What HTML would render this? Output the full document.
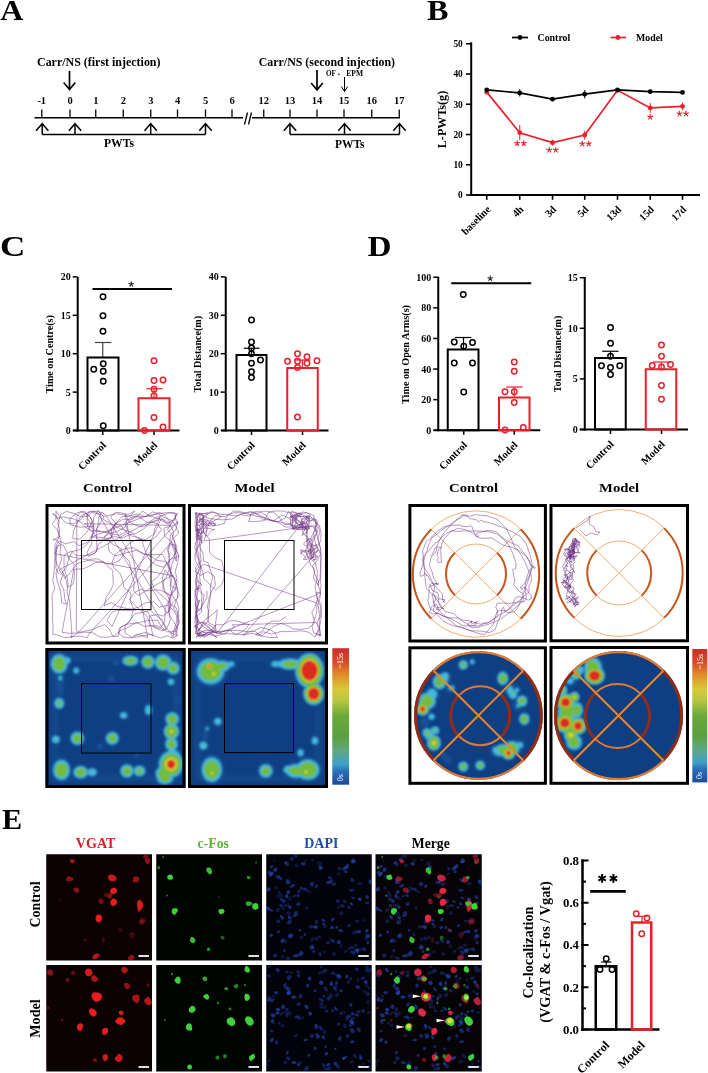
<!DOCTYPE html>
<html><head><meta charset="utf-8"><style>
html,body{margin:0;padding:0;background:#fff;width:708px;height:1073px;overflow:hidden}
svg{display:block;will-change:transform}
text{font-family:"Liberation Serif",serif}
</style></head><body>
<svg width="708" height="1073" viewBox="0 0 708 1073">
<defs>
<filter id="hb" x="-10%" y="-10%" width="120%" height="120%"><feGaussianBlur stdDeviation="1.0"/></filter>
<filter id="hb2" x="-10%" y="-10%" width="120%" height="120%"><feGaussianBlur stdDeviation="2.5"/></filter>
<filter id="cb" x="-10%" y="-10%" width="120%" height="120%"><feGaussianBlur stdDeviation="0.45"/></filter>
<linearGradient id="cbg" x1="0" y1="0" x2="0" y2="1">
<stop offset="0" stop-color="#c8302a"/><stop offset="0.1" stop-color="#d84a28"/><stop offset="0.2" stop-color="#e0902a"/>
<stop offset="0.3" stop-color="#d8c838"/><stop offset="0.38" stop-color="#b8c840"/><stop offset="0.5" stop-color="#6aa83a"/>
<stop offset="0.65" stop-color="#5aa040"/><stop offset="0.75" stop-color="#60a880"/><stop offset="0.85" stop-color="#40a0c8"/>
<stop offset="0.9" stop-color="#2a70b8"/><stop offset="1" stop-color="#1e4a98"/>
</linearGradient>
</defs>
<rect width="708" height="1073" fill="#fff"/>
<g transform="translate(0.2 20) scale(1.1 1) translate(-0.2 -20)">
<text x="0.2" y="20" font-size="29" font-weight="bold" text-anchor="start" fill="#000" font-family="'Liberation Serif', serif">A</text>
</g>
<g transform="translate(427 20) scale(1.11 1) translate(-427 -20)">
<text x="427" y="20" font-size="29" font-weight="bold" text-anchor="start" fill="#000" font-family="'Liberation Serif', serif">B</text>
</g>
<g transform="translate(0 256) scale(1.21 1) translate(0 -256)">
<text x="0" y="256" font-size="29" font-weight="bold" text-anchor="start" fill="#000" font-family="'Liberation Serif', serif">C</text>
</g>
<g transform="translate(367.5 256) scale(1.145 1) translate(-367.5 -256)">
<text x="367.5" y="256" font-size="29" font-weight="bold" text-anchor="start" fill="#000" font-family="'Liberation Serif', serif">D</text>
</g>
<g transform="translate(2 829) scale(1.04 1) translate(-2 -829)">
<text x="2" y="829" font-size="29" font-weight="bold" text-anchor="start" fill="#000" font-family="'Liberation Serif', serif">E</text>
</g>
<text x="37" y="66" font-size="12" font-weight="bold" text-anchor="start" fill="#000" font-family="'Liberation Serif', serif" textLength="123.5" lengthAdjust="spacingAndGlyphs">Carr/NS (first injection)</text>
<text x="258.75" y="66" font-size="12" font-weight="bold" text-anchor="start" fill="#000" font-family="'Liberation Serif', serif" textLength="136.25" lengthAdjust="spacingAndGlyphs">Carr/NS (second injection)</text>
<text x="326" y="76.3" font-size="7.5" font-weight="bold" text-anchor="start" fill="#000" font-family="'Liberation Serif', serif" textLength="10" lengthAdjust="spacingAndGlyphs">OF</text>
<line x1="338.3" y1="73.6" x2="339.4" y2="74.8" stroke="#000" stroke-width="1.1"/>
<text x="346.3" y="76.3" font-size="7.5" font-weight="bold" text-anchor="start" fill="#000" font-family="'Liberation Serif', serif" textLength="16.8" lengthAdjust="spacingAndGlyphs">EPM</text>
<line x1="34.5" y1="117.75" x2="400" y2="117.75" stroke="#000" stroke-width="1.4"/>
<line x1="41.75" y1="109.5" x2="41.75" y2="117.75" stroke="#000" stroke-width="1.3"/>
<text x="41.75" y="104.3" font-size="10.5" font-weight="bold" text-anchor="middle" fill="#000" font-family="'Liberation Serif', serif">-1</text>
<line x1="70" y1="109.5" x2="70" y2="117.75" stroke="#000" stroke-width="1.3"/>
<text x="70" y="104.3" font-size="10.5" font-weight="bold" text-anchor="middle" fill="#000" font-family="'Liberation Serif', serif">0</text>
<line x1="95.75" y1="109.5" x2="95.75" y2="117.75" stroke="#000" stroke-width="1.3"/>
<text x="95.75" y="104.3" font-size="10.5" font-weight="bold" text-anchor="middle" fill="#000" font-family="'Liberation Serif', serif">1</text>
<line x1="123.25" y1="109.5" x2="123.25" y2="117.75" stroke="#000" stroke-width="1.3"/>
<text x="123.25" y="104.3" font-size="10.5" font-weight="bold" text-anchor="middle" fill="#000" font-family="'Liberation Serif', serif">2</text>
<line x1="150.75" y1="109.5" x2="150.75" y2="117.75" stroke="#000" stroke-width="1.3"/>
<text x="150.75" y="104.3" font-size="10.5" font-weight="bold" text-anchor="middle" fill="#000" font-family="'Liberation Serif', serif">3</text>
<line x1="177.5" y1="109.5" x2="177.5" y2="117.75" stroke="#000" stroke-width="1.3"/>
<text x="177.5" y="104.3" font-size="10.5" font-weight="bold" text-anchor="middle" fill="#000" font-family="'Liberation Serif', serif">4</text>
<line x1="205.5" y1="109.5" x2="205.5" y2="117.75" stroke="#000" stroke-width="1.3"/>
<text x="205.5" y="104.3" font-size="10.5" font-weight="bold" text-anchor="middle" fill="#000" font-family="'Liberation Serif', serif">5</text>
<line x1="232" y1="109.5" x2="232" y2="117.75" stroke="#000" stroke-width="1.3"/>
<text x="232" y="104.3" font-size="10.5" font-weight="bold" text-anchor="middle" fill="#000" font-family="'Liberation Serif', serif">6</text>
<line x1="263.75" y1="109.5" x2="263.75" y2="117.75" stroke="#000" stroke-width="1.3"/>
<text x="263.75" y="104.3" font-size="10.5" font-weight="bold" text-anchor="middle" fill="#000" font-family="'Liberation Serif', serif">12</text>
<line x1="290" y1="109.5" x2="290" y2="117.75" stroke="#000" stroke-width="1.3"/>
<text x="290" y="104.3" font-size="10.5" font-weight="bold" text-anchor="middle" fill="#000" font-family="'Liberation Serif', serif">13</text>
<line x1="317" y1="109.5" x2="317" y2="117.75" stroke="#000" stroke-width="1.3"/>
<text x="317" y="104.3" font-size="10.5" font-weight="bold" text-anchor="middle" fill="#000" font-family="'Liberation Serif', serif">14</text>
<line x1="344" y1="109.5" x2="344" y2="117.75" stroke="#000" stroke-width="1.3"/>
<text x="344" y="104.3" font-size="10.5" font-weight="bold" text-anchor="middle" fill="#000" font-family="'Liberation Serif', serif">15</text>
<line x1="371.75" y1="109.5" x2="371.75" y2="117.75" stroke="#000" stroke-width="1.3"/>
<text x="371.75" y="104.3" font-size="10.5" font-weight="bold" text-anchor="middle" fill="#000" font-family="'Liberation Serif', serif">16</text>
<line x1="399.25" y1="109.5" x2="399.25" y2="117.75" stroke="#000" stroke-width="1.3"/>
<text x="399.25" y="104.3" font-size="10.5" font-weight="bold" text-anchor="middle" fill="#000" font-family="'Liberation Serif', serif">17</text>
<rect x="243" y="112" width="9" height="12" fill="#fff"/>
<line x1="244.5" y1="124.5" x2="247.5" y2="112.5" stroke="#000" stroke-width="1.3"/>
<line x1="248.5" y1="124.5" x2="251.5" y2="112.5" stroke="#000" stroke-width="1.3"/>
<line x1="69.5" y1="71" x2="69.5" y2="89.5" stroke="#000" stroke-width="1.7"/>
<polyline points="63.70,82.50 69.50,89.50 75.30,82.50" fill="none" stroke="#000" stroke-width="1.7"/>
<line x1="317" y1="70" x2="317" y2="90" stroke="#000" stroke-width="1.7"/>
<polyline points="311.20,83.00 317.00,90.00 322.80,83.00" fill="none" stroke="#000" stroke-width="1.7"/>
<line x1="344.5" y1="77" x2="344.5" y2="91.5" stroke="#000" stroke-width="1.0"/>
<polyline points="341.40,86.50 344.50,91.50 347.60,86.50" fill="none" stroke="#000" stroke-width="1.0"/>
<line x1="42.2" y1="123.7" x2="42.2" y2="134.5" stroke="#000" stroke-width="1.5"/>
<polyline points="36.00,130.70 42.20,123.70 48.40,130.70" fill="none" stroke="#000" stroke-width="1.5"/>
<line x1="75" y1="123.7" x2="75" y2="134.5" stroke="#000" stroke-width="1.5"/>
<polyline points="68.80,130.70 75.00,123.70 81.20,130.70" fill="none" stroke="#000" stroke-width="1.5"/>
<line x1="150.7" y1="123.7" x2="150.7" y2="134.5" stroke="#000" stroke-width="1.5"/>
<polyline points="144.50,130.70 150.70,123.70 156.90,130.70" fill="none" stroke="#000" stroke-width="1.5"/>
<line x1="205.5" y1="123.7" x2="205.5" y2="134.5" stroke="#000" stroke-width="1.5"/>
<polyline points="199.30,130.70 205.50,123.70 211.70,130.70" fill="none" stroke="#000" stroke-width="1.5"/>
<line x1="42.2" y1="134.5" x2="205.5" y2="134.5" stroke="#000" stroke-width="1.4"/>
<line x1="290" y1="123.7" x2="290" y2="134.5" stroke="#000" stroke-width="1.5"/>
<polyline points="283.80,130.70 290.00,123.70 296.20,130.70" fill="none" stroke="#000" stroke-width="1.5"/>
<line x1="344.5" y1="123.7" x2="344.5" y2="134.5" stroke="#000" stroke-width="1.5"/>
<polyline points="338.30,130.70 344.50,123.70 350.70,130.70" fill="none" stroke="#000" stroke-width="1.5"/>
<line x1="399.5" y1="123.7" x2="399.5" y2="134.5" stroke="#000" stroke-width="1.5"/>
<polyline points="393.30,130.70 399.50,123.70 405.70,130.70" fill="none" stroke="#000" stroke-width="1.5"/>
<line x1="290" y1="134.5" x2="399.5" y2="134.5" stroke="#000" stroke-width="1.4"/>
<text x="104" y="147" font-size="12" font-weight="bold" text-anchor="start" fill="#000" font-family="'Liberation Serif', serif" textLength="30" lengthAdjust="spacingAndGlyphs">PWTs</text>
<text x="335" y="147.5" font-size="12" font-weight="bold" text-anchor="start" fill="#000" font-family="'Liberation Serif', serif" textLength="29.5" lengthAdjust="spacingAndGlyphs">PWTs</text>
<line x1="471.2" y1="42.3" x2="471.2" y2="196" stroke="#000" stroke-width="2.0"/>
<line x1="470.2" y1="195" x2="700" y2="195" stroke="#000" stroke-width="2.0"/>
<line x1="466" y1="195.0" x2="471" y2="195.0" stroke="#000" stroke-width="1.6"/>
<text x="462.8" y="198.3" font-size="9.4" font-weight="bold" text-anchor="end" fill="#000" font-family="'Liberation Serif', serif">0</text>
<line x1="466" y1="164.75" x2="471" y2="164.75" stroke="#000" stroke-width="1.6"/>
<text x="462.8" y="168.05" font-size="9.4" font-weight="bold" text-anchor="end" fill="#000" font-family="'Liberation Serif', serif">10</text>
<line x1="466" y1="134.5" x2="471" y2="134.5" stroke="#000" stroke-width="1.6"/>
<text x="462.8" y="137.8" font-size="9.4" font-weight="bold" text-anchor="end" fill="#000" font-family="'Liberation Serif', serif">20</text>
<line x1="466" y1="104.25" x2="471" y2="104.25" stroke="#000" stroke-width="1.6"/>
<text x="462.8" y="107.55" font-size="9.4" font-weight="bold" text-anchor="end" fill="#000" font-family="'Liberation Serif', serif">30</text>
<line x1="466" y1="74.0" x2="471" y2="74.0" stroke="#000" stroke-width="1.6"/>
<text x="462.8" y="77.3" font-size="9.4" font-weight="bold" text-anchor="end" fill="#000" font-family="'Liberation Serif', serif">40</text>
<line x1="466" y1="43.75" x2="471" y2="43.75" stroke="#000" stroke-width="1.6"/>
<text x="462.8" y="47.05" font-size="9.4" font-weight="bold" text-anchor="end" fill="#000" font-family="'Liberation Serif', serif">50</text>
<line x1="486.75" y1="195" x2="486.75" y2="199.8" stroke="#000" stroke-width="1.6"/>
<text x="491.25" y="210" font-size="10.5" font-weight="bold" text-anchor="end" fill="#000" font-family="'Liberation Serif', serif" transform="rotate(-45 491.25 210)">baseline</text>
<line x1="519.75" y1="195" x2="519.75" y2="199.8" stroke="#000" stroke-width="1.6"/>
<text x="524.25" y="210" font-size="10.5" font-weight="bold" text-anchor="end" fill="#000" font-family="'Liberation Serif', serif" transform="rotate(-45 524.25 210)">4h</text>
<line x1="552.5" y1="195" x2="552.5" y2="199.8" stroke="#000" stroke-width="1.6"/>
<text x="557.0" y="210" font-size="10.5" font-weight="bold" text-anchor="end" fill="#000" font-family="'Liberation Serif', serif" transform="rotate(-45 557.0 210)">3d</text>
<line x1="584.75" y1="195" x2="584.75" y2="199.8" stroke="#000" stroke-width="1.6"/>
<text x="589.25" y="210" font-size="10.5" font-weight="bold" text-anchor="end" fill="#000" font-family="'Liberation Serif', serif" transform="rotate(-45 589.25 210)">5d</text>
<line x1="617.5" y1="195" x2="617.5" y2="199.8" stroke="#000" stroke-width="1.6"/>
<text x="622.0" y="210" font-size="10.5" font-weight="bold" text-anchor="end" fill="#000" font-family="'Liberation Serif', serif" transform="rotate(-45 622.0 210)">13d</text>
<line x1="650.25" y1="195" x2="650.25" y2="199.8" stroke="#000" stroke-width="1.6"/>
<text x="654.75" y="210" font-size="10.5" font-weight="bold" text-anchor="end" fill="#000" font-family="'Liberation Serif', serif" transform="rotate(-45 654.75 210)">15d</text>
<line x1="682.5" y1="195" x2="682.5" y2="199.8" stroke="#000" stroke-width="1.6"/>
<text x="687.0" y="210" font-size="10.5" font-weight="bold" text-anchor="end" fill="#000" font-family="'Liberation Serif', serif" transform="rotate(-45 687.0 210)">17d</text>
<text x="446" y="119.5" font-size="12.8" font-weight="bold" text-anchor="middle" fill="#000" font-family="'Liberation Serif', serif" transform="rotate(-90 446 119.5)" textLength="57.4" lengthAdjust="spacingAndGlyphs">L-PWTs(g)</text>
<polyline points="486.75,92.15 519.75,132.69 552.50,142.67 584.75,135.10 617.50,90.33 650.25,107.88 682.50,106.37" fill="none" stroke="#e8202a" stroke-width="1.7"/>
<line x1="486.75" y1="90.335" x2="486.75" y2="93.965" stroke="#e8202a" stroke-width="1.0"/>
<circle cx="486.75" cy="92.15" r="2.4" fill="#e8202a" stroke="none" stroke-width="0"/>
<line x1="519.75" y1="125.1225" x2="519.75" y2="140.2475" stroke="#e8202a" stroke-width="1.0"/>
<circle cx="519.75" cy="132.69" r="2.4" fill="#e8202a" stroke="none" stroke-width="0"/>
<line x1="552.5" y1="139.64249999999998" x2="552.5" y2="145.6925" stroke="#e8202a" stroke-width="1.0"/>
<circle cx="552.50" cy="142.67" r="2.4" fill="#e8202a" stroke="none" stroke-width="0"/>
<line x1="584.75" y1="130.5675" x2="584.75" y2="139.64249999999998" stroke="#e8202a" stroke-width="1.0"/>
<circle cx="584.75" cy="135.10" r="2.4" fill="#e8202a" stroke="none" stroke-width="0"/>
<line x1="617.5" y1="88.52" x2="617.5" y2="92.15" stroke="#e8202a" stroke-width="1.0"/>
<circle cx="617.50" cy="90.33" r="2.4" fill="#e8202a" stroke="none" stroke-width="0"/>
<line x1="650.25" y1="103.03999999999999" x2="650.25" y2="112.72" stroke="#e8202a" stroke-width="1.0"/>
<circle cx="650.25" cy="107.88" r="2.4" fill="#e8202a" stroke="none" stroke-width="0"/>
<line x1="682.5" y1="102.7375" x2="682.5" y2="109.9975" stroke="#e8202a" stroke-width="1.0"/>
<circle cx="682.50" cy="106.37" r="2.4" fill="#e8202a" stroke="none" stroke-width="0"/>
<polyline points="486.75,89.88 519.75,92.91 552.50,99.20 584.75,94.18 617.50,89.88 650.25,91.64 682.50,92.45" fill="none" stroke="#000" stroke-width="1.7"/>
<line x1="486.75" y1="88.06625" x2="486.75" y2="91.69625" stroke="#000" stroke-width="1.0"/>
<circle cx="486.75" cy="89.88" r="2.4" fill="#000" stroke="none" stroke-width="0"/>
<line x1="519.75" y1="89.27624999999999" x2="519.75" y2="96.53625000000001" stroke="#000" stroke-width="1.0"/>
<circle cx="519.75" cy="92.91" r="2.4" fill="#000" stroke="none" stroke-width="0"/>
<line x1="552.5" y1="97.68575" x2="552.5" y2="100.71075" stroke="#000" stroke-width="1.0"/>
<circle cx="552.50" cy="99.20" r="2.4" fill="#000" stroke="none" stroke-width="0"/>
<line x1="584.75" y1="89.94175000000001" x2="584.75" y2="98.41175" stroke="#000" stroke-width="1.0"/>
<circle cx="584.75" cy="94.18" r="2.4" fill="#000" stroke="none" stroke-width="0"/>
<line x1="617.5" y1="88.06625" x2="617.5" y2="91.69625" stroke="#000" stroke-width="1.0"/>
<circle cx="617.50" cy="89.88" r="2.4" fill="#000" stroke="none" stroke-width="0"/>
<line x1="650.25" y1="89.82074999999999" x2="650.25" y2="93.45075" stroke="#000" stroke-width="1.0"/>
<circle cx="650.25" cy="91.64" r="2.4" fill="#000" stroke="none" stroke-width="0"/>
<line x1="682.5" y1="91.2425" x2="682.5" y2="93.66250000000001" stroke="#000" stroke-width="1.0"/>
<circle cx="682.50" cy="92.45" r="2.4" fill="#000" stroke="none" stroke-width="0"/>
<path d="M517.25,143.30 L517.25,140.80 M517.25,143.30 L519.63,142.53 M517.25,143.30 L518.72,145.32 M517.25,143.30 L515.78,145.32 M517.25,143.30 L514.87,142.53 " stroke="#e8202a" stroke-width="1.2" stroke-linecap="round" fill="none"/>
<path d="M523.75,143.30 L523.75,140.80 M523.75,143.30 L526.13,142.53 M523.75,143.30 L525.22,145.32 M523.75,143.30 L522.28,145.32 M523.75,143.30 L521.37,142.53 " stroke="#e8202a" stroke-width="1.2" stroke-linecap="round" fill="none"/>
<path d="M549.25,150.00 L549.25,147.50 M549.25,150.00 L551.63,149.23 M549.25,150.00 L550.72,152.02 M549.25,150.00 L547.78,152.02 M549.25,150.00 L546.87,149.23 " stroke="#e8202a" stroke-width="1.2" stroke-linecap="round" fill="none"/>
<path d="M555.75,150.00 L555.75,147.50 M555.75,150.00 L558.13,149.23 M555.75,150.00 L557.22,152.02 M555.75,150.00 L554.28,152.02 M555.75,150.00 L553.37,149.23 " stroke="#e8202a" stroke-width="1.2" stroke-linecap="round" fill="none"/>
<path d="M582.25,143.75 L582.25,141.25 M582.25,143.75 L584.63,142.98 M582.25,143.75 L583.72,145.77 M582.25,143.75 L580.78,145.77 M582.25,143.75 L579.87,142.98 " stroke="#e8202a" stroke-width="1.2" stroke-linecap="round" fill="none"/>
<path d="M588.75,143.75 L588.75,141.25 M588.75,143.75 L591.13,142.98 M588.75,143.75 L590.22,145.77 M588.75,143.75 L587.28,145.77 M588.75,143.75 L586.37,142.98 " stroke="#e8202a" stroke-width="1.2" stroke-linecap="round" fill="none"/>
<path d="M650.25,117.00 L650.25,114.50 M650.25,117.00 L652.63,116.23 M650.25,117.00 L651.72,119.02 M650.25,117.00 L648.78,119.02 M650.25,117.00 L647.87,116.23 " stroke="#e8202a" stroke-width="1.2" stroke-linecap="round" fill="none"/>
<path d="M679.50,113.75 L679.50,111.25 M679.50,113.75 L681.88,112.98 M679.50,113.75 L680.97,115.77 M679.50,113.75 L678.03,115.77 M679.50,113.75 L677.12,112.98 " stroke="#e8202a" stroke-width="1.2" stroke-linecap="round" fill="none"/>
<path d="M686.00,113.75 L686.00,111.25 M686.00,113.75 L688.38,112.98 M686.00,113.75 L687.47,115.77 M686.00,113.75 L684.53,115.77 M686.00,113.75 L683.62,112.98 " stroke="#e8202a" stroke-width="1.2" stroke-linecap="round" fill="none"/>
<line x1="512" y1="37.5" x2="528" y2="37.5" stroke="#000" stroke-width="1.7"/>
<circle cx="520.00" cy="37.50" r="2.4" fill="#000" stroke="none" stroke-width="0"/>
<text x="537.5" y="41" font-size="10" font-weight="bold" text-anchor="start" fill="#000" font-family="'Liberation Serif', serif" textLength="32.8" lengthAdjust="spacingAndGlyphs">Control</text>
<line x1="610.5" y1="37.5" x2="626" y2="37.5" stroke="#e8202a" stroke-width="1.7"/>
<circle cx="618.00" cy="37.50" r="2.4" fill="#e8202a" stroke="none" stroke-width="0"/>
<text x="636" y="41" font-size="10" font-weight="bold" text-anchor="start" fill="#000" font-family="'Liberation Serif', serif" textLength="26.8" lengthAdjust="spacingAndGlyphs">Model</text>
<line x1="77.7" y1="277" x2="77.7" y2="431.5" stroke="#000" stroke-width="2.0"/>
<line x1="73" y1="430.5" x2="179.5" y2="430.5" stroke="#000" stroke-width="2.0"/>
<line x1="72.7" y1="430.5" x2="77.7" y2="430.5" stroke="#000" stroke-width="1.5"/>
<text x="70.7" y="434.0" font-size="10" font-weight="bold" text-anchor="end" fill="#000" font-family="'Liberation Serif', serif">0</text>
<line x1="72.7" y1="392.1" x2="77.7" y2="392.1" stroke="#000" stroke-width="1.5"/>
<text x="70.7" y="395.6" font-size="10" font-weight="bold" text-anchor="end" fill="#000" font-family="'Liberation Serif', serif">5</text>
<line x1="72.7" y1="353.7" x2="77.7" y2="353.7" stroke="#000" stroke-width="1.5"/>
<text x="70.7" y="357.2" font-size="10" font-weight="bold" text-anchor="end" fill="#000" font-family="'Liberation Serif', serif">10</text>
<line x1="72.7" y1="315.3" x2="77.7" y2="315.3" stroke="#000" stroke-width="1.5"/>
<text x="70.7" y="318.8" font-size="10" font-weight="bold" text-anchor="end" fill="#000" font-family="'Liberation Serif', serif">15</text>
<line x1="72.7" y1="276.9" x2="77.7" y2="276.9" stroke="#000" stroke-width="1.5"/>
<text x="70.7" y="280.4" font-size="10" font-weight="bold" text-anchor="end" fill="#000" font-family="'Liberation Serif', serif">20</text>
<line x1="102.75" y1="430.5" x2="102.75" y2="435.0" stroke="#000" stroke-width="1.5"/>
<line x1="154" y1="430.5" x2="154" y2="435.0" stroke="#000" stroke-width="1.5"/>
<text x="106.75" y="446.0" font-size="10.5" font-weight="bold" text-anchor="end" fill="#000" font-family="'Liberation Serif', serif" transform="rotate(-45 106.75 446.0)">Control</text>
<text x="158" y="446.0" font-size="10.5" font-weight="bold" text-anchor="end" fill="#000" font-family="'Liberation Serif', serif" transform="rotate(-45 158 446.0)">Model</text>
<line x1="102.75" y1="342.5" x2="102.75" y2="357.5" stroke="#444" stroke-width="1.2"/>
<line x1="95" y1="342.5" x2="111.25" y2="342.5" stroke="#444" stroke-width="1.2"/>
<rect x="87.5" y="357.5" width="31.0" height="73.0" fill="none" stroke="#000" stroke-width="2.0"/>
<circle cx="93.75" cy="369.25" r="2.7" fill="none" stroke="#000" stroke-width="1.5"/>
<circle cx="103.25" cy="363.75" r="2.7" fill="none" stroke="#000" stroke-width="1.5"/>
<circle cx="103.25" cy="371.25" r="2.7" fill="none" stroke="#000" stroke-width="1.5"/>
<circle cx="103.25" cy="381.25" r="2.7" fill="none" stroke="#000" stroke-width="1.5"/>
<circle cx="103.25" cy="425.75" r="2.7" fill="none" stroke="#000" stroke-width="1.5"/>
<circle cx="103.00" cy="296.75" r="2.7" fill="none" stroke="#000" stroke-width="1.5"/>
<circle cx="103.00" cy="315.75" r="2.7" fill="none" stroke="#000" stroke-width="1.5"/>
<circle cx="103.00" cy="331.25" r="2.7" fill="none" stroke="#000" stroke-width="1.5"/>
<line x1="154" y1="388.75" x2="154" y2="398.25" stroke="#e8202a" stroke-width="1.2"/>
<line x1="146.25" y1="388.75" x2="162.5" y2="388.75" stroke="#e8202a" stroke-width="1.2"/>
<rect x="138.5" y="398.25" width="31.0" height="32.25" fill="none" stroke="#e8202a" stroke-width="2.0"/>
<circle cx="154.00" cy="360.75" r="2.7" fill="none" stroke="#e8202a" stroke-width="1.5"/>
<circle cx="154.00" cy="380.50" r="2.7" fill="none" stroke="#e8202a" stroke-width="1.5"/>
<circle cx="163.00" cy="380.00" r="2.7" fill="none" stroke="#e8202a" stroke-width="1.5"/>
<circle cx="154.00" cy="389.25" r="2.7" fill="none" stroke="#e8202a" stroke-width="1.5"/>
<circle cx="154.00" cy="395.75" r="2.7" fill="none" stroke="#e8202a" stroke-width="1.5"/>
<circle cx="154.00" cy="417.50" r="2.7" fill="none" stroke="#e8202a" stroke-width="1.5"/>
<circle cx="144.50" cy="430.50" r="2.7" fill="none" stroke="#e8202a" stroke-width="1.5"/>
<circle cx="163.00" cy="427.00" r="2.7" fill="none" stroke="#e8202a" stroke-width="1.5"/>
<text x="53" y="354.3" font-size="10.5" font-weight="bold" text-anchor="middle" fill="#000" font-family="'Liberation Serif', serif" transform="rotate(-90 53 354.3)" textLength="78.4" lengthAdjust="spacingAndGlyphs">Time on Centre(s)</text>
<line x1="92.5" y1="289" x2="172" y2="289" stroke="#000" stroke-width="1.8"/>
<path d="M131.25,284.20 L131.25,281.80 M131.25,284.20 L133.53,283.46 M131.25,284.20 L132.66,286.14 M131.25,284.20 L129.84,286.14 M131.25,284.20 L128.97,283.46 " stroke="#222" stroke-width="1.1" stroke-linecap="round" fill="none"/>
<line x1="225.75" y1="277" x2="225.75" y2="431.5" stroke="#000" stroke-width="2.0"/>
<line x1="221.25" y1="430.5" x2="328.5" y2="430.5" stroke="#000" stroke-width="2.0"/>
<line x1="220.75" y1="430.5" x2="225.75" y2="430.5" stroke="#000" stroke-width="1.5"/>
<text x="218.75" y="434.0" font-size="10" font-weight="bold" text-anchor="end" fill="#000" font-family="'Liberation Serif', serif">0</text>
<line x1="220.75" y1="392.1" x2="225.75" y2="392.1" stroke="#000" stroke-width="1.5"/>
<text x="218.75" y="395.6" font-size="10" font-weight="bold" text-anchor="end" fill="#000" font-family="'Liberation Serif', serif">10</text>
<line x1="220.75" y1="353.7" x2="225.75" y2="353.7" stroke="#000" stroke-width="1.5"/>
<text x="218.75" y="357.2" font-size="10" font-weight="bold" text-anchor="end" fill="#000" font-family="'Liberation Serif', serif">20</text>
<line x1="220.75" y1="315.3" x2="225.75" y2="315.3" stroke="#000" stroke-width="1.5"/>
<text x="218.75" y="318.8" font-size="10" font-weight="bold" text-anchor="end" fill="#000" font-family="'Liberation Serif', serif">30</text>
<line x1="220.75" y1="276.9" x2="225.75" y2="276.9" stroke="#000" stroke-width="1.5"/>
<text x="218.75" y="280.4" font-size="10" font-weight="bold" text-anchor="end" fill="#000" font-family="'Liberation Serif', serif">40</text>
<line x1="251.5" y1="430.5" x2="251.5" y2="435.0" stroke="#000" stroke-width="1.5"/>
<line x1="302.5" y1="430.5" x2="302.5" y2="435.0" stroke="#000" stroke-width="1.5"/>
<text x="255.5" y="446.0" font-size="10.5" font-weight="bold" text-anchor="end" fill="#000" font-family="'Liberation Serif', serif" transform="rotate(-45 255.5 446.0)">Control</text>
<text x="306.5" y="446.0" font-size="10.5" font-weight="bold" text-anchor="end" fill="#000" font-family="'Liberation Serif', serif" transform="rotate(-45 306.5 446.0)">Model</text>
<line x1="251.5" y1="348.25" x2="251.5" y2="355" stroke="#000" stroke-width="1.2"/>
<line x1="243.75" y1="348.25" x2="259.5" y2="348.25" stroke="#000" stroke-width="1.2"/>
<rect x="236.5" y="355" width="30.0" height="75.5" fill="none" stroke="#000" stroke-width="2.0"/>
<circle cx="251.50" cy="320.00" r="2.7" fill="none" stroke="#000" stroke-width="1.5"/>
<circle cx="251.50" cy="342.00" r="2.7" fill="none" stroke="#000" stroke-width="1.5"/>
<circle cx="251.50" cy="348.00" r="2.7" fill="none" stroke="#000" stroke-width="1.5"/>
<circle cx="251.50" cy="353.75" r="2.7" fill="none" stroke="#000" stroke-width="1.5"/>
<circle cx="251.50" cy="363.25" r="2.7" fill="none" stroke="#000" stroke-width="1.5"/>
<circle cx="260.50" cy="360.00" r="2.7" fill="none" stroke="#000" stroke-width="1.5"/>
<circle cx="251.50" cy="371.75" r="2.7" fill="none" stroke="#000" stroke-width="1.5"/>
<circle cx="251.50" cy="377.50" r="2.7" fill="none" stroke="#000" stroke-width="1.5"/>
<line x1="302.5" y1="360" x2="302.5" y2="368" stroke="#e8202a" stroke-width="1.2"/>
<line x1="294" y1="360" x2="310.5" y2="360" stroke="#e8202a" stroke-width="1.2"/>
<rect x="287.25" y="368" width="30.5" height="62.5" fill="none" stroke="#e8202a" stroke-width="2.0"/>
<circle cx="297.50" cy="353.75" r="2.7" fill="none" stroke="#e8202a" stroke-width="1.5"/>
<circle cx="307.00" cy="356.75" r="2.7" fill="none" stroke="#e8202a" stroke-width="1.5"/>
<circle cx="287.50" cy="361.25" r="2.7" fill="none" stroke="#e8202a" stroke-width="1.5"/>
<circle cx="297.50" cy="361.25" r="2.7" fill="none" stroke="#e8202a" stroke-width="1.5"/>
<circle cx="307.00" cy="363.25" r="2.7" fill="none" stroke="#e8202a" stroke-width="1.5"/>
<circle cx="317.00" cy="360.75" r="2.7" fill="none" stroke="#e8202a" stroke-width="1.5"/>
<circle cx="297.50" cy="367.50" r="2.7" fill="none" stroke="#e8202a" stroke-width="1.5"/>
<circle cx="297.50" cy="417.00" r="2.7" fill="none" stroke="#e8202a" stroke-width="1.5"/>
<text x="200.6" y="354.25" font-size="10.5" font-weight="bold" text-anchor="middle" fill="#000" font-family="'Liberation Serif', serif" transform="rotate(-90 200.6 354.25)" textLength="76.5" lengthAdjust="spacingAndGlyphs">Total Distance(m)</text>
<line x1="438.25" y1="276.75" x2="438.25" y2="431.25" stroke="#000" stroke-width="2.0"/>
<line x1="433.75" y1="430.25" x2="540.25" y2="430.25" stroke="#000" stroke-width="2.0"/>
<line x1="433.25" y1="430.25" x2="438.25" y2="430.25" stroke="#000" stroke-width="1.5"/>
<text x="431.25" y="433.75" font-size="10" font-weight="bold" text-anchor="end" fill="#000" font-family="'Liberation Serif', serif">0</text>
<line x1="433.25" y1="399.65" x2="438.25" y2="399.65" stroke="#000" stroke-width="1.5"/>
<text x="431.25" y="403.15" font-size="10" font-weight="bold" text-anchor="end" fill="#000" font-family="'Liberation Serif', serif">20</text>
<line x1="433.25" y1="369.05" x2="438.25" y2="369.05" stroke="#000" stroke-width="1.5"/>
<text x="431.25" y="372.55" font-size="10" font-weight="bold" text-anchor="end" fill="#000" font-family="'Liberation Serif', serif">40</text>
<line x1="433.25" y1="338.45" x2="438.25" y2="338.45" stroke="#000" stroke-width="1.5"/>
<text x="431.25" y="341.95" font-size="10" font-weight="bold" text-anchor="end" fill="#000" font-family="'Liberation Serif', serif">60</text>
<line x1="433.25" y1="307.85" x2="438.25" y2="307.85" stroke="#000" stroke-width="1.5"/>
<text x="431.25" y="311.35" font-size="10" font-weight="bold" text-anchor="end" fill="#000" font-family="'Liberation Serif', serif">80</text>
<line x1="433.25" y1="277.25" x2="438.25" y2="277.25" stroke="#000" stroke-width="1.5"/>
<text x="431.25" y="280.75" font-size="10" font-weight="bold" text-anchor="end" fill="#000" font-family="'Liberation Serif', serif">100</text>
<line x1="463.75" y1="430.25" x2="463.75" y2="434.75" stroke="#000" stroke-width="1.5"/>
<line x1="514.25" y1="430.25" x2="514.25" y2="434.75" stroke="#000" stroke-width="1.5"/>
<text x="467.75" y="445.75" font-size="10.5" font-weight="bold" text-anchor="end" fill="#000" font-family="'Liberation Serif', serif" transform="rotate(-45 467.75 445.75)">Control</text>
<text x="518.25" y="445.75" font-size="10.5" font-weight="bold" text-anchor="end" fill="#000" font-family="'Liberation Serif', serif" transform="rotate(-45 518.25 445.75)">Model</text>
<line x1="463.5" y1="337.5" x2="463.5" y2="349.5" stroke="#000" stroke-width="1.2"/>
<line x1="455" y1="337.5" x2="471.25" y2="337.5" stroke="#000" stroke-width="1.2"/>
<rect x="447.75" y="349.5" width="30.75" height="80.75" fill="none" stroke="#000" stroke-width="2.0"/>
<circle cx="463.25" cy="294.50" r="2.7" fill="none" stroke="#000" stroke-width="1.5"/>
<circle cx="454.25" cy="342.00" r="2.7" fill="none" stroke="#000" stroke-width="1.5"/>
<circle cx="463.75" cy="346.25" r="2.7" fill="none" stroke="#000" stroke-width="1.5"/>
<circle cx="472.50" cy="342.50" r="2.7" fill="none" stroke="#000" stroke-width="1.5"/>
<circle cx="454.25" cy="363.00" r="2.7" fill="none" stroke="#000" stroke-width="1.5"/>
<circle cx="472.50" cy="363.00" r="2.7" fill="none" stroke="#000" stroke-width="1.5"/>
<circle cx="463.75" cy="392.00" r="2.7" fill="none" stroke="#000" stroke-width="1.5"/>
<line x1="514.25" y1="387" x2="514.25" y2="397.5" stroke="#e8202a" stroke-width="1.2"/>
<line x1="506.25" y1="387" x2="522.5" y2="387" stroke="#e8202a" stroke-width="1.2"/>
<rect x="499.0" y="397.5" width="30.5" height="32.75" fill="none" stroke="#e8202a" stroke-width="2.0"/>
<circle cx="514.25" cy="362.00" r="2.7" fill="none" stroke="#e8202a" stroke-width="1.5"/>
<circle cx="514.25" cy="371.25" r="2.7" fill="none" stroke="#e8202a" stroke-width="1.5"/>
<circle cx="505.00" cy="391.75" r="2.7" fill="none" stroke="#e8202a" stroke-width="1.5"/>
<circle cx="514.25" cy="391.75" r="2.7" fill="none" stroke="#e8202a" stroke-width="1.5"/>
<circle cx="514.25" cy="402.50" r="2.7" fill="none" stroke="#e8202a" stroke-width="1.5"/>
<circle cx="505.00" cy="430.00" r="2.7" fill="none" stroke="#e8202a" stroke-width="1.5"/>
<circle cx="523.25" cy="427.50" r="2.7" fill="none" stroke="#e8202a" stroke-width="1.5"/>
<text x="409" y="354.5" font-size="10.5" font-weight="bold" text-anchor="middle" fill="#000" font-family="'Liberation Serif', serif" transform="rotate(-90 409 354.5)" textLength="99" lengthAdjust="spacingAndGlyphs">Time on Open Arms(s)</text>
<line x1="451.25" y1="283.25" x2="531.25" y2="283.25" stroke="#000" stroke-width="1.8"/>
<path d="M490.25,278.45 L490.25,276.05 M490.25,278.45 L492.53,277.71 M490.25,278.45 L491.66,280.39 M490.25,278.45 L488.84,280.39 M490.25,278.45 L487.97,277.71 " stroke="#222" stroke-width="1.1" stroke-linecap="round" fill="none"/>
<line x1="584.75" y1="277" x2="584.75" y2="430.5" stroke="#000" stroke-width="2.0"/>
<line x1="579.75" y1="429.5" x2="688" y2="429.5" stroke="#000" stroke-width="2.0"/>
<line x1="579.75" y1="429.5" x2="584.75" y2="429.5" stroke="#000" stroke-width="1.5"/>
<text x="577.75" y="433.0" font-size="10" font-weight="bold" text-anchor="end" fill="#000" font-family="'Liberation Serif', serif">0</text>
<line x1="579.75" y1="378.9" x2="584.75" y2="378.9" stroke="#000" stroke-width="1.5"/>
<text x="577.75" y="382.4" font-size="10" font-weight="bold" text-anchor="end" fill="#000" font-family="'Liberation Serif', serif">5</text>
<line x1="579.75" y1="328.3" x2="584.75" y2="328.3" stroke="#000" stroke-width="1.5"/>
<text x="577.75" y="331.8" font-size="10" font-weight="bold" text-anchor="end" fill="#000" font-family="'Liberation Serif', serif">10</text>
<line x1="579.75" y1="277.70000000000005" x2="584.75" y2="277.70000000000005" stroke="#000" stroke-width="1.5"/>
<text x="577.75" y="281.20000000000005" font-size="10" font-weight="bold" text-anchor="end" fill="#000" font-family="'Liberation Serif', serif">15</text>
<line x1="610.5" y1="429.5" x2="610.5" y2="434.0" stroke="#000" stroke-width="1.5"/>
<line x1="661.5" y1="429.5" x2="661.5" y2="434.0" stroke="#000" stroke-width="1.5"/>
<text x="614.5" y="445.0" font-size="10.5" font-weight="bold" text-anchor="end" fill="#000" font-family="'Liberation Serif', serif" transform="rotate(-45 614.5 445.0)">Control</text>
<text x="665.5" y="445.0" font-size="10.5" font-weight="bold" text-anchor="end" fill="#000" font-family="'Liberation Serif', serif" transform="rotate(-45 665.5 445.0)">Model</text>
<line x1="610.5" y1="351.25" x2="610.5" y2="358" stroke="#000" stroke-width="1.2"/>
<line x1="602.25" y1="351.25" x2="618.5" y2="351.25" stroke="#000" stroke-width="1.2"/>
<rect x="595.0" y="358" width="30.75" height="71.5" fill="none" stroke="#000" stroke-width="2.0"/>
<circle cx="610.50" cy="327.50" r="2.7" fill="none" stroke="#000" stroke-width="1.5"/>
<circle cx="610.50" cy="343.25" r="2.7" fill="none" stroke="#000" stroke-width="1.5"/>
<circle cx="610.50" cy="356.25" r="2.7" fill="none" stroke="#000" stroke-width="1.5"/>
<circle cx="601.50" cy="365.75" r="2.7" fill="none" stroke="#000" stroke-width="1.5"/>
<circle cx="610.50" cy="367.50" r="2.7" fill="none" stroke="#000" stroke-width="1.5"/>
<circle cx="619.75" cy="365.75" r="2.7" fill="none" stroke="#000" stroke-width="1.5"/>
<circle cx="610.50" cy="374.50" r="2.7" fill="none" stroke="#000" stroke-width="1.5"/>
<line x1="661.25" y1="362" x2="661.25" y2="369.25" stroke="#e8202a" stroke-width="1.2"/>
<line x1="653" y1="362" x2="669.5" y2="362" stroke="#e8202a" stroke-width="1.2"/>
<rect x="645.75" y="369.25" width="30.5" height="60.25" fill="none" stroke="#e8202a" stroke-width="2.0"/>
<circle cx="661.50" cy="345.00" r="2.7" fill="none" stroke="#e8202a" stroke-width="1.5"/>
<circle cx="661.50" cy="356.25" r="2.7" fill="none" stroke="#e8202a" stroke-width="1.5"/>
<circle cx="652.25" cy="365.50" r="2.7" fill="none" stroke="#e8202a" stroke-width="1.5"/>
<circle cx="661.50" cy="367.00" r="2.7" fill="none" stroke="#e8202a" stroke-width="1.5"/>
<circle cx="670.50" cy="364.50" r="2.7" fill="none" stroke="#e8202a" stroke-width="1.5"/>
<circle cx="661.50" cy="385.50" r="2.7" fill="none" stroke="#e8202a" stroke-width="1.5"/>
<circle cx="661.50" cy="399.25" r="2.7" fill="none" stroke="#e8202a" stroke-width="1.5"/>
<text x="561.2" y="354" font-size="10.5" font-weight="bold" text-anchor="middle" fill="#000" font-family="'Liberation Serif', serif" transform="rotate(-90 561.2 354)" textLength="76.5" lengthAdjust="spacingAndGlyphs">Total Distance(m)</text>
<line x1="582.5" y1="859.5" x2="582.5" y2="1030.75" stroke="#000" stroke-width="2.5"/>
<line x1="581.3" y1="1029.5" x2="659.5" y2="1029.5" stroke="#000" stroke-width="2.5"/>
<line x1="581.25" y1="1029.5" x2="588.5" y2="1029.5" stroke="#000" stroke-width="2.0"/>
<text x="579.0" y="1033.98" font-size="12.8" font-weight="bold" text-anchor="end" fill="#000" font-family="'Liberation Serif', serif">0.0</text>
<line x1="581.25" y1="987.25" x2="588.5" y2="987.25" stroke="#000" stroke-width="2.0"/>
<text x="579.0" y="991.73" font-size="12.8" font-weight="bold" text-anchor="end" fill="#000" font-family="'Liberation Serif', serif">0.2</text>
<line x1="581.25" y1="945.0" x2="588.5" y2="945.0" stroke="#000" stroke-width="2.0"/>
<text x="579.0" y="949.48" font-size="12.8" font-weight="bold" text-anchor="end" fill="#000" font-family="'Liberation Serif', serif">0.4</text>
<line x1="581.25" y1="902.75" x2="588.5" y2="902.75" stroke="#000" stroke-width="2.0"/>
<text x="579.0" y="907.23" font-size="12.8" font-weight="bold" text-anchor="end" fill="#000" font-family="'Liberation Serif', serif">0.6</text>
<line x1="581.25" y1="860.5" x2="588.5" y2="860.5" stroke="#000" stroke-width="2.0"/>
<text x="579.0" y="864.98" font-size="12.8" font-weight="bold" text-anchor="end" fill="#000" font-family="'Liberation Serif', serif">0.8</text>
<line x1="582.5" y1="1008.375" x2="586.0" y2="1008.375" stroke="#000" stroke-width="2.0"/>
<line x1="582.5" y1="966.125" x2="586.0" y2="966.125" stroke="#000" stroke-width="2.0"/>
<line x1="582.5" y1="923.875" x2="586.0" y2="923.875" stroke="#000" stroke-width="2.0"/>
<line x1="582.5" y1="881.625" x2="586.0" y2="881.625" stroke="#000" stroke-width="2.0"/>
<text x="610" y="1046.0" font-size="12" font-weight="bold" text-anchor="end" fill="#000" font-family="'Liberation Serif', serif" transform="rotate(-45 610 1046.0)">Control</text>
<text x="645.5" y="1046.0" font-size="12" font-weight="bold" text-anchor="end" fill="#000" font-family="'Liberation Serif', serif" transform="rotate(-45 645.5 1046.0)">Model</text>
<line x1="606.25" y1="962" x2="606.25" y2="966.25" stroke="#000" stroke-width="1.2"/>
<line x1="601.25" y1="962" x2="611.25" y2="962" stroke="#000" stroke-width="1.2"/>
<rect x="595.75" y="966.25" width="20.5" height="63.25" fill="none" stroke="#000" stroke-width="2.5"/>
<circle cx="606.25" cy="958.75" r="2.7" fill="none" stroke="#000" stroke-width="1.5"/>
<circle cx="600.00" cy="969.50" r="2.7" fill="none" stroke="#000" stroke-width="1.5"/>
<circle cx="612.00" cy="969.50" r="2.7" fill="none" stroke="#000" stroke-width="1.5"/>
<line x1="642" y1="916.25" x2="642" y2="922.5" stroke="#e8202a" stroke-width="1.2"/>
<line x1="637" y1="916.25" x2="647.5" y2="916.25" stroke="#e8202a" stroke-width="1.2"/>
<rect x="632.0" y="922.5" width="19.25" height="107.0" fill="none" stroke="#e8202a" stroke-width="2.5"/>
<circle cx="636.25" cy="913.75" r="2.7" fill="none" stroke="#e8202a" stroke-width="1.5"/>
<circle cx="647.00" cy="918.00" r="2.7" fill="none" stroke="#e8202a" stroke-width="1.5"/>
<circle cx="641.75" cy="933.75" r="2.7" fill="none" stroke="#e8202a" stroke-width="1.5"/>
<text x="0" y="0" font-size="10.5" font-weight="bold" text-anchor="middle" fill="#000" font-family="'Liberation Serif', serif" transform="rotate(-90 0 0)"></text>
<line x1="590.2" y1="891.4" x2="625.75" y2="891.4" stroke="#000" stroke-width="2.6"/>
<path d="M602.10,874.10 L602.10,882.70 M598.38,876.25 L605.82,880.55 M605.82,876.25 L598.38,880.55 " stroke="#000" stroke-width="2.0" stroke-linecap="butt" fill="none"/>
<path d="M613.40,874.10 L613.40,882.70 M609.68,876.25 L617.12,880.55 M617.12,876.25 L609.68,880.55 " stroke="#000" stroke-width="2.0" stroke-linecap="butt" fill="none"/>
<text x="533.3" y="952.5" font-size="14.2" font-weight="bold" text-anchor="middle" fill="#000" font-family="'Liberation Serif', serif" transform="rotate(-90 533.3 952.5)" textLength="92" lengthAdjust="spacingAndGlyphs">Co-localization</text>
<text x="550.3" y="952" font-size="14.2" font-weight="bold" text-anchor="middle" fill="#000" font-family="'Liberation Serif', serif" transform="rotate(-90 550.3 952)" textLength="141.7" lengthAdjust="spacingAndGlyphs">(VGAT &amp; c-Fos / Vgat)</text>
<text x="107.5" y="492.3" font-size="12.5" font-weight="bold" text-anchor="middle" fill="#000" font-family="'Liberation Serif', serif" textLength="49" lengthAdjust="spacingAndGlyphs">Control</text>
<text x="254.6" y="492.3" font-size="12.5" font-weight="bold" text-anchor="middle" fill="#000" font-family="'Liberation Serif', serif" textLength="40" lengthAdjust="spacingAndGlyphs">Model</text>
<text x="473.5" y="492.3" font-size="12.5" font-weight="bold" text-anchor="middle" fill="#000" font-family="'Liberation Serif', serif" textLength="49" lengthAdjust="spacingAndGlyphs">Control</text>
<text x="619.1" y="492.3" font-size="12.5" font-weight="bold" text-anchor="middle" fill="#000" font-family="'Liberation Serif', serif" textLength="40" lengthAdjust="spacingAndGlyphs">Model</text>
<rect x="45.5" y="504" width="140" height="140" fill="#fff" stroke="none" stroke-width="0"/>
<path d="M58.6,573.9 L55.8,568.0 L56.2,560.0 L56.6,553.5 L56.4,544.9 L59.1,541.2 L65.5,543.7 L74.5,541.7 L78.9,545.7 L87.4,542.5 L92.1,534.7 L95.9,531.3 L98.6,522.8 L99.0,517.2 L101.2,511.9 L107.1,516.0 L115.0,513.8 L121.5,514.3 L128.3,516.5 L137.3,513.8 L145.4,516.6 L152.5,511.9 L157.8,513.6 L163.5,517.1 L172.5,520.8 L176.3,527.3 L178.9,532.9 L173.5,538.1 L175.3,545.6 L174.5,555.8 L176.3,561.2 L176.5,555.6 L173.6,549.4 L171.7,544.1 L176.7,545.4 L176.8,549.7 L173.6,556.2 L168.7,562.0 L163.4,567.3 L155.1,564.8 L148.7,558.9 L145.9,552.8 L143.2,544.7 L141.8,538.7 L131.5,535.9 L126.8,532.8 L122.0,526.9 L115.6,523.0 L112.3,530.2 L105.8,532.1 L96.2,531.3 L90.6,526.9 L84.0,523.6 L170.5,525.4 L168.8,520.1 L163.7,514.0 L158.5,512.4 L150.8,516.0 L143.0,516.7 L135.8,516.9 L128.9,521.3 L124.6,527.4 L117.2,531.5 L108.9,533.4 L103.5,537.8 L121.7,516.7 L130.9,515.7 L134.6,511.1 L128.2,514.4 L120.7,512.9 L115.9,512.2 L110.5,516.9 L115.6,523.4 L113.6,531.5 L111.5,537.7 L103.9,540.0 L98.2,544.5 L96.1,552.1 L88.4,556.4 L87.0,552.2 L91.7,544.0 L91.7,538.6 L93.8,528.2 L92.0,520.3 L87.7,514.1 L80.6,511.5 L75.7,513.8 L69.8,518.5 L70.3,524.6 L79.7,527.2 L88.9,526.6 L93.4,526.8 L92.7,526.9 L87.8,518.9 L86.3,513.3 L91.3,511.9 L98.6,514.3 L166.3,629.1 L163.9,630.8 L158.3,625.9 L148.9,625.7 L149.7,616.0 L158.3,614.6 L163.1,616.1 L169.2,611.0 L170.1,603.4 L171.1,596.5 L173.9,590.9 L176.4,588.8 L171.4,586.4 L169.4,575.5 L165.2,570.0 L162.5,577.6 L163.3,584.2 L164.7,591.5 L168.3,596.9 L170.5,605.0 L168.7,610.9 L170.3,620.0 L166.9,628.6 L161.1,630.4 L154.6,627.7 L152.4,620.1 L147.7,612.0 L139.8,609.3 L130.2,610.6 L125.0,610.4 L116.4,610.2 L111.2,612.9 L107.1,620.1 L112.0,626.5 L161.4,518.2 L165.8,523.0 L171.3,526.3 L173.6,532.0 L171.2,543.6 L175.3,549.6 L178.6,556.1 L177.7,563.1 L175.2,571.6 L177.0,578.2 L174.1,585.1 L171.0,594.4 L169.5,599.7 L165.3,607.5 L165.1,614.7 L164.7,621.7 L160.1,628.4 L152.1,625.8 L144.4,626.3 L136.8,622.6 L126.6,624.4 L120.6,627.4 L119.0,633.6 L123.0,637.1 L131.3,637.8 L136.8,634.1 L147.7,637.7 L125.1,513.8 L128.9,521.8 L137.2,525.8 L143.6,526.7 L151.8,521.9 L157.4,524.2 L161.6,529.6 L157.0,535.8 L151.4,540.1 L143.0,541.0 L135.7,536.5 L131.5,532.0 L120.9,529.1 L102.8,519.1 L103.7,517.0 L98.9,511.0 L88.7,511.6 L87.1,516.7 L87.9,527.4 L93.0,532.1 L98.2,539.4 L108.3,539.1 L112.4,544.2 L120.4,548.0 L123.5,555.5 L129.6,561.6 L130.4,566.7 L132.1,576.2 L134.3,582.4 L133.6,590.6 L138.0,595.6 L170.8,576.1 L173.5,576.6 L175.7,582.8 L177.3,589.3 L177.6,597.6 L172.3,603.1 L169.2,611.1 L167.1,612.9 L106.8,516.9 L102.7,515.4 L97.9,511.0 L93.5,518.0 L93.2,526.4 L93.2,532.4 L91.4,538.9 L86.5,544.9 L80.0,549.5 L71.8,551.7 L68.4,560.0 L66.0,568.7 L62.1,571.6 L64.7,578.4 L70.4,572.6 L73.6,568.2 L76.9,563.7 L83.2,561.9 L92.1,559.0 L98.1,558.9 L106.1,563.9 L113.5,563.2 L119.2,560.6 L125.0,553.1 L129.7,552.1 L136.6,550.1 L144.9,554.1 L150.9,556.2 L157.1,560.4 L165.7,561.5 L169.7,566.7 L171.8,574.6 L177.3,580.6 L174.9,589.7 L170.1,594.9 L169.1,601.9 L168.1,606.6 L169.7,615.9 L174.3,622.3 L177.7,629.2 L175.7,633.6 L177.7,635.6 L175.4,630.0 L179.0,622.4 L178.7,614.8 L176.0,607.4 L170.2,604.6 L165.6,598.6 L159.4,593.8 L154.2,588.6 L151.5,581.8 L157.0,577.6 L161.8,571.5 L166.3,563.7 L170.9,559.2 L179.0,556.3 L176.8,550.9 L172.0,542.8 L169.2,539.6 L164.5,535.9 L164.1,528.0 L171.5,526.2 L178.2,523.2 L176.2,521.0 L174.7,512.8 L168.8,513.1 L161.5,515.9 L155.5,520.6 L150.1,522.3 L144.1,528.7 L136.2,533.3 L129.5,534.9 L122.2,537.9 L114.6,536.6 L107.5,538.3 L99.7,537.3 L91.5,537.0 L141.2,517.8 L148.1,515.4 L155.6,514.4 L163.3,513.0 L169.7,512.5 L176.2,513.5 L175.0,519.5 L169.8,523.3 L163.7,519.7 L157.2,518.3 L149.9,515.8 L142.4,511.0 L138.0,515.7 L130.8,517.5 L124.8,522.7 L127.5,530.5 L120.0,535.3 L113.4,534.2 L107.0,532.8 L97.3,530.3 L91.2,531.0 L85.0,526.8 L79.9,521.6 L73.1,518.8 L63.1,516.9 L56.6,518.3 L52.8,513.4 L56.4,516.1 L59.3,522.2 L57.8,528.7 L59.4,536.8 L52.8,539.9 L56.8,539.8 L59.5,543.5 L55.7,548.2 L54.3,553.6 L173.2,575.8 L171.1,573.5 L168.5,565.3 L169.3,558.9 L167.6,549.5 L169.9,542.3 L170.4,535.0 L175.7,530.3 L178.0,521.0 L79.1,631.8 L76.3,630.6 L76.9,516.5 L79.8,512.5 L84.4,511.0 L90.5,517.9 L92.1,520.7 L89.5,527.9 L85.7,533.4 L79.6,539.2 L72.8,538.6 L73.4,530.7 L76.5,524.7 L80.2,516.9 L88.3,515.7 L93.3,511.0 L100.1,514.3 L101.9,520.7 L96.9,528.4 L96.5,536.2 L96.7,541.0 L97.0,551.0 L92.1,554.8 L84.7,555.5 L76.2,555.4 L71.4,551.1 L64.1,555.1 L64.0,561.7 L64.2,569.2 L67.2,577.2 L68.0,584.0 L66.9,591.9 L69.6,600.9 L70.1,607.7 L71.9,634.8 L70.9,638.0 L76.8,633.3 L84.9,632.1 L92.4,632.8 L100.5,637.2 L109.0,637.1 L114.5,635.9 L120.5,630.6 L126.6,628.1 L133.7,623.9 L141.6,622.0 L149.8,620.2 L157.5,620.3 L161.6,627.0 L167.1,631.8 L175.9,631.7 L179.0,622.8 L177.7,614.8 L179.0,608.7 L176.9,601.9 L171.7,594.7 L170.2,586.6 L171.6,579.6 L170.1,571.6 L169.0,566.3 L169.4,555.4 L168.1,550.0 L171.0,542.7 L88.9,634.3 L87.2,637.7 L80.1,636.0 L72.8,636.6 L64.9,637.7 L56.8,634.7 L52.7,634.1 L53.2,625.5 L52.3,619.3 L52.8,611.3 L52.4,604.5 L52.0,594.8 L54.9,588.1 L52.7,580.9 L53.4,577.3 L54.5,566.9 L54.9,560.3 L55.3,552.8 L55.0,544.7 L58.5,538.2 L59.9,529.3 L57.7,523.6 L60.7,514.7 L66.2,511.4 L73.3,513.1 L80.2,516.5 L85.8,513.2 L81.4,519.1 L73.7,523.9 L65.7,523.0 L60.6,517.5 L55.9,511.0 L56.2,517.8 L52.2,524.3 L57.3,529.9 L59.5,536.3 L61.1,541.4 L60.0,553.1 L61.6,558.9 L59.8,564.6 L55.9,572.8 L57.3,581.7 L59.6,587.8 L61.1,595.5 L61.7,602.7 L66.5,604.3 L64.8,598.9 L63.7,589.0 L60.0,582.9 L62.7,575.1 L59.1,569.9 L160.4,515.7 L158.1,521.6 L154.7,528.6 L153.8,534.1 L146.3,539.3 L137.3,539.5 L130.8,542.3 L126.7,545.9 L123.7,553.9 L115.0,555.8 L108.9,551.1 L108.2,544.7 L111.4,536.6 L111.4,528.6 L115.9,523.5 L122.6,519.3 L129.8,519.5 L138.0,515.8 L145.9,521.9 L152.2,522.8 L159.3,519.6 L167.7,523.2 L174.6,519.0 L177.6,513.1 L176.3,514.9 L172.2,522.3 L167.3,529.7 L172.3,535.0 L175.1,543.2 L176.1,551.4 L173.9,559.3 L171.4,565.2 L170.5,573.4 L174.4,579.3 L176.8,586.6 L179.0,594.4 L176.2,600.4 L173.7,608.2 L177.5,614.5 L176.7,621.9 L174.3,629.0 L172.9,637.4 L170.7,633.4 L175.1,629.6 L177.9,623.8 L176.6,615.9 L173.8,610.5 L167.6,605.4 L159.3,607.3 L154.0,601.8 L144.8,603.0 L138.9,607.0 L131.8,609.2 L124.3,608.0 L117.0,606.2 L111.3,602.5 L104.3,605.8 L106.1,597.5 L109.2,592.8 L113.4,584.5 L113.0,577.1 L112.6,570.4 L106.9,565.5 L103.3,561.4 L94.2,563.2 L90.4,565.5 L83.3,568.8 L74.4,569.2 L74.2,579.3 L72.7,584.3 L67.5,587.5 L65.5,577.2 L62.3,570.9 L57.3,566.0 L55.1,558.0 L55.6,552.7 L58.3,545.7 L62.8,544.7 L66.5,551.3 L69.1,559.1 L74.2,564.0 L73.2,572.6 L62.0,632.3 L69.8,633.4 L77.0,632.9 L85.1,631.0 L91.1,630.1 L98.0,627.1 L104.6,624.6 L108.9,628.8 L112.9,636.4 L118.2,636.4 L119.3,628.1 L128.5,622.9 L131.5,617.8 L133.5,608.3 L130.3,601.4 L131.0,593.4 L123.8,587.1 L123.2,581.5 L119.8,573.0 L114.1,568.2 L112.0,562.5 L115.1,554.8 L120.7,550.1 L127.7,548.2 L133.6,547.8 L141.8,553.5 L147.6,554.6 L155.1,554.7 L162.7,554.5 L166.0,561.7 L169.0,569.2 L167.4,574.8 L162.7,582.6 L163.2,589.8 L170.1,595.5 L161.5,590.6 L156.2,589.8 L147.0,591.0 L140.6,589.3 L134.9,592.4 L129.6,599.4 L135.4,605.6 L141.2,611.4 L146.2,615.4 L150.0,622.7 L151.4,628.1 L152.9,636.2 L150.9,634.9 L146.5,632.4 L139.4,633.8 L131.9,637.9 L125.1,632.7 L125.2,625.6 L130.4,619.9 L135.0,613.6 L142.4,612.5 L150.4,610.2 L156.8,616.1 L162.3,620.1 L166.0,627.6 L170.1,632.4 L177.0,635.9 L172.7,638.0 L167.3,635.8 L160.5,638.0 L150.9,634.4 L144.2,635.5 L134.3,637.5" fill="none" stroke="#6f3383" stroke-width="0.5" stroke-linejoin="round"/>
<rect x="81.5" y="540.5" width="69.5" height="69" fill="none" stroke="#000" stroke-width="1.0"/>
<rect x="47.0" y="505.5" width="137" height="137.5" fill="none" stroke="#000" stroke-width="3"/>
<rect x="188" y="504" width="140" height="140" fill="#fff" stroke="none" stroke-width="0"/>
<path d="M207.0,590.8 L206.8,598.0 L203.2,603.9 L199.4,611.2 L195.1,605.0 L197.1,596.6 L196.9,589.1 L195.2,582.1 L196.8,574.4 L199.4,568.0 L195.0,560.0 L195.0,554.2 L198.1,547.4 L197.2,539.9 L197.8,534.0 L201.3,525.9 L207.2,520.8 L210.5,521.0 L217.1,525.4 L224.3,523.6 L226.4,517.0 L233.3,511.0 L239.7,511.4 L247.2,513.9 L254.8,515.8 L261.7,517.1 L268.2,519.4 L273.5,520.8 L282.1,515.0 L289.2,518.1 L296.0,515.5 L302.8,516.5 L310.6,516.8 L315.7,520.6 L315.3,529.5 L312.5,534.3 L309.9,540.8 L312.8,550.5 L309.2,553.8 L307.3,546.6 L306.3,537.8 L306.6,530.0 L302.5,523.7 L294.5,518.5 L301.8,514.0 L299.1,512.8 L290.1,516.7 L297.7,518.2 L291.0,523.7 L284.2,524.5 L279.0,517.2 L273.2,512.2 L263.7,511.0 L257.5,513.2 L251.0,514.4 L248.6,521.4 L254.9,521.6 L264.4,520.7 L268.2,512.7 L274.8,511.0 L282.4,511.0 L290.3,512.9 L296.1,512.9 L304.6,515.6 L312.6,519.5 L317.3,523.9 L319.7,531.4 L318.1,539.2 L320.3,546.9 L320.3,554.1 L317.5,560.0 L312.6,565.9 L314.9,574.2 L318.8,582.0 L318.5,585.6 L313.6,578.1 L314.7,569.4 L310.5,564.9 L308.7,558.1 L305.6,550.9 L307.7,545.0 L307.4,537.5 L307.2,529.5 L303.1,520.9 L217.1,633.2 L213.5,631.9 L208.5,630.1 L202.1,625.9 L197.6,618.6 L195.9,611.9 L201.1,608.0 L203.0,601.7 L204.2,595.1 L198.0,589.9 L196.3,582.4 L196.6,576.0 L200.7,567.4 L200.8,561.2 L195.9,556.3 L196.4,548.7 L201.7,543.1 L202.2,535.7 L195.5,542.3 L195.0,548.3 L197.7,555.3 L199.8,564.2 L202.9,571.5 L203.7,578.2 L209.7,584.3 L215.7,590.0 L221.8,584.4 L224.2,577.0 L223.5,568.9 L221.7,560.4 L215.6,558.1 L209.5,552.5 L209.5,544.6 L209.3,538.9 L203.7,532.7 L203.6,524.8 L202.9,516.6 L211.4,511.5 L215.1,512.5 L221.1,516.9 L213.2,521.4 L207.5,524.1 L201.7,519.8 L197.7,515.8 L195.8,513.0 L196.6,518.7 L197.3,527.7 L199.9,533.6 L201.5,539.3 L201.9,543.0 L198.0,534.4 L196.7,526.0 L196.8,520.7 L198.8,513.9 L205.7,513.4 L213.3,512.3 L221.0,514.4 L229.2,514.3 L235.2,512.5 L244.1,513.2 L251.3,511.4 L257.5,514.7 L262.5,519.2 L269.2,520.1 L277.5,522.0 L285.2,518.0 L288.5,511.3 L294.8,516.3 L303.6,516.7 L308.3,521.2 L315.9,519.5 L317.0,528.7 L315.5,536.4 L312.0,543.2 L310.0,551.3 L310.0,558.8 L315.0,562.5 L317.5,571.1 L316.7,581.0 L315.2,585.4 L315.9,591.6 L317.7,601.2 L321.0,606.7 L321.0,616.2 L317.0,621.7 L318.6,629.2 L314.8,637.0 L309.0,632.4 L301.7,630.7 L297.1,631.1 L287.5,631.6 L280.5,631.6 L271.4,634.0 L263.4,631.7 L260.1,634.6 L252.0,633.4 L244.5,634.6 L234.1,633.9 L229.5,629.8 L220.1,632.3 L211.5,629.6 L216.2,624.7 L223.0,624.8 L229.9,620.8 L235.8,620.7 L243.3,623.1 L249.0,624.6 L244.7,630.1 L236.7,634.4 L231.7,633.7 L223.4,633.9 L215.1,636.4 L208.3,633.9 L200.2,635.2 L195.7,637.5 L200.6,633.5 L196.8,634.3 L204.5,630.4 L210.2,630.3 L218.3,633.5 L316.8,594.8 L319.8,592.9 L321.0,586.2 L320.4,579.1 L321.0,571.2 L320.6,562.9 L321.0,556.4 L320.8,549.5 L318.9,543.5 L317.3,536.5 L314.5,525.6 L203.9,541.0 L205.8,535.5 L207.4,528.1 L209.8,521.3 L215.1,515.4 L223.0,516.7 L229.2,515.0 L236.6,515.9 L243.9,513.3 L251.6,512.5 L258.8,511.0 L266.0,515.2 L270.0,520.3 L278.0,522.2 L285.0,527.0 L290.6,527.0 L299.4,527.6 L307.0,526.8 L306.9,532.4 L301.8,535.5 L305.5,528.2 L309.2,522.4 L314.2,517.9 L317.7,521.5 L314.9,529.3 L313.6,533.2 L315.6,544.3 L318.2,550.6 L243.1,635.6 L249.0,631.8 L255.4,631.5 L260.2,635.6 L269.4,637.5 L277.5,637.5 L274.8,632.7 L270.7,630.0 L261.3,627.4 L253.6,630.6 L248.7,631.9 L238.9,630.4 L229.8,630.5 L221.9,631.1 L216.1,631.9 L209.8,629.1 L203.6,623.3 L198.6,630.3 L200.1,637.2 L207.1,633.2 L213.5,631.6 L209.2,627.7 L202.6,622.2 L195.8,625.4 L196.2,633.3 L199.2,636.3 L196.9,631.6 L204.0,625.5 L207.8,621.0 L208.5,612.0 L207.4,606.7 L209.2,597.4 L211.6,591.1 L215.3,585.5 L214.3,575.9 L207.8,571.6 L200.7,575.4 L195.0,571.4 L198.0,567.6 L204.7,564.3 L210.3,566.7 L313.0,601.7 L317.0,603.5 L316.7,612.4 L314.4,619.4 L312.0,626.3 L313.7,633.1 L321.0,634.9 L316.4,635.2 L319.8,627.9 L314.5,620.6 L311.8,612.4 L314.7,607.3 L317.1,600.7 L321.0,593.1 L316.2,592.4 L317.5,599.2 L321.0,603.9 L321.0,612.8 L321.0,619.6 L319.5,627.5 L319.3,636.1 L321.0,635.5 L319.5,627.3 L319.2,620.6 L319.5,613.8 L317.9,603.9 L319.9,599.0 L320.6,591.6 L317.5,584.0 L320.0,578.7 L320.4,568.9 L321.0,561.0 L321.0,554.8 L317.2,546.9 L320.7,541.0 L321.0,532.7 L319.4,525.4 L314.3,520.8 L313.6,515.2 L303.4,511.9 L296.4,514.6 L293.2,518.6 L292.1,525.4 L301.0,527.7 L301.9,522.5 L294.1,517.9 L290.0,514.1 L292.0,511.1 L298.9,514.3 L306.5,512.5 L309.9,514.2 L309.0,521.3 L301.4,523.6 L293.9,526.4 L290.4,525.0 L282.5,522.7 L272.9,520.3 L269.0,519.6 L260.7,515.9 L254.7,512.2 L248.4,516.1 L240.6,514.4 L232.1,519.1 L222.5,519.8 L216.3,519.4 L209.0,518.6 L202.7,515.2 L196.3,512.4 L195.6,516.3 L195.0,524.9 L196.9,533.5 L199.0,539.3 L200.5,546.2 L200.2,553.3 L201.2,560.7 L195.7,567.3 L196.2,574.2 L199.2,583.9 L198.0,590.0 L196.6,597.1 L198.1,603.7 L197.6,611.4 L195.0,618.0 L195.0,627.2 L198.1,631.2 L200.9,626.2 L205.2,619.6 L211.3,615.4 L217.4,609.9 L214.7,629.8 L212.9,627.0 L204.3,622.3 L196.2,622.3 L195.6,616.6 L196.6,609.7 L198.6,601.6 L195.3,595.0 L196.0,586.5 L197.3,580.4 L202.1,585.2 L196.2,589.8 L200.7,588.1 L201.9,595.8 L201.7,603.1 L201.6,611.8 L195.8,617.1 L198.3,624.1 L195.1,627.1 L197.9,620.6 L195.8,615.5 L196.6,608.5 L200.2,599.9 L196.4,602.7 L196.4,611.1 L197.7,618.6 L198.0,624.2 L195.3,633.6 L197.7,635.8 L206.4,635.7 L211.8,633.6 L217.1,637.5 L210.9,632.8 L203.1,631.8 L197.4,633.7 L196.8,633.0 L203.0,636.1 L206.6,633.5 L200.7,630.7 L195.5,625.4 L200.4,631.9 L204.2,637.5 L211.0,633.0 L216.2,631.8 L215.2,626.0 L208.4,622.7 L208.1,614.0 L209.1,607.0 L209.9,599.3 L210.8,593.2 L210.5,585.4 L212.8,577.1 L210.1,569.0 L207.8,562.7 L203.5,560.9 L203.0,553.1 L198.9,546.1 L201.0,538.0 L201.4,532.4 L202.5,522.2 L203.3,516.6 L202.3,515.4 L195.0,512.8 L197.3,518.4 L196.1,525.6 L196.1,531.5 L196.7,540.0 L196.8,548.6 L198.9,554.3 L198.8,561.2 L200.7,568.2 L199.7,576.4 L200.5,584.5 L195.0,590.3 L195.1,596.7 L195.6,604.2 L195.8,613.6 L197.5,619.1 L196.1,625.9 L196.9,632.5 L202.0,635.8 L209.2,631.6 L213.9,632.0 L223.5,634.1 L227.5,631.8 L234.8,627.0 L232.1,624.9 L315.2,622.5 L308.7,628.1 L301.0,629.4 L292.4,628.8 L288.1,625.9 L281.1,623.5 L274.7,625.9 L268.2,630.7 L261.4,636.1 L255.6,634.7 L261.8,631.4 L266.6,624.3 L272.2,621.0 L279.4,621.2 L285.8,616.6" fill="none" stroke="#6f3383" stroke-width="0.5" stroke-linejoin="round"/>
<path d="M206.0,526.0 L207.8,525.2 L209.8,525.2 L211.4,523.9 L213.4,523.6 L215.4,523.7 L214.7,525.6 L212.7,525.6 L211.4,524.1 L209.6,523.3 L208.3,521.8 L207.6,519.9 L205.6,519.9 L203.7,519.2 L201.7,519.2 L199.7,519.6 L198.1,520.8 L196.9,522.4 L198.9,522.3 L200.1,520.7 L200.9,518.8 L202.6,517.8 L204.6,517.5 L206.3,516.5 L207.3,514.7 L207.1,512.7 L205.2,513.4 L203.3,514.0 L201.4,513.7 L199.5,512.9 L199.7,514.9 L200.2,516.8 L199.8,518.8 L200.0,520.8 L199.6,522.7 L200.7,524.4 L202.7,524.5 L204.5,523.7 L206.5,524.0 L208.1,525.3 L210.1,525.6 L212.0,526.1 L214.0,525.8 L215.9,525.5 L214.5,524.0 L212.6,523.5 L210.7,523.0 L208.7,523.4 L207.3,524.8 L205.8,526.1 L204.6,527.7 L203.4,529.2 L202.7,531.1 L201.2,532.5 L200.8,534.5 L199.4,535.9 L197.4,535.7 L199.4,535.4 L200.0,537.4 L199.9,539.4 L197.9,539.7 L197.6,537.7 L198.4,535.9 L198.8,533.9 L198.1,532.0 L198.0,530.0 L196.5,528.7 L198.4,529.4 L200.3,530.1 L201.7,531.5 L203.5,532.3 L204.8,533.9 L205.7,535.7 L207.7,535.7 L209.1,534.3 L209.8,532.4 L211.2,531.0 L212.9,529.9 L214.7,529.2 L212.7,529.5 L210.8,528.8 L208.9,528.5 L206.9,528.1 L204.9,527.9 L203.4,529.2 L203.8,531.2 L202.8,533.0 L200.9,533.6 L199.0,532.9 L197.2,532.0 L196.8,533.9 L196.2,535.8 L196.1,537.8 L196.8,539.7 L198.2,538.3 L197.2,536.6 L197.0,534.6 L197.7,532.7 L196.7,530.9 L196.2,529.0 L196.3,531.0 L197.9,529.8 L199.7,528.9 L201.6,528.5 L203.1,527.1 L204.3,525.5 L205.9,524.4 L207.2,522.9 L206.2,521.2 L204.3,520.9 L202.4,520.2 L200.4,520.0 L198.4,520.2 L197.1,518.7 L197.5,516.8 L198.0,514.9 L199.9,515.1 L201.5,513.9 L203.2,515.1 L203.1,517.1 L203.2,519.1 L203.8,521.0 L202.5,522.5 L201.0,523.8 L200.1,525.6 L198.1,525.2 L196.2,524.6 L198.2,524.4 L199.7,525.8 L199.2,527.8 L197.8,529.2 L197.1,531.1 L199.1,530.7 L200.6,529.4 L202.3,528.4 L202.1,526.4 L203.7,525.2 L204.1,523.2 L202.6,521.9 L200.6,521.5 L198.7,522.2 L196.9,522.9 L196.9,524.9 L197.2,526.9 L197.3,528.9 L198.6,530.4 L199.3,532.2 L200.9,533.5 L202.4,532.2 L204.4,532.6 L206.1,531.6 L206.6,529.6 L206.0,527.7 L206.2,525.8 L204.6,524.6 L202.7,523.9 L201.2,522.6 L202.2,520.8 L202.8,518.9 L203.5,517.0 L202.9,515.1" fill="none" stroke="#6f3383" stroke-width="0.5" stroke-linejoin="round"/>
<path d="M309.0,538.0 L309.1,540.0 L309.2,542.0 L308.4,543.8 L308.5,545.8 L310.5,546.3 L310.8,548.3 L310.4,550.2 L312.3,550.8 L314.2,550.0 L315.4,548.4 L317.0,547.2 L315.4,548.3 L313.4,548.8 L311.6,549.6 L309.7,550.2 L308.2,551.5 L308.2,553.5 L306.7,554.8 L305.4,556.4 L304.1,557.8 L303.5,559.7 L305.4,559.3 L307.4,559.7 L305.7,558.6 L305.0,556.7 L303.7,555.2 L302.2,554.0 L301.3,552.2 L300.7,554.1 L301.4,552.2 L300.7,550.3 L302.1,551.7 L304.1,552.0 L306.1,551.9 L306.6,553.9 L307.0,555.8 L307.9,557.6 L309.6,558.7 L311.6,558.6 L313.4,557.5 L313.5,555.5 L313.4,553.5 L315.0,552.3 L316.9,551.7 L317.7,549.9 L316.3,551.3 L314.9,552.8 L313.4,554.1 L311.9,555.4 L310.9,557.1 L310.8,559.1 L312.0,557.5 L310.9,555.8 L310.4,553.9 L310.5,551.9 L310.8,549.9 L311.5,548.1 L312.4,546.3 L312.2,544.3 L312.2,542.3 L311.7,540.3 L310.9,538.5 L309.0,539.1 L307.5,540.4 L305.7,541.2 L304.2,542.6 L303.7,544.5 L305.3,545.7 L307.3,546.0 L308.2,547.7 L309.9,548.9 L310.3,550.8 L311.5,552.5 L311.2,554.5 L311.8,556.4 L311.9,558.4 L313.0,556.7 L312.7,554.7 L311.9,552.9 L310.2,551.8 L308.4,551.0 L306.4,550.6 L304.4,550.6 L302.6,549.7 L300.7,550.4 L302.5,551.2 L304.4,551.7 L306.3,551.1 L308.3,551.1 L309.8,549.8 L311.6,550.8 L313.3,551.8 L313.7,553.7 L315.3,554.9 L317.2,555.6 L317.5,557.6 L315.7,556.8 L313.7,556.8 L313.1,558.7 L314.8,559.7 L312.8,560.0 L314.8,559.7 L316.7,559.1 L315.0,557.9 L316.3,556.4 L315.0,554.9 L313.8,553.3 L314.4,551.4 L314.1,549.4 L313.7,547.5 L312.1,546.3 L310.6,545.0 L312.5,544.6 L314.1,545.8 L316.1,545.9 L317.0,544.1 L315.9,545.8 L313.9,545.8 L312.0,545.1 L310.8,543.5 L310.6,541.6 L312.0,540.1 L313.0,538.4 L313.2,536.4 L314.9,535.5 L316.7,534.5 L317.3,532.6 L317.6,530.6 L315.6,530.8 L315.0,528.9 L313.9,527.2 L311.9,526.8 L310.0,526.2 L308.1,526.8 L306.1,526.9 L304.2,526.5 L302.7,525.1 L301.4,523.6 L302.6,525.2 L303.4,527.0 L302.4,528.8 L302.7,530.8 L303.0,532.7 L304.0,534.5 L305.7,535.5 L306.7,537.2 L308.3,538.5 L307.3,540.2 L309.1,541.0 L309.2,543.0 L309.6,545.0 L311.2,546.1 L312.7,547.5 L313.9,549.1 L313.8,551.1 L312.1,552.2 L311.1,553.9 L310.1,555.6 L308.6,557.0 L306.9,558.0" fill="none" stroke="#6f3383" stroke-width="0.5" stroke-linejoin="round"/>
<path d="M300.0,522.0 L298.2,522.9 L296.3,522.3 L295.0,520.8 L295.6,518.9 L296.1,516.9 L294.8,515.4 L296.5,514.3 L297.5,516.0 L299.3,515.2 L300.3,516.9 L301.3,518.7 L301.7,520.6 L302.9,522.2 L304.8,522.9 L306.2,524.3 L306.4,526.3 L307.8,527.8 L309.7,528.6 L309.0,526.7 L307.9,525.0 L306.8,523.3 L306.5,521.4 L308.2,520.4 L309.0,518.5 L307.1,518.9 L306.3,517.1 L307.0,515.2 L307.6,517.1 L306.9,519.0 L305.0,519.6 L304.3,521.5 L303.6,523.4 L302.5,525.0 L300.8,526.1 L301.0,528.1 L302.9,528.7 L304.4,530.0 L305.2,528.1 L306.1,526.3 L305.7,524.4 L304.1,523.3 L302.1,523.7 L300.1,523.7 L299.3,525.5 L300.8,526.9 L302.8,527.0 L304.7,527.6 L306.2,529.0 L304.2,529.1 L302.3,529.5 L300.3,529.5 L300.1,527.5 L299.2,525.7 L298.0,524.1 L296.5,522.8 L295.7,521.0 L295.9,519.0 L297.1,517.4 L298.4,515.9 L297.2,514.3 L295.3,515.1 L293.4,515.7 L291.5,515.5 L290.2,517.1 L292.2,517.0 L292.3,519.0 L292.9,520.9 L293.4,522.8 L292.1,524.3 L292.1,526.3 L293.5,527.7 L294.1,529.6 L295.4,528.0 L294.5,526.2 L292.5,526.1 L290.6,525.3 L290.0,523.4 L291.0,521.7 L292.5,520.3 L294.2,519.4 L293.2,517.6 L292.2,515.9 L290.6,514.8 L291.9,516.3 L292.7,518.1 L292.7,520.1 L290.7,520.2 L290.1,518.3 L290.4,520.3 L290.3,522.3 L290.9,524.2 L292.6,525.3 L293.0,527.2 L292.0,528.9 L293.4,527.5 L295.2,528.6 L296.7,527.3 L297.5,525.4 L299.3,524.6 L301.3,524.9 L302.9,523.8 L301.9,522.1 L301.7,520.1 L302.6,518.3 L304.4,517.6 L306.4,517.9 L307.4,516.2 L309.3,515.7 L308.4,517.5 L307.0,518.9 L306.0,520.6 L306.5,522.6 L307.6,524.2 L308.2,526.1 L308.9,528.0 L308.0,529.7 L306.2,528.8 L304.2,529.2 L302.5,528.1 L302.7,526.1 L302.1,524.3 L301.0,522.6 L301.6,520.7 L303.1,519.3 L305.0,518.9 L306.2,517.3 L308.0,518.1 L309.4,519.5 L309.2,521.5 L309.0,523.5 L308.8,525.5 L309.0,527.5 L308.6,529.5 L307.1,528.2 L305.1,528.0 L303.5,526.8 L301.7,525.9 L299.9,525.1 L298.1,524.3 L296.2,523.6 L295.0,522.0 L294.3,520.1 L295.0,518.3 L296.3,519.8 L296.1,521.8 L296.0,523.8 L294.3,524.8 L295.9,526.0 L295.7,528.0 L293.7,528.2 L291.7,528.2 L293.1,529.7 L295.0,529.3 L296.8,528.3 L298.6,529.3 L300.5,528.9 L298.6,529.4 L296.6,529.3 L298.6,529.4 L297.5,527.7" fill="none" stroke="#6f3383" stroke-width="0.5" stroke-linejoin="round"/>
<rect x="224.5" y="540.5" width="69.5" height="69" fill="none" stroke="#000" stroke-width="1.0"/>
<rect x="189.5" y="505.5" width="137" height="137.5" fill="none" stroke="#000" stroke-width="3"/>
<clipPath id="ofc"><rect x="48.5" y="651" width="134" height="134"/></clipPath>
<clipPath id="ofm"><rect x="191" y="651" width="134" height="134"/></clipPath>
<rect x="45.5" y="648" width="140" height="140" fill="#0f3f82" stroke="none" stroke-width="0"/>
<rect x="55" y="658" width="121" height="120" fill="none" stroke="#1d5196" stroke-width="6" opacity="0.6" filter="url(#hb2)" clip-path="url(#ofc)"/>
<g clip-path="url(#ofc)" filter="url(#hb)">
<ellipse cx="59.2" cy="663.7" rx="10.64" ry="12.41" fill="#164f96"/>
<ellipse cx="60.3" cy="678.0" rx="4.82" ry="7.03" fill="#164f96"/>
<ellipse cx="67.1" cy="660.3" rx="5.22" ry="5.22" fill="#164f96"/>
<ellipse cx="76.2" cy="670.5" rx="4.87" ry="4.87" fill="#164f96"/>
<ellipse cx="115.7" cy="662.6" rx="3.47" ry="3.47" fill="#164f96"/>
<ellipse cx="130.4" cy="660.8" rx="10.55" ry="6.66" fill="#164f96"/>
<ellipse cx="148.0" cy="662.0" rx="8.61" ry="8.61" fill="#164f96"/>
<ellipse cx="163.2" cy="662.6" rx="10.64" ry="10.04" fill="#164f96"/>
<ellipse cx="173.3" cy="668.2" rx="8.33" ry="8.33" fill="#164f96"/>
<ellipse cx="171.0" cy="681.8" rx="5.05" ry="5.05" fill="#164f96"/>
<ellipse cx="111.2" cy="678.9" rx="3.12" ry="3.12" fill="#164f96"/>
<ellipse cx="59.2" cy="703.3" rx="6.80" ry="7.32" fill="#164f96"/>
<ellipse cx="148.5" cy="710.0" rx="5.22" ry="7.59" fill="#164f96"/>
<ellipse cx="123.6" cy="715.3" rx="5.51" ry="5.05" fill="#164f96"/>
<ellipse cx="172.2" cy="719.1" rx="8.61" ry="8.61" fill="#164f96"/>
<ellipse cx="171.5" cy="731.5" rx="9.33" ry="9.95" fill="#164f96"/>
<ellipse cx="171.5" cy="744.0" rx="7.94" ry="9.07" fill="#164f96"/>
<ellipse cx="171.1" cy="764.3" rx="14.26" ry="15.62" fill="#164f96"/>
<ellipse cx="163.2" cy="773.3" rx="9.76" ry="8.61" fill="#164f96"/>
<ellipse cx="55.8" cy="739.4" rx="5.69" ry="5.69" fill="#164f96"/>
<ellipse cx="77.3" cy="738.3" rx="8.50" ry="8.50" fill="#164f96"/>
<ellipse cx="112.3" cy="738.3" rx="8.33" ry="8.33" fill="#164f96"/>
<ellipse cx="99.9" cy="746.2" rx="3.12" ry="3.12" fill="#164f96"/>
<ellipse cx="61.5" cy="770.0" rx="10.64" ry="13.00" fill="#164f96"/>
<ellipse cx="80.7" cy="772.2" rx="9.19" ry="8.04" fill="#164f96"/>
<ellipse cx="92.0" cy="772.2" rx="7.12" ry="5.69" fill="#164f96"/>
<ellipse cx="127.0" cy="771.0" rx="8.50" ry="8.50" fill="#164f96"/>
<ellipse cx="139.4" cy="771.0" rx="7.99" ry="6.93" fill="#164f96"/>
<ellipse cx="137.2" cy="755.0" rx="2.48" ry="2.48" fill="#164f96"/>
<ellipse cx="175.0" cy="760.0" rx="7.99" ry="13.32" fill="#164f96"/>
<ellipse cx="165.0" cy="778.0" rx="11.10" ry="8.33" fill="#164f96"/>
<ellipse cx="172.0" cy="725.0" rx="5.22" ry="7.12" fill="#164f96"/>
<ellipse cx="172.0" cy="738.0" rx="5.22" ry="7.12" fill="#164f96"/>
<ellipse cx="172.0" cy="752.0" rx="5.69" ry="7.12" fill="#164f96"/>
<ellipse cx="60.0" cy="688.0" rx="3.77" ry="5.65" fill="#164f96"/>
<ellipse cx="61.0" cy="692.0" rx="2.79" ry="3.88" fill="#164f96"/>
<ellipse cx="178.0" cy="700.0" rx="2.31" ry="4.32" fill="#164f96"/>
<ellipse cx="59.2" cy="663.7" rx="8.19" ry="9.56" fill="#45b8dc"/>
<ellipse cx="60.3" cy="678.0" rx="1.68" ry="2.44" fill="#45b8dc"/>
<ellipse cx="67.1" cy="660.3" rx="3.17" ry="3.17" fill="#45b8dc"/>
<ellipse cx="76.2" cy="670.5" rx="2.55" ry="2.55" fill="#45b8dc"/>
<ellipse cx="130.4" cy="660.8" rx="7.74" ry="4.89" fill="#45b8dc"/>
<ellipse cx="148.0" cy="662.0" rx="6.50" ry="6.50" fill="#45b8dc"/>
<ellipse cx="163.2" cy="662.6" rx="8.19" ry="7.74" fill="#45b8dc"/>
<ellipse cx="173.3" cy="668.2" rx="6.11" ry="6.11" fill="#45b8dc"/>
<ellipse cx="171.0" cy="681.8" rx="2.89" ry="2.89" fill="#45b8dc"/>
<ellipse cx="59.2" cy="703.3" rx="4.71" ry="5.08" fill="#45b8dc"/>
<ellipse cx="148.5" cy="710.0" rx="3.17" ry="4.61" fill="#45b8dc"/>
<ellipse cx="123.6" cy="715.3" rx="3.15" ry="2.89" fill="#45b8dc"/>
<ellipse cx="172.2" cy="719.1" rx="6.50" ry="6.50" fill="#45b8dc"/>
<ellipse cx="171.5" cy="731.5" rx="7.42" ry="7.91" fill="#45b8dc"/>
<ellipse cx="171.5" cy="744.0" rx="5.93" ry="6.77" fill="#45b8dc"/>
<ellipse cx="171.1" cy="764.3" rx="11.86" ry="12.99" fill="#45b8dc"/>
<ellipse cx="163.2" cy="773.3" rx="7.36" ry="6.50" fill="#45b8dc"/>
<ellipse cx="55.8" cy="739.4" rx="3.46" ry="3.46" fill="#45b8dc"/>
<ellipse cx="77.3" cy="738.3" rx="6.35" ry="6.35" fill="#45b8dc"/>
<ellipse cx="112.3" cy="738.3" rx="6.11" ry="6.11" fill="#45b8dc"/>
<ellipse cx="61.5" cy="770.0" rx="8.19" ry="10.01" fill="#45b8dc"/>
<ellipse cx="80.7" cy="772.2" rx="6.93" ry="6.06" fill="#45b8dc"/>
<ellipse cx="92.0" cy="772.2" rx="4.32" ry="3.46" fill="#45b8dc"/>
<ellipse cx="127.0" cy="771.0" rx="6.35" ry="6.35" fill="#45b8dc"/>
<ellipse cx="139.4" cy="771.0" rx="5.65" ry="4.90" fill="#45b8dc"/>
<ellipse cx="175.0" cy="760.0" rx="5.65" ry="9.42" fill="#45b8dc"/>
<ellipse cx="165.0" cy="778.0" rx="8.15" ry="6.11" fill="#45b8dc"/>
<ellipse cx="172.0" cy="725.0" rx="3.17" ry="4.32" fill="#45b8dc"/>
<ellipse cx="172.0" cy="738.0" rx="3.17" ry="4.32" fill="#45b8dc"/>
<ellipse cx="172.0" cy="752.0" rx="3.46" ry="4.32" fill="#45b8dc"/>
<ellipse cx="59.2" cy="663.7" rx="5.99" ry="6.99" fill="#72bb3c"/>
<ellipse cx="130.4" cy="660.8" rx="5.02" ry="3.17" fill="#72bb3c"/>
<ellipse cx="148.0" cy="662.0" rx="4.53" ry="4.53" fill="#72bb3c"/>
<ellipse cx="163.2" cy="662.6" rx="5.99" ry="5.66" fill="#72bb3c"/>
<ellipse cx="173.3" cy="668.2" rx="3.96" ry="3.96" fill="#72bb3c"/>
<ellipse cx="59.2" cy="703.3" rx="2.44" ry="2.63" fill="#72bb3c"/>
<ellipse cx="172.2" cy="719.1" rx="4.53" ry="4.53" fill="#72bb3c"/>
<ellipse cx="171.5" cy="731.5" rx="5.78" ry="6.16" fill="#72bb3c"/>
<ellipse cx="171.5" cy="744.0" rx="4.03" ry="4.61" fill="#72bb3c"/>
<ellipse cx="171.1" cy="764.3" rx="9.91" ry="10.86" fill="#72bb3c"/>
<ellipse cx="163.2" cy="773.3" rx="5.14" ry="4.53" fill="#72bb3c"/>
<ellipse cx="77.3" cy="738.3" rx="4.32" ry="4.32" fill="#72bb3c"/>
<ellipse cx="112.3" cy="738.3" rx="3.96" ry="3.96" fill="#72bb3c"/>
<ellipse cx="61.5" cy="770.0" rx="5.99" ry="7.33" fill="#72bb3c"/>
<ellipse cx="80.7" cy="772.2" rx="4.84" ry="4.23" fill="#72bb3c"/>
<ellipse cx="127.0" cy="771.0" rx="4.32" ry="4.32" fill="#72bb3c"/>
<ellipse cx="139.4" cy="771.0" rx="3.21" ry="2.78" fill="#72bb3c"/>
<ellipse cx="175.0" cy="760.0" rx="3.21" ry="5.34" fill="#72bb3c"/>
<ellipse cx="165.0" cy="778.0" rx="5.28" ry="3.96" fill="#72bb3c"/>
<ellipse cx="171.5" cy="731.5" rx="1.70" ry="1.81" fill="#d9d334"/>
<ellipse cx="171.1" cy="764.3" rx="6.21" ry="6.80" fill="#d9d334"/>
<ellipse cx="171.1" cy="764.3" rx="4.22" ry="4.62" fill="#dc2c22"/>
</g>
<rect x="81.5" y="683.6" width="69.5" height="69.4" fill="none" stroke="#000" stroke-width="1.0"/>
<rect x="47.0" y="649.5" width="137" height="137" fill="none" stroke="#000" stroke-width="3"/>
<rect x="188" y="648" width="140" height="140" fill="#0f3f82" stroke="none" stroke-width="0"/>
<rect x="198" y="658" width="120" height="120" fill="none" stroke="#1d5196" stroke-width="6" opacity="0.5" filter="url(#hb2)" clip-path="url(#ofm)"/>
<g clip-path="url(#ofm)" filter="url(#hb)">
<ellipse cx="210.6" cy="671.2" rx="17.19" ry="16.05" fill="#164f96"/>
<ellipse cx="209.4" cy="666.4" rx="6.21" ry="6.21" fill="#164f96"/>
<ellipse cx="214.0" cy="674.0" rx="7.40" ry="6.51" fill="#164f96"/>
<ellipse cx="222.0" cy="666.0" rx="11.24" ry="7.49" fill="#164f96"/>
<ellipse cx="231.0" cy="664.0" rx="6.09" ry="4.87" fill="#164f96"/>
<ellipse cx="309.5" cy="670.6" rx="16.25" ry="19.78" fill="#164f96"/>
<ellipse cx="313.7" cy="693.8" rx="11.87" ry="12.57" fill="#164f96"/>
<ellipse cx="290.0" cy="664.0" rx="15.61" ry="7.28" fill="#164f96"/>
<ellipse cx="276.6" cy="664.0" rx="8.61" ry="4.74" fill="#164f96"/>
<ellipse cx="217.8" cy="721.6" rx="5.34" ry="5.34" fill="#164f96"/>
<ellipse cx="207.0" cy="728.8" rx="3.77" ry="4.52" fill="#164f96"/>
<ellipse cx="205.0" cy="736.0" rx="3.18" ry="4.42" fill="#164f96"/>
<ellipse cx="203.4" cy="745.6" rx="5.56" ry="5.56" fill="#164f96"/>
<ellipse cx="211.8" cy="769.7" rx="12.78" ry="15.62" fill="#164f96"/>
<ellipse cx="211.8" cy="773.3" rx="5.33" ry="5.33" fill="#164f96"/>
<ellipse cx="265.8" cy="770.9" rx="8.85" ry="8.85" fill="#164f96"/>
<ellipse cx="307.8" cy="769.7" rx="14.33" ry="12.89" fill="#164f96"/>
<ellipse cx="306.0" cy="772.0" rx="5.96" ry="5.96" fill="#164f96"/>
<ellipse cx="296.0" cy="771.0" rx="13.01" ry="9.11" fill="#164f96"/>
<ellipse cx="288.6" cy="769.7" rx="7.12" ry="5.94" fill="#164f96"/>
<ellipse cx="300.6" cy="752.8" rx="4.74" ry="5.60" fill="#164f96"/>
<ellipse cx="315.0" cy="740.8" rx="4.89" ry="5.78" fill="#164f96"/>
<ellipse cx="210.6" cy="671.2" rx="13.54" ry="12.64" fill="#45b8dc"/>
<ellipse cx="209.4" cy="666.4" rx="5.10" ry="5.10" fill="#45b8dc"/>
<ellipse cx="214.0" cy="674.0" rx="5.94" ry="5.22" fill="#45b8dc"/>
<ellipse cx="222.0" cy="666.0" rx="7.95" ry="5.30" fill="#45b8dc"/>
<ellipse cx="231.0" cy="664.0" rx="3.01" ry="2.40" fill="#45b8dc"/>
<ellipse cx="309.5" cy="670.6" rx="14.07" ry="17.13" fill="#45b8dc"/>
<ellipse cx="313.7" cy="693.8" rx="10.24" ry="10.84" fill="#45b8dc"/>
<ellipse cx="290.0" cy="664.0" rx="11.46" ry="5.35" fill="#45b8dc"/>
<ellipse cx="276.6" cy="664.0" rx="4.92" ry="2.71" fill="#45b8dc"/>
<ellipse cx="217.8" cy="721.6" rx="3.24" ry="3.24" fill="#45b8dc"/>
<ellipse cx="207.0" cy="728.8" rx="1.31" ry="1.57" fill="#45b8dc"/>
<ellipse cx="203.4" cy="745.6" rx="3.60" ry="3.60" fill="#45b8dc"/>
<ellipse cx="211.8" cy="769.7" rx="10.01" ry="12.23" fill="#45b8dc"/>
<ellipse cx="211.8" cy="773.3" rx="4.27" ry="4.27" fill="#45b8dc"/>
<ellipse cx="265.8" cy="770.9" rx="6.49" ry="6.49" fill="#45b8dc"/>
<ellipse cx="307.8" cy="769.7" rx="11.28" ry="10.15" fill="#45b8dc"/>
<ellipse cx="306.0" cy="772.0" rx="4.80" ry="4.80" fill="#45b8dc"/>
<ellipse cx="296.0" cy="771.0" rx="9.55" ry="6.69" fill="#45b8dc"/>
<ellipse cx="288.6" cy="769.7" rx="4.76" ry="3.97" fill="#45b8dc"/>
<ellipse cx="300.6" cy="752.8" rx="2.71" ry="3.20" fill="#45b8dc"/>
<ellipse cx="315.0" cy="740.8" rx="2.97" ry="3.51" fill="#45b8dc"/>
<ellipse cx="210.6" cy="671.2" rx="10.35" ry="9.66" fill="#72bb3c"/>
<ellipse cx="209.4" cy="666.4" rx="4.19" ry="4.19" fill="#72bb3c"/>
<ellipse cx="214.0" cy="674.0" rx="4.69" ry="4.13" fill="#72bb3c"/>
<ellipse cx="222.0" cy="666.0" rx="4.51" ry="3.01" fill="#72bb3c"/>
<ellipse cx="309.5" cy="670.6" rx="12.38" ry="15.07" fill="#72bb3c"/>
<ellipse cx="313.7" cy="693.8" rx="8.96" ry="9.49" fill="#72bb3c"/>
<ellipse cx="290.0" cy="664.0" rx="7.43" ry="3.47" fill="#72bb3c"/>
<ellipse cx="203.4" cy="745.6" rx="0.89" ry="0.89" fill="#72bb3c"/>
<ellipse cx="211.8" cy="769.7" rx="7.57" ry="9.25" fill="#72bb3c"/>
<ellipse cx="211.8" cy="773.3" rx="3.38" ry="3.38" fill="#72bb3c"/>
<ellipse cx="265.8" cy="770.9" rx="4.21" ry="4.21" fill="#72bb3c"/>
<ellipse cx="307.8" cy="769.7" rx="8.63" ry="7.76" fill="#72bb3c"/>
<ellipse cx="306.0" cy="772.0" rx="3.82" ry="3.82" fill="#72bb3c"/>
<ellipse cx="296.0" cy="771.0" rx="6.19" ry="4.34" fill="#72bb3c"/>
<ellipse cx="288.6" cy="769.7" rx="1.91" ry="1.59" fill="#72bb3c"/>
<ellipse cx="209.4" cy="666.4" rx="2.38" ry="2.38" fill="#d9d334"/>
<ellipse cx="214.0" cy="674.0" rx="1.85" ry="1.63" fill="#d9d334"/>
<ellipse cx="309.5" cy="670.6" rx="9.50" ry="11.57" fill="#d9d334"/>
<ellipse cx="313.7" cy="693.8" rx="6.78" ry="7.18" fill="#d9d334"/>
<ellipse cx="211.8" cy="773.3" rx="1.33" ry="1.33" fill="#d9d334"/>
<ellipse cx="306.0" cy="772.0" rx="1.64" ry="1.64" fill="#d9d334"/>
<ellipse cx="209.4" cy="666.4" rx="1.24" ry="1.24" fill="#dc2c22"/>
<ellipse cx="309.5" cy="670.6" rx="8.27" ry="10.07" fill="#dc2c22"/>
<ellipse cx="313.7" cy="693.8" rx="5.83" ry="6.18" fill="#dc2c22"/>
</g>
<rect x="224.5" y="683.6" width="69" height="69" fill="none" stroke="#000" stroke-width="1.0"/>
<rect x="189.5" y="649.5" width="137" height="137" fill="none" stroke="#000" stroke-width="3"/>
<rect x="332.3" y="648.2" width="16.8" height="136.5" fill="url(#cbg)"/>
<text x="343.5" y="660.7" font-size="8" font-weight="normal" text-anchor="middle" fill="#fff" font-family="'Liberation Sans', sans-serif" transform="rotate(-90 343.5 660.7)">~15s</text>
<text x="343.5" y="777.7" font-size="8" font-weight="normal" text-anchor="middle" fill="#fff" font-family="'Liberation Sans', sans-serif" transform="rotate(-90 343.5 777.7)">0s</text>
<rect x="692.3" y="649" width="15" height="133.4" fill="url(#cbg)"/>
<text x="702.5" y="661.5" font-size="8" font-weight="normal" text-anchor="middle" fill="#fff" font-family="'Liberation Sans', sans-serif" transform="rotate(-90 702.5 661.5)">~15s</text>
<text x="702.5" y="775.4" font-size="8" font-weight="normal" text-anchor="middle" fill="#fff" font-family="'Liberation Sans', sans-serif" transform="rotate(-90 702.5 775.4)">0s</text>
<rect x="408.4" y="504" width="138.5" height="138.5" fill="#fff" stroke="none" stroke-width="0"/>
<circle cx="476.00" cy="574.00" r="63.2" fill="none" stroke="#f2a466" stroke-width="0.9"/>
<circle cx="476.00" cy="574.00" r="30" fill="none" stroke="#f2a466" stroke-width="0.9"/>
<line x1="431.3108514290102" y1="529.3108514290102" x2="520.6891485709898" y2="618.6891485709898" stroke="#f2a466" stroke-width="0.9"/>
<line x1="520.6891485709898" y1="529.3108514290102" x2="431.3108514290102" y2="618.6891485709898" stroke="#f2a466" stroke-width="0.9"/>
<path d="M431.31,618.69 A63.2,63.2 0 0 1 431.31,529.31" fill="none" stroke="#c4581e" stroke-width="2.0"/>
<path d="M454.79,595.21 A30,30 0 0 1 454.79,552.79" fill="none" stroke="#c4581e" stroke-width="2.0"/>
<path d="M520.69,529.31 A63.2,63.2 0 0 1 520.69,618.69" fill="none" stroke="#c4581e" stroke-width="2.0"/>
<path d="M497.21,552.79 A30,30 0 0 1 497.21,595.21" fill="none" stroke="#c4581e" stroke-width="2.0"/>
<path d="M430.4,556.6 L432.2,554.4 L433.8,551.3 L434.9,548.0 L438.2,546.9 L440.2,547.6 L441.3,547.0 L439.9,548.4 L437.8,551.1 L437.0,555.4 L438.6,557.3 L436.9,560.0 L438.3,562.7 L441.9,562.2 L441.0,558.7 L440.8,548.3 L443.5,539.6 L450.0,532.5 L457.4,528.4 L465.6,529.6 L472.1,532.7 L476.0,535.9 L477.0,537.2 L478.5,536.0 L477.5,535.1 L476.6,534.6 L477.4,532.5 L482.1,531.9 L487.0,530.4 L490.6,530.7 L496.1,531.7 L500.8,536.0 L503.9,538.7 L509.2,542.0 L517.4,545.4 L522.8,551.6 L527.6,557.9 L532.3,566.5 L531.1,572.3 L527.4,579.6 L523.9,584.0 L520.7,587.5 L520.8,587.0 L521.3,589.3 L523.3,587.8 L525.9,587.7 L528.5,592.8 L530.9,594.7 L531.6,598.4 L528.2,600.2 L524.2,598.2 L519.1,596.5 L515.4,597.9 L512.9,604.3 L507.3,610.4 L498.9,615.5 L487.8,622.8 L481.1,624.2 L476.7,623.4 L472.3,621.5 L467.9,620.6 L462.7,620.1 L459.2,618.7 L458.8,617.8 L456.9,617.9 L450.2,617.9 L443.6,616.5 L438.0,613.2 L433.7,613.9 L430.2,613.1 L429.0,612.9 L430.0,611.1 L431.7,606.5 L434.0,605.4 L436.5,604.4 L437.9,607.2 L439.4,609.5 L436.8,609.5 L436.5,607.7 L439.5,607.4 L443.8,608.7 L440.3,606.4 L438.2,601.2 L438.8,597.4 L438.1,593.2 L432.5,590.5 L429.7,584.7 L431.3,583.8 L433.9,583.2 L436.3,583.6 L435.9,584.0 L435.6,583.6 L438.6,583.9 L436.7,585.0 L436.8,583.0 L434.8,579.5 L433.5,577.6 L432.1,571.9 L429.5,565.4 L430.8,558.1 L435.9,551.7 L437.0,545.9 L439.8,539.8 L443.7,532.9 L449.8,526.4 L456.9,519.9 L461.7,517.6 L462.6,515.3 L465.2,515.9 L470.3,516.2 L474.8,514.7 L487.1,515.8 L497.6,519.5 L506.3,528.7 L510.8,537.8 L514.6,547.1 L519.4,551.1 L526.1,555.7 L529.0,561.0 L531.6,567.5 L529.7,575.1 L528.3,580.3 L525.8,586.6 L525.3,591.1 L526.4,597.6 L524.4,601.5 L518.1,602.0 L513.3,602.9 L509.2,603.7 L503.6,602.9 L497.2,603.3 L495.8,607.3 L497.2,609.7 L497.1,615.5 L491.7,621.0 L487.7,622.9 L483.6,622.9 L481.9,624.4 L479.1,627.1 L472.1,627.9 L467.5,624.1 L469.8,622.6 L471.6,622.2 L471.6,620.9 L471.0,623.0 L474.2,623.3 L477.8,621.6 L477.1,620.8 L475.9,622.8 L475.2,625.4 L469.1,625.2 L462.5,621.4 L459.4,618.8 L453.9,613.7 L444.8,611.4 L439.5,603.3 L434.0,596.0 L426.4,588.6 L424.9,577.3 L424.3,567.1 L423.5,557.9 L422.7,550.5 L426.0,542.1 L431.9,536.9 L436.9,531.5 L444.6,526.6 L453.8,525.1 L459.1,525.1 L463.2,526.4 L467.4,526.7 L470.4,525.9 L471.9,526.4 L473.4,530.8 L476.1,536.1 L480.0,538.0 L483.6,538.4 L491.2,537.9 L497.2,541.3 L501.8,544.6 L507.4,546.5 L512.4,547.2 L518.2,550.7 L522.6,557.5 L525.9,563.9 L527.4,568.2 L530.9,574.6 L531.7,580.5 L528.9,585.8 L529.0,588.8 L529.0,592.2 L524.0,596.3 L519.1,601.0 L513.3,605.0 L508.6,609.9 L504.2,610.5 L503.7,606.8 L503.4,607.2 L501.6,609.2 L501.5,612.9 L499.4,618.7 L497.6,622.0 L495.2,629.6 L489.6,632.5 L482.3,631.2 L470.3,630.7 L456.0,625.8 L447.9,618.6 L440.2,611.9 L434.9,606.1 L432.9,601.7 L435.1,600.9 L435.5,597.2 L435.1,596.0 L433.2,594.7 L434.3,595.2 L436.4,597.0 L438.6,598.8 L445.1,599.5 L443.8,601.6 L442.9,602.3 L443.3,601.4 L444.7,602.1 L442.6,600.2 L442.4,593.9 L440.4,591.9 L438.8,589.7 L434.0,584.9 L430.2,580.5 L427.6,575.6 L425.9,575.5 L426.8,574.7 L425.0,572.9 L423.5,575.6 L420.5,576.2 L419.9,573.4 L422.2,566.8 L424.7,556.7 L427.3,550.0 L428.5,545.2 L431.6,538.3 L438.0,533.4 L443.5,528.8 L450.6,524.2 L455.6,520.6 L461.8,515.0 L467.3,515.2 L467.8,516.9 L469.8,518.8 L475.3,519.5 L476.5,520.1 L478.7,521.6 L482.3,520.0 L483.9,522.3 L485.1,521.6 L491.6,523.6 L500.9,526.6 L510.8,531.0 L520.5,536.5 L526.1,543.7 L529.9,554.4 L531.9,562.4 L532.1,565.2 L534.4,568.7 L535.3,568.0 L533.4,565.8 L532.1,567.5 L528.8,571.3 L526.0,580.5 L524.5,589.9 L523.2,596.3 L523.1,600.9 L519.9,603.6 L517.0,608.9 L515.9,609.5 L514.3,611.9 L507.7,612.6 L503.0,610.5 L499.6,610.8 L497.7,610.7 L495.5,615.6 L493.5,623.8 L487.5,631.1 L484.6,634.4 L479.2,633.9 L469.9,630.4 L461.9,627.2 L453.7,625.9 L448.3,623.7 L443.3,620.9 L437.2,614.6 L433.0,610.6 L434.8,605.5 L433.5,600.0 L432.0,595.3 L433.8,591.4 L434.8,586.7 L432.2,581.6 L429.0,574.7 L424.3,568.0 L422.2,558.4 L425.4,554.1 L429.4,550.1 L433.3,544.9 L438.5,541.0 L440.8,538.1 L446.8,533.0 L452.1,530.5 L456.2,531.4 L460.4,531.3 L465.0,530.8 L469.2,531.0 L477.1,530.9 L485.0,531.5 L490.8,532.1 L493.7,533.2 L497.1,534.0 L501.2,537.3 L507.1,542.6 L511.1,549.8 L514.2,557.1 L516.1,563.8 L515.8,568.3 L512.6,569.7 L513.1,571.3 L514.0,577.4 L514.9,580.8 L513.8,584.7 L516.0,587.5 L519.6,591.7 L522.4,592.9 L522.1,597.8 L518.9,604.7 L509.6,612.7 L498.6,620.4 L487.5,624.6 L481.5,625.9 L476.0,625.9 L470.8,625.9 L463.2,625.9 L454.2,620.4 L446.9,617.3 L436.4,612.9 L430.3,608.5 L427.8,600.5 L428.8,596.9 L429.0,592.8 L429.0,586.8 L433.0,585.3 L435.5,584.0 L437.0,583.5" fill="none" stroke="#6f3383" stroke-width="0.5" stroke-linejoin="round"/>
<rect x="409.9" y="505.5" width="135.5" height="135.5" fill="none" stroke="#000" stroke-width="3"/>
<rect x="549.5" y="504" width="139.5" height="138" fill="#fff" stroke="none" stroke-width="0"/>
<circle cx="619.20" cy="573.00" r="63.5" fill="none" stroke="#f2a466" stroke-width="0.9"/>
<circle cx="619.20" cy="573.00" r="32" fill="none" stroke="#f2a466" stroke-width="0.9"/>
<line x1="574.2987193946543" y1="528.0987193946543" x2="664.1012806053458" y2="617.9012806053457" stroke="#f2a466" stroke-width="0.9"/>
<line x1="664.1012806053458" y1="528.0987193946543" x2="574.2987193946543" y2="617.9012806053457" stroke="#f2a466" stroke-width="0.9"/>
<path d="M574.30,617.90 A63.5,63.5 0 0 1 574.30,528.10" fill="none" stroke="#c4581e" stroke-width="2.0"/>
<path d="M596.57,595.63 A32,32 0 0 1 596.57,550.37" fill="none" stroke="#c4581e" stroke-width="2.0"/>
<path d="M664.10,528.10 A63.5,63.5 0 0 1 664.10,617.90" fill="none" stroke="#c4581e" stroke-width="2.0"/>
<path d="M641.83,550.37 A32,32 0 0 1 641.83,595.63" fill="none" stroke="#c4581e" stroke-width="2.0"/>
<path d="M570.5,601.1 L572.0,599.3 L571.6,598.8 L569.5,599.6 L567.4,601.7 L567.5,602.8 L570.4,601.0 L572.2,599.5 L573.0,601.7 L574.3,603.0 L573.7,604.8 L574.8,607.3 L576.3,604.9 L577.1,603.2 L577.9,601.2 L575.5,602.3 L575.6,599.2 L574.4,599.2 L575.1,599.1 L577.4,598.5 L578.5,596.9 L574.0,598.2 L573.7,598.8 L571.9,596.5 L567.3,598.7 L567.6,597.5 L565.9,598.4 L566.3,600.2 L569.9,595.9 L571.2,594.4 L572.8,590.6 L569.3,592.9 L569.8,592.0 L568.1,591.9 L567.5,588.9 L564.9,586.5 L564.3,586.2 L561.7,584.0 L563.2,583.4 L563.3,580.4 L564.3,580.2 L564.5,579.8 L564.1,581.5 L567.7,583.3 L567.1,584.6 L574.0,587.9 L572.8,593.8 L572.8,598.4 L575.3,601.4 L574.3,604.4 L575.8,605.8 L574.1,603.7 L572.4,602.7 L569.8,601.8 L570.4,600.9 L570.0,602.2 L571.8,599.2 L572.5,599.8 L574.2,603.2 L577.0,604.4 L578.0,604.8 L576.9,601.2 L573.0,598.6 L576.2,594.1 L574.0,593.3 L570.7,592.6 L568.0,589.8 L564.5,587.7 L566.8,584.1 L566.8,581.9 L564.7,581.1 L562.6,579.9 L565.0,577.1 L567.2,578.4 L567.2,578.0 L568.2,577.8 L570.9,576.5 L572.6,574.4 L571.8,577.3 L571.9,579.3 L567.0,579.2 L567.5,575.9 L566.8,574.4 L565.2,574.6 L563.8,574.9 L564.9,575.4 L565.6,576.6 L566.3,574.7 L565.5,572.1 L565.3,572.0 L567.0,568.8 L565.6,568.1 L567.4,566.0 L566.7,565.4 L567.7,565.9 L566.3,565.7 L565.9,566.3 L567.5,563.5 L565.5,559.6 L566.9,558.5 L568.9,556.7 L573.8,553.9 L573.4,554.2 L574.5,550.1 L574.3,548.0 L574.7,546.9 L572.4,547.6 L571.4,545.0 L570.9,546.6 L569.9,546.7 L568.0,550.5 L569.0,553.1 L569.2,556.8 L574.8,557.1 L571.4,555.6 L569.1,555.4 L571.2,555.9 L570.4,557.3 L568.5,557.7 L568.6,555.5 L567.6,554.4 L570.7,552.9 L573.8,551.0 L574.3,551.4 L574.6,552.2 L571.2,548.2 L572.4,550.2 L569.0,551.8 L572.0,552.0 L572.7,553.1 L573.3,549.8 L571.5,551.8 L570.0,553.1 L567.1,556.6 L564.5,555.4 L566.1,552.8 L568.8,554.4 L571.5,554.7 L570.8,554.0 L568.9,552.9 L569.8,551.5 L569.0,549.0 L569.5,545.9 L570.8,545.0 L573.9,541.7 L572.5,539.1 L574.7,539.2 L574.5,541.3 L575.0,544.2 L575.7,544.4 L577.2,544.4 L577.5,544.9 L577.8,545.8 L578.7,541.2 L579.2,544.6 L579.9,546.4 L577.8,549.0 L578.0,549.8 L577.9,552.9 L574.2,552.4 L572.6,554.0 L571.2,555.0 L570.2,557.8 L571.2,557.5 L572.3,556.5 L570.9,556.2 L572.6,556.7 L571.1,555.4 L569.7,554.9 L570.4,555.3 L571.7,554.6 L573.2,554.6 L574.9,552.5 L573.8,551.7 L573.1,549.6 L574.7,549.8 L572.1,545.8 L573.9,543.7 L574.3,543.6 L574.3,542.6 L572.1,543.5 L573.7,547.7 L573.1,549.9 L571.7,553.6 L571.7,554.8 L570.2,556.5 L570.1,558.2 L571.1,560.6 L571.3,561.9 L572.2,562.7 L570.4,561.6 L573.7,560.8 L573.7,558.0 L574.7,558.6 L575.8,557.2 L575.5,556.8 L576.6,556.6 L577.1,555.4 L574.2,556.5 L573.0,557.3 L575.2,561.5 L572.8,564.3 L574.1,568.4 L572.0,569.1 L573.4,570.2 L574.6,572.8 L573.9,571.7 L570.3,573.0 L569.8,572.4 L570.1,575.6 L569.7,575.7 L568.9,576.2 L567.1,577.1 L565.5,576.3 L565.1,573.4 L563.5,569.5 L566.8,563.6 L569.4,560.0 L571.5,555.7 L572.7,552.1 L573.8,548.3 L575.5,543.9 L576.5,541.4 L575.9,539.7 L574.2,541.1 L574.1,541.7 L572.7,541.1 L572.2,539.9 L573.6,538.8 L574.8,537.9 L576.4,540.7 L577.9,541.4 L580.2,542.6 L578.8,545.1 L576.2,545.7 L577.5,550.1 L577.8,551.1 L580.3,553.2 L574.5,552.4 L573.7,552.2 L572.5,555.1 L575.4,556.6 L573.2,557.1 L572.7,559.3 L569.5,557.9 L570.3,559.4 L571.5,556.2 L568.7,551.8 L573.2,548.6 L575.2,544.1 L578.1,541.8 L573.9,545.6 L568.2,548.2 L566.2,549.1 L563.4,554.3 L567.4,557.9 L565.4,561.3 L563.2,565.3 L562.5,566.6 L565.9,570.4 L566.8,571.0 L567.6,570.2 L569.5,572.5 L566.3,575.5 L567.4,576.9 L568.0,579.3 L568.8,581.6 L569.7,583.6 L569.6,585.3 L566.2,587.4 L568.1,587.3 L570.0,586.0 L571.2,587.5 L568.8,588.4 L569.2,588.1 L570.6,590.9 L575.0,594.0 L573.9,596.0 L572.7,597.5 L575.1,598.8 L576.4,598.8 L575.7,602.6 L579.1,602.5 L578.1,605.0 L573.8,604.1 L574.3,602.6 L571.6,599.4 L567.8,596.0 L566.1,596.6 L566.6,594.4 L567.9,591.2 L568.0,587.3 L568.0,585.7 L568.1,582.6 L569.3,578.5 L571.1,574.6 L570.1,571.5 L571.4,569.0 L570.1,566.6 L571.8,565.0 L570.5,564.2 L569.0,561.2 L566.8,560.0 L568.1,558.6 L565.9,558.5 L566.7,557.5 L569.0,557.0 L569.1,557.5 L573.3,558.1 L573.5,555.5 L574.5,552.6 L574.5,550.6 L573.5,550.2 L572.9,551.9 L574.8,554.1 L573.7,552.0 L573.4,549.0 L575.5,549.0 L572.7,546.0 L573.2,544.1 L572.6,542.1 L572.3,541.1 L572.5,542.7 L575.1,546.3 L577.3,547.1 L575.9,547.1 L575.1,547.2 L573.5,544.1 L575.1,542.6 L575.2,538.6 L576.5,538.8 L575.5,539.6 L575.8,539.3 L576.1,539.5 L575.2,538.0 L576.9,540.8 L575.8,540.2 L576.5,540.3 L577.5,540.5 L572.8,541.7 L570.7,544.2 L571.9,547.4 L572.9,550.9 L569.2,550.9 L571.7,553.7 L570.6,554.7 L571.1,554.5 L571.9,555.2 L571.1,554.8 L570.6,556.0 L567.7,558.1 L569.2,555.6 L568.3,556.5 L567.5,552.4 L569.1,552.4 L570.2,551.8 L571.5,551.4 L573.3,551.0 L571.6,550.3 L566.1,548.8 L564.1,549.6 L568.5,549.8 L567.5,551.1 L569.0,549.7 L570.4,549.2 L573.1,547.3 L574.4,546.1 L573.9,543.5 L574.6,544.1 L573.3,544.8 L575.2,546.4 L574.1,545.3 L577.7,541.2 L575.0,541.7 L572.0,545.9 L570.4,551.4 L569.9,554.4 L569.9,559.0 L569.7,560.5 L570.0,564.3 L570.8,566.5 L573.6,570.4 L573.0,571.3 L571.9,575.3 L572.2,577.3 L573.4,580.3 L571.6,582.5 L568.9,586.3 L570.5,585.6 L570.2,586.1 L570.3,587.6 L570.6,586.0 L570.0,584.9 L569.7,585.6 L568.6,586.7 L570.7,586.0 L570.1,585.2 L569.7,585.1 L568.3,587.7 L565.9,587.2 L565.6,586.7 L564.1,586.8 L567.5,584.0 L567.3,584.5 L564.5,582.6 L561.2,582.5 L565.0,583.0 L566.4,582.1 L563.8,580.6 L566.0,580.3 L566.9,579.9 L567.8,577.5 L567.1,579.2 L566.0,582.2 L568.7,584.3 L570.3,586.5 L569.5,588.5 L570.5,587.7 L569.1,588.2 L568.7,589.7" fill="none" stroke="#6f3383" stroke-width="0.5" stroke-linejoin="round"/>
<path d="M576,528 L582,524 L588,520 L590,516 L589,524 L594,527 L596,532 L600,532 L597,535 L591,533 L586,536 L580,530" fill="none" stroke="#6f3383" stroke-width="0.5"/>
<rect x="551.0" y="505.5" width="136.5" height="135.3" fill="none" stroke="#000" stroke-width="3"/>
<rect x="408.4" y="646.3" width="138.5" height="138.5" fill="#fff" stroke="none" stroke-width="0"/>
<clipPath id="epmc"><circle cx="478.4" cy="715.5" r="64.3"/></clipPath>
<circle cx="478.40" cy="715.50" r="64.3" fill="#0f3f82" stroke="none" stroke-width="0"/>
<g clip-path="url(#epmc)" filter="url(#hb)">
<ellipse cx="463.3" cy="664.9" rx="6.06" ry="6.06" fill="#164f96"/>
<ellipse cx="472.3" cy="661.9" rx="4.17" ry="4.17" fill="#164f96"/>
<ellipse cx="439.5" cy="681.8" rx="8.54" ry="9.54" fill="#164f96"/>
<ellipse cx="445.0" cy="676.0" rx="6.23" ry="5.19" fill="#164f96"/>
<ellipse cx="452.0" cy="688.0" rx="4.74" ry="4.74" fill="#164f96"/>
<ellipse cx="427.1" cy="701.0" rx="10.86" ry="10.34" fill="#164f96"/>
<ellipse cx="422.6" cy="708.9" rx="7.81" ry="7.81" fill="#164f96"/>
<ellipse cx="431.6" cy="716.8" rx="4.57" ry="4.57" fill="#164f96"/>
<ellipse cx="427.1" cy="732.7" rx="6.41" ry="5.95" fill="#164f96"/>
<ellipse cx="435.0" cy="730.4" rx="5.76" ry="5.32" fill="#164f96"/>
<ellipse cx="433.9" cy="742.8" rx="8.29" ry="9.39" fill="#164f96"/>
<ellipse cx="443.0" cy="755.0" rx="3.30" ry="3.30" fill="#164f96"/>
<ellipse cx="463.3" cy="766.6" rx="6.31" ry="6.31" fill="#164f96"/>
<ellipse cx="480.2" cy="765.4" rx="6.17" ry="6.17" fill="#164f96"/>
<ellipse cx="502.8" cy="678.4" rx="6.94" ry="8.43" fill="#164f96"/>
<ellipse cx="513.0" cy="694.2" rx="5.76" ry="6.65" fill="#164f96"/>
<ellipse cx="522.0" cy="701.0" rx="6.80" ry="7.28" fill="#164f96"/>
<ellipse cx="517.0" cy="690.0" rx="4.17" ry="4.17" fill="#164f96"/>
<ellipse cx="524.3" cy="719.1" rx="6.53" ry="7.54" fill="#164f96"/>
<ellipse cx="508.5" cy="753.0" rx="7.81" ry="7.81" fill="#164f96"/>
<ellipse cx="503.0" cy="750.0" rx="10.05" ry="7.54" fill="#164f96"/>
<ellipse cx="512.0" cy="748.0" rx="10.05" ry="8.79" fill="#164f96"/>
<ellipse cx="496.0" cy="750.0" rx="5.19" ry="5.19" fill="#164f96"/>
<ellipse cx="445.0" cy="680.0" rx="6.48" ry="6.48" fill="#164f96"/>
<ellipse cx="450.0" cy="688.0" rx="5.27" ry="5.27" fill="#164f96"/>
<ellipse cx="432.0" cy="694.0" rx="8.30" ry="8.30" fill="#164f96"/>
<ellipse cx="425.0" cy="722.0" rx="4.95" ry="4.95" fill="#164f96"/>
<ellipse cx="510.0" cy="690.0" rx="5.81" ry="7.74" fill="#164f96"/>
<ellipse cx="518.0" cy="706.0" rx="5.27" ry="5.27" fill="#164f96"/>
<ellipse cx="500.0" cy="752.0" rx="10.38" ry="6.23" fill="#164f96"/>
<ellipse cx="448.0" cy="760.0" rx="3.78" ry="3.78" fill="#164f96"/>
<ellipse cx="429.0" cy="735.0" rx="6.65" ry="6.65" fill="#164f96"/>
<ellipse cx="520.0" cy="745.0" rx="5.69" ry="5.69" fill="#164f96"/>
<ellipse cx="463.3" cy="664.9" rx="4.29" ry="4.29" fill="#45b8dc"/>
<ellipse cx="472.3" cy="661.9" rx="2.06" ry="2.06" fill="#45b8dc"/>
<ellipse cx="439.5" cy="681.8" rx="6.44" ry="7.20" fill="#45b8dc"/>
<ellipse cx="445.0" cy="676.0" rx="3.78" ry="3.15" fill="#45b8dc"/>
<ellipse cx="452.0" cy="688.0" rx="2.34" ry="2.34" fill="#45b8dc"/>
<ellipse cx="427.1" cy="701.0" rx="8.36" ry="7.97" fill="#45b8dc"/>
<ellipse cx="422.6" cy="708.9" rx="6.53" ry="6.53" fill="#45b8dc"/>
<ellipse cx="431.6" cy="716.8" rx="2.77" ry="2.77" fill="#45b8dc"/>
<ellipse cx="427.1" cy="732.7" rx="4.44" ry="4.12" fill="#45b8dc"/>
<ellipse cx="435.0" cy="730.4" rx="3.85" ry="3.55" fill="#45b8dc"/>
<ellipse cx="433.9" cy="742.8" rx="6.65" ry="7.53" fill="#45b8dc"/>
<ellipse cx="463.3" cy="766.6" rx="4.64" ry="4.64" fill="#45b8dc"/>
<ellipse cx="480.2" cy="765.4" rx="4.43" ry="4.43" fill="#45b8dc"/>
<ellipse cx="502.8" cy="678.4" rx="5.19" ry="6.30" fill="#45b8dc"/>
<ellipse cx="513.0" cy="694.2" rx="3.85" ry="4.44" fill="#45b8dc"/>
<ellipse cx="522.0" cy="701.0" rx="4.99" ry="5.35" fill="#45b8dc"/>
<ellipse cx="517.0" cy="690.0" rx="2.06" ry="2.06" fill="#45b8dc"/>
<ellipse cx="524.3" cy="719.1" rx="4.93" ry="5.69" fill="#45b8dc"/>
<ellipse cx="508.5" cy="753.0" rx="6.53" ry="6.53" fill="#45b8dc"/>
<ellipse cx="503.0" cy="750.0" rx="7.58" ry="5.69" fill="#45b8dc"/>
<ellipse cx="512.0" cy="748.0" rx="7.58" ry="6.63" fill="#45b8dc"/>
<ellipse cx="496.0" cy="750.0" rx="3.15" ry="3.15" fill="#45b8dc"/>
<ellipse cx="445.0" cy="680.0" rx="2.96" ry="2.96" fill="#45b8dc"/>
<ellipse cx="450.0" cy="688.0" rx="1.83" ry="1.83" fill="#45b8dc"/>
<ellipse cx="432.0" cy="694.0" rx="5.04" ry="5.04" fill="#45b8dc"/>
<ellipse cx="510.0" cy="690.0" rx="3.04" ry="4.06" fill="#45b8dc"/>
<ellipse cx="518.0" cy="706.0" rx="1.83" ry="1.83" fill="#45b8dc"/>
<ellipse cx="500.0" cy="752.0" rx="6.30" ry="3.78" fill="#45b8dc"/>
<ellipse cx="429.0" cy="735.0" rx="4.44" ry="4.44" fill="#45b8dc"/>
<ellipse cx="520.0" cy="745.0" rx="2.81" ry="2.81" fill="#45b8dc"/>
<ellipse cx="463.3" cy="664.9" rx="2.43" ry="2.43" fill="#72bb3c"/>
<ellipse cx="439.5" cy="681.8" rx="4.50" ry="5.03" fill="#72bb3c"/>
<ellipse cx="427.1" cy="701.0" rx="6.12" ry="5.83" fill="#72bb3c"/>
<ellipse cx="422.6" cy="708.9" rx="5.49" ry="5.49" fill="#72bb3c"/>
<ellipse cx="427.1" cy="732.7" rx="2.30" ry="2.13" fill="#72bb3c"/>
<ellipse cx="435.0" cy="730.4" rx="1.54" ry="1.42" fill="#72bb3c"/>
<ellipse cx="433.9" cy="742.8" rx="5.26" ry="5.96" fill="#72bb3c"/>
<ellipse cx="463.3" cy="766.6" rx="3.01" ry="3.01" fill="#72bb3c"/>
<ellipse cx="480.2" cy="765.4" rx="2.68" ry="2.68" fill="#72bb3c"/>
<ellipse cx="502.8" cy="678.4" rx="3.53" ry="4.29" fill="#72bb3c"/>
<ellipse cx="513.0" cy="694.2" rx="1.54" ry="1.78" fill="#72bb3c"/>
<ellipse cx="522.0" cy="701.0" rx="3.24" ry="3.47" fill="#72bb3c"/>
<ellipse cx="524.3" cy="719.1" rx="3.44" ry="3.97" fill="#72bb3c"/>
<ellipse cx="508.5" cy="753.0" rx="5.49" ry="5.49" fill="#72bb3c"/>
<ellipse cx="503.0" cy="750.0" rx="5.29" ry="3.97" fill="#72bb3c"/>
<ellipse cx="512.0" cy="748.0" rx="5.29" ry="4.63" fill="#72bb3c"/>
<ellipse cx="429.0" cy="735.0" rx="1.78" ry="1.78" fill="#72bb3c"/>
<ellipse cx="422.6" cy="708.9" rx="3.56" ry="3.56" fill="#d9d334"/>
<ellipse cx="433.9" cy="742.8" rx="2.07" ry="2.35" fill="#d9d334"/>
<ellipse cx="508.5" cy="753.0" rx="3.56" ry="3.56" fill="#d9d334"/>
<ellipse cx="422.6" cy="708.9" rx="2.57" ry="2.57" fill="#dc2c22"/>
<ellipse cx="508.5" cy="753.0" rx="2.57" ry="2.57" fill="#dc2c22"/>
</g>
<circle cx="478.40" cy="715.50" r="63.3" fill="none" stroke="#e07a30" stroke-width="2.2"/>
<path d="M433.99,759.91 A62.8,62.8 0 0 1 433.99,671.09" fill="none" stroke="#8e2c1c" stroke-width="3"/>
<path d="M522.81,671.09 A62.8,62.8 0 0 1 522.81,759.91" fill="none" stroke="#8e2c1c" stroke-width="3"/>
<circle cx="480.20" cy="715.70" r="29.5" fill="none" stroke="#e07a30" stroke-width="2.0"/>
<path d="M459.34,736.56 A29.5,29.5 0 0 1 459.34,694.84" fill="none" stroke="#8e2c1c" stroke-width="3"/>
<path d="M501.06,694.84 A29.5,29.5 0 0 1 501.06,736.56" fill="none" stroke="#8e2c1c" stroke-width="3"/>
<line x1="433.64014075089153" y1="670.7401407508916" x2="523.1598592491084" y2="760.2598592491084" stroke="#e8862c" stroke-width="2.0"/>
<line x1="523.1598592491084" y1="670.7401407508916" x2="433.64014075089153" y2="760.2598592491084" stroke="#e8862c" stroke-width="2.0"/>
<rect x="409.9" y="647.8" width="135.5" height="135.5" fill="none" stroke="#000" stroke-width="3"/>
<rect x="549.5" y="646" width="139.5" height="138.8" fill="#fff" stroke="none" stroke-width="0"/>
<clipPath id="epmm"><circle cx="618.5" cy="715.6" r="64.5"/></clipPath>
<circle cx="618.50" cy="715.60" r="64.5" fill="#0f3f82" stroke="none" stroke-width="0"/>
<g clip-path="url(#epmm)" filter="url(#hb)">
<ellipse cx="594.6" cy="675.6" rx="11.73" ry="10.43" fill="#164f96"/>
<ellipse cx="589.8" cy="664.5" rx="6.31" ry="8.74" fill="#164f96"/>
<ellipse cx="593.0" cy="668.0" rx="11.30" ry="13.81" fill="#164f96"/>
<ellipse cx="575.6" cy="673.2" rx="7.28" ry="8.74" fill="#164f96"/>
<ellipse cx="570.0" cy="681.0" rx="6.63" ry="5.69" fill="#164f96"/>
<ellipse cx="580.0" cy="670.0" rx="6.23" ry="6.23" fill="#164f96"/>
<ellipse cx="565.6" cy="702.2" rx="10.78" ry="10.15" fill="#164f96"/>
<ellipse cx="574.4" cy="697.0" rx="6.08" ry="6.08" fill="#164f96"/>
<ellipse cx="567.0" cy="712.0" rx="11.63" ry="15.51" fill="#164f96"/>
<ellipse cx="564.9" cy="723.0" rx="11.42" ry="11.42" fill="#164f96"/>
<ellipse cx="578.0" cy="726.0" rx="9.99" ry="9.99" fill="#164f96"/>
<ellipse cx="570.8" cy="735.0" rx="8.43" ry="8.43" fill="#164f96"/>
<ellipse cx="574.0" cy="742.0" rx="10.05" ry="10.05" fill="#164f96"/>
<ellipse cx="577.0" cy="710.0" rx="7.54" ry="10.05" fill="#164f96"/>
<ellipse cx="562.0" cy="690.0" rx="6.99" ry="6.99" fill="#164f96"/>
<ellipse cx="594.6" cy="675.6" rx="10.12" ry="8.99" fill="#45b8dc"/>
<ellipse cx="589.8" cy="664.5" rx="4.64" ry="6.42" fill="#45b8dc"/>
<ellipse cx="593.0" cy="668.0" rx="8.53" ry="10.42" fill="#45b8dc"/>
<ellipse cx="575.6" cy="673.2" rx="5.35" ry="6.42" fill="#45b8dc"/>
<ellipse cx="570.0" cy="681.0" rx="3.27" ry="2.81" fill="#45b8dc"/>
<ellipse cx="580.0" cy="670.0" rx="3.78" ry="3.78" fill="#45b8dc"/>
<ellipse cx="565.6" cy="702.2" rx="9.21" ry="8.67" fill="#45b8dc"/>
<ellipse cx="574.4" cy="697.0" rx="4.88" ry="4.88" fill="#45b8dc"/>
<ellipse cx="567.0" cy="712.0" rx="8.96" ry="11.95" fill="#45b8dc"/>
<ellipse cx="564.9" cy="723.0" rx="9.75" ry="9.75" fill="#45b8dc"/>
<ellipse cx="578.0" cy="726.0" rx="8.48" ry="8.48" fill="#45b8dc"/>
<ellipse cx="570.8" cy="735.0" rx="6.83" ry="6.83" fill="#45b8dc"/>
<ellipse cx="574.0" cy="742.0" rx="7.58" ry="7.58" fill="#45b8dc"/>
<ellipse cx="577.0" cy="710.0" rx="5.69" ry="7.58" fill="#45b8dc"/>
<ellipse cx="562.0" cy="690.0" rx="4.95" ry="4.95" fill="#45b8dc"/>
<ellipse cx="594.6" cy="675.6" rx="8.86" ry="7.87" fill="#72bb3c"/>
<ellipse cx="589.8" cy="664.5" rx="3.01" ry="4.16" fill="#72bb3c"/>
<ellipse cx="593.0" cy="668.0" rx="5.95" ry="7.27" fill="#72bb3c"/>
<ellipse cx="575.6" cy="673.2" rx="3.47" ry="4.16" fill="#72bb3c"/>
<ellipse cx="565.6" cy="702.2" rx="7.97" ry="7.50" fill="#72bb3c"/>
<ellipse cx="574.4" cy="697.0" rx="3.85" ry="3.85" fill="#72bb3c"/>
<ellipse cx="567.0" cy="712.0" rx="6.56" ry="8.74" fill="#72bb3c"/>
<ellipse cx="564.9" cy="723.0" rx="8.44" ry="8.44" fill="#72bb3c"/>
<ellipse cx="578.0" cy="726.0" rx="7.28" ry="7.28" fill="#72bb3c"/>
<ellipse cx="570.8" cy="735.0" rx="5.48" ry="5.48" fill="#72bb3c"/>
<ellipse cx="574.0" cy="742.0" rx="5.29" ry="5.29" fill="#72bb3c"/>
<ellipse cx="577.0" cy="710.0" rx="3.97" ry="5.29" fill="#72bb3c"/>
<ellipse cx="562.0" cy="690.0" rx="2.81" ry="2.81" fill="#72bb3c"/>
<ellipse cx="594.6" cy="675.6" rx="6.70" ry="5.96" fill="#d9d334"/>
<ellipse cx="565.6" cy="702.2" rx="5.79" ry="5.45" fill="#d9d334"/>
<ellipse cx="574.4" cy="697.0" rx="1.52" ry="1.52" fill="#d9d334"/>
<ellipse cx="564.9" cy="723.0" rx="6.13" ry="6.13" fill="#d9d334"/>
<ellipse cx="578.0" cy="726.0" rx="5.15" ry="5.15" fill="#d9d334"/>
<ellipse cx="570.8" cy="735.0" rx="2.59" ry="2.59" fill="#d9d334"/>
<ellipse cx="594.6" cy="675.6" rx="5.76" ry="5.12" fill="#dc2c22"/>
<ellipse cx="565.6" cy="702.2" rx="4.81" ry="4.53" fill="#dc2c22"/>
<ellipse cx="564.9" cy="723.0" rx="5.09" ry="5.09" fill="#dc2c22"/>
<ellipse cx="578.0" cy="726.0" rx="4.16" ry="4.16" fill="#dc2c22"/>
</g>
<circle cx="618.50" cy="715.60" r="63.5" fill="none" stroke="#e07a30" stroke-width="2.2"/>
<path d="M573.95,760.15 A63.0,63.0 0 0 1 573.95,671.05" fill="none" stroke="#8e2c1c" stroke-width="3"/>
<path d="M663.05,671.05 A63.0,63.0 0 0 1 663.05,760.15" fill="none" stroke="#8e2c1c" stroke-width="3"/>
<circle cx="617.50" cy="716.00" r="32" fill="none" stroke="#e07a30" stroke-width="2.0"/>
<path d="M594.87,738.63 A32,32 0 0 1 594.87,693.37" fill="none" stroke="#8e2c1c" stroke-width="3"/>
<path d="M640.13,693.37 A32,32 0 0 1 640.13,738.63" fill="none" stroke="#8e2c1c" stroke-width="3"/>
<line x1="573.5987193946543" y1="670.6987193946543" x2="663.4012806053457" y2="760.5012806053458" stroke="#e8862c" stroke-width="2.0"/>
<line x1="663.4012806053457" y1="670.6987193946543" x2="573.5987193946543" y2="760.5012806053458" stroke="#e8862c" stroke-width="2.0"/>
<rect x="551.0" y="647.5" width="136.5" height="135.8" fill="none" stroke="#000" stroke-width="3"/>
<text x="95.6" y="847.6" font-size="14.5" font-weight="bold" text-anchor="middle" fill="#dc1c24" font-family="'Liberation Serif', serif" textLength="39.5" lengthAdjust="spacingAndGlyphs">VGAT</text>
<text x="213.2" y="847.8" font-size="14.5" font-weight="bold" text-anchor="middle" fill="#5db533" font-family="'Liberation Serif', serif" textLength="31.5" lengthAdjust="spacingAndGlyphs">c-Fos</text>
<text x="321.3" y="847.8" font-size="14.5" font-weight="bold" text-anchor="middle" fill="#1d4fa8" font-family="'Liberation Serif', serif" textLength="34" lengthAdjust="spacingAndGlyphs">DAPI</text>
<text x="430.8" y="847.8" font-size="14.5" font-weight="bold" text-anchor="middle" fill="#000" font-family="'Liberation Serif', serif" textLength="38" lengthAdjust="spacingAndGlyphs">Merge</text>
<text x="39.8" y="904.5" font-size="14.5" font-weight="bold" text-anchor="middle" fill="#000" font-family="'Liberation Serif', serif" transform="rotate(-90 39.8 904.5)" textLength="46" lengthAdjust="spacingAndGlyphs">Control</text>
<text x="39.8" y="1018.5" font-size="14.5" font-weight="bold" text-anchor="middle" fill="#000" font-family="'Liberation Serif', serif" transform="rotate(-90 39.8 1018.5)" textLength="38.5" lengthAdjust="spacingAndGlyphs">Model</text>
<clipPath id="mc00"><rect x="46.25" y="854.25" width="105.75" height="106.25"/></clipPath>
<rect x="46.25" y="854.25" width="105.75" height="106.25" fill="#0c0203" stroke="none" stroke-width="0"/>
<g clip-path="url(#mc00)" filter="url(#cb)">
<path d="M71.53,863.03 Q70.53,862.60 70.32,861.81 Q70.11,861.02 69.97,859.96 Q69.83,858.90 71.16,859.17 Q72.48,859.44 73.51,859.39 Q74.53,859.34 74.80,860.16 Q75.06,860.98 74.67,861.69 Q74.27,862.39 73.40,862.92 Q72.53,863.46 71.53,863.03 Z" fill="#e81c1c" opacity="0.70"/>
<path d="M72.89,880.18 Q71.64,880.85 70.42,881.21 Q69.19,881.56 67.61,881.16 Q66.02,880.75 66.19,879.42 Q66.37,878.08 67.07,876.99 Q67.77,875.90 69.17,876.32 Q70.58,876.74 71.54,877.12 Q72.50,877.50 73.32,878.50 Q74.14,879.51 72.89,880.18 Z" fill="#e81c1c" opacity="0.60"/>
<path d="M79.32,890.26 Q79.21,891.53 78.30,892.55 Q77.39,893.58 76.32,892.75 Q75.25,891.93 74.46,891.38 Q73.66,890.82 73.49,889.65 Q73.31,888.48 74.40,888.04 Q75.48,887.59 76.55,887.47 Q77.62,887.35 78.52,888.17 Q79.43,888.99 79.32,890.26 Z" fill="#e81c1c" opacity="0.55"/>
<path d="M113.68,881.30 Q112.04,881.49 110.61,880.90 Q109.19,880.30 108.31,878.89 Q107.44,877.49 108.34,875.94 Q109.23,874.39 111.09,874.49 Q112.95,874.58 114.15,875.30 Q115.36,876.02 116.31,877.25 Q117.27,878.48 116.29,879.80 Q115.32,881.12 113.68,881.30 Z" fill="#e81c1c" opacity="0.85"/>
<path d="M138.73,880.91 Q138.15,881.79 136.67,882.34 Q135.20,882.88 133.69,882.14 Q132.19,881.40 132.76,880.19 Q133.33,878.99 133.50,877.69 Q133.67,876.39 135.43,876.43 Q137.19,876.47 138.29,877.25 Q139.39,878.03 139.35,879.03 Q139.31,880.03 138.73,880.91 Z" fill="#e81c1c" opacity="0.65"/>
<path d="M115.99,888.53 Q117.04,889.57 117.10,890.89 Q117.16,892.21 116.18,893.00 Q115.20,893.79 114.04,893.90 Q112.88,894.02 111.46,893.58 Q110.05,893.14 110.07,891.68 Q110.10,890.22 110.99,889.09 Q111.87,887.97 113.40,887.73 Q114.94,887.48 115.99,888.53 Z" fill="#e81c1c" opacity="1.00"/>
<path d="M112.39,898.95 Q113.81,897.94 115.19,898.99 Q116.57,900.03 117.07,901.29 Q117.57,902.54 116.84,903.60 Q116.11,904.66 114.90,905.44 Q113.70,906.21 112.24,905.66 Q110.77,905.10 110.51,903.78 Q110.25,902.46 110.61,901.21 Q110.98,899.96 112.39,898.95 Z" fill="#e81c1c" opacity="1.00"/>
<path d="M139.82,911.28 Q138.31,912.84 137.85,909.95 Q137.38,907.05 136.91,904.96 Q136.45,902.87 137.51,901.40 Q138.57,899.94 139.81,900.04 Q141.05,900.13 142.04,901.38 Q143.04,902.62 143.09,904.75 Q143.13,906.88 142.23,908.30 Q141.33,909.73 139.82,911.28 Z" fill="#e81c1c" opacity="0.90"/>
<path d="M96.40,915.70 Q97.27,914.63 98.55,914.54 Q99.83,914.46 100.97,915.31 Q102.10,916.16 102.08,917.72 Q102.06,919.27 101.31,920.70 Q100.56,922.13 98.95,922.37 Q97.34,922.61 96.46,921.18 Q95.57,919.74 95.55,918.26 Q95.53,916.77 96.40,915.70 Z" fill="#e81c1c" opacity="1.00"/>
<path d="M103.49,901.11 Q103.72,902.21 103.10,903.18 Q102.48,904.15 101.49,904.11 Q100.49,904.06 99.68,903.39 Q98.86,902.71 98.55,901.39 Q98.24,900.08 99.06,899.06 Q99.89,898.04 100.90,898.41 Q101.92,898.78 102.59,899.40 Q103.27,900.01 103.49,901.11 Z" fill="#e81c1c" opacity="0.50"/>
<path d="M149.27,863.16 Q148.35,863.87 147.09,863.98 Q145.83,864.08 145.67,862.84 Q145.51,861.59 144.83,860.39 Q144.16,859.19 145.46,858.86 Q146.77,858.54 148.01,858.15 Q149.25,857.77 149.58,859.03 Q149.91,860.28 150.04,861.37 Q150.18,862.45 149.27,863.16 Z" fill="#e81c1c" opacity="0.60"/>
<path d="M148.78,856.43 Q148.60,857.21 147.63,857.83 Q146.66,858.45 145.07,858.43 Q143.48,858.42 143.32,857.38 Q143.16,856.34 143.49,855.66 Q143.82,854.99 144.68,854.65 Q145.55,854.32 146.46,854.51 Q147.37,854.69 148.17,855.17 Q148.97,855.65 148.78,856.43 Z" fill="#e81c1c" opacity="0.50"/>
<path d="M99.39,956.33 Q98.32,957.13 97.73,957.97 Q97.15,958.81 95.33,959.11 Q93.51,959.41 92.76,958.20 Q92.00,956.98 92.70,956.01 Q93.40,955.04 94.40,954.42 Q95.39,953.80 97.05,953.61 Q98.71,953.41 99.58,954.47 Q100.46,955.53 99.39,956.33 Z" fill="#e81c1c" opacity="0.80"/>
<path d="M130.86,954.90 Q132.31,954.50 133.43,955.29 Q134.55,956.09 134.57,957.10 Q134.59,958.10 133.86,958.93 Q133.13,959.75 131.72,959.96 Q130.31,960.17 128.88,959.65 Q127.45,959.12 127.88,958.05 Q128.31,956.97 128.86,956.13 Q129.41,955.30 130.86,954.90 Z" fill="#e81c1c" opacity="0.60"/>
<path d="M142.04,924.41 Q141.21,924.64 140.22,924.54 Q139.22,924.44 139.07,923.45 Q138.91,922.45 138.97,921.32 Q139.03,920.19 140.17,919.82 Q141.31,919.45 142.47,919.84 Q143.62,920.22 144.07,921.39 Q144.52,922.57 143.69,923.37 Q142.87,924.18 142.04,924.41 Z" fill="#e81c1c" opacity="0.35"/>
<path d="M111.10,897.89 Q110.60,898.74 109.48,898.64 Q108.37,898.53 107.90,897.55 Q107.43,896.56 107.72,895.64 Q108.01,894.72 108.71,894.03 Q109.42,893.34 110.57,893.33 Q111.72,893.33 112.19,894.37 Q112.65,895.42 112.13,896.23 Q111.61,897.03 111.10,897.89 Z" fill="#e81c1c" opacity="0.55"/>
<path d="M129.23,935.64 Q128.87,934.51 129.51,933.48 Q130.14,932.45 131.30,932.28 Q132.45,932.10 133.50,932.62 Q134.56,933.14 134.85,934.32 Q135.15,935.49 134.29,936.23 Q133.43,936.96 132.44,937.73 Q131.45,938.50 130.52,937.63 Q129.58,936.76 129.23,935.64 Z" fill="#e81c1c" opacity="0.25"/>
<path d="M83.59,938.51 Q84.39,938.13 85.28,937.92 Q86.17,937.71 86.74,938.48 Q87.32,939.24 87.31,940.21 Q87.31,941.17 86.46,941.53 Q85.62,941.89 84.94,941.67 Q84.26,941.46 83.68,941.04 Q83.10,940.62 82.95,939.75 Q82.80,938.88 83.59,938.51 Z" fill="#e81c1c" opacity="0.20"/>
<path d="M60.70,901.41 Q60.17,901.80 59.28,901.87 Q58.39,901.94 58.39,901.04 Q58.39,900.15 58.40,899.42 Q58.42,898.68 59.11,898.28 Q59.81,897.88 60.73,897.94 Q61.66,898.01 61.56,898.94 Q61.46,899.87 61.34,900.44 Q61.23,901.02 60.70,901.41 Z" fill="#e81c1c" opacity="0.15"/>
<path d="M106.15,897.10 Q105.28,897.07 104.85,896.42 Q104.42,895.76 103.90,894.92 Q103.39,894.08 104.23,893.59 Q105.08,893.09 105.92,892.96 Q106.76,892.82 107.95,893.16 Q109.13,893.49 108.89,894.71 Q108.65,895.93 107.84,896.53 Q107.03,897.14 106.15,897.10 Z" fill="#e81c1c" opacity="0.35"/>
<path d="M139.81,920.50 Q140.08,919.18 141.11,918.28 Q142.15,917.37 143.30,918.02 Q144.45,918.66 145.31,919.46 Q146.17,920.26 145.91,921.45 Q145.65,922.65 144.68,923.32 Q143.70,924.00 142.58,923.73 Q141.46,923.47 140.51,922.64 Q139.55,921.81 139.81,920.50 Z" fill="#e81c1c" opacity="0.30"/>
<path d="M118.98,931.38 Q118.40,930.88 118.06,930.27 Q117.73,929.66 118.14,928.99 Q118.55,928.31 119.54,928.00 Q120.54,927.68 121.39,928.23 Q122.23,928.77 122.58,929.60 Q122.93,930.43 122.18,931.05 Q121.43,931.67 120.50,931.77 Q119.56,931.88 118.98,931.38 Z" fill="#e81c1c" opacity="0.20"/>
<path d="M104.70,941.88 Q104.41,943.17 103.52,942.96 Q102.63,942.75 102.00,942.19 Q101.37,941.63 101.28,940.54 Q101.19,939.46 101.52,938.45 Q101.86,937.44 102.67,936.94 Q103.47,936.44 104.11,937.35 Q104.74,938.26 104.86,939.43 Q104.99,940.60 104.70,941.88 Z" fill="#e81c1c" opacity="0.20"/>
</g>
<line x1="138.5" y1="956.0" x2="149.0" y2="956.0" stroke="#e0e0e0" stroke-width="2.0"/>
<clipPath id="mc01"><rect x="156.25" y="854.25" width="105.75" height="106.25"/></clipPath>
<rect x="156.25" y="854.25" width="105.75" height="106.25" fill="#020402" stroke="none" stroke-width="0"/>
<g clip-path="url(#mc01)" filter="url(#cb)">
<path d="M168.67,874.95 Q169.84,874.54 171.06,874.50 Q172.28,874.45 172.33,875.53 Q172.37,876.61 173.01,877.66 Q173.64,878.71 172.44,879.24 Q171.24,879.76 169.86,879.83 Q168.48,879.89 167.75,878.81 Q167.03,877.72 167.26,876.54 Q167.50,875.37 168.67,874.95 Z" fill="#3ed23a" opacity="1.00"/>
<path d="M212.03,871.78 Q212.40,873.18 211.21,873.97 Q210.03,874.77 209.03,873.89 Q208.02,873.02 207.18,872.15 Q206.34,871.29 206.35,869.70 Q206.36,868.12 207.69,867.62 Q209.02,867.13 210.05,867.73 Q211.08,868.32 211.37,869.35 Q211.67,870.38 212.03,871.78 Z" fill="#3ed23a" opacity="0.90"/>
<path d="M177.79,910.05 Q177.79,911.33 177.22,912.12 Q176.65,912.90 175.77,914.03 Q174.88,915.15 173.53,914.45 Q172.18,913.75 171.80,912.45 Q171.43,911.15 171.92,909.91 Q172.42,908.67 173.76,908.32 Q175.10,907.97 176.45,908.37 Q177.79,908.78 177.79,910.05 Z" fill="#3ed23a" opacity="1.00"/>
<path d="M224.45,911.63 Q224.03,912.91 223.02,913.61 Q222.02,914.30 220.76,914.24 Q219.50,914.17 219.02,913.05 Q218.54,911.93 218.52,910.76 Q218.49,909.60 219.59,909.33 Q220.70,909.06 221.72,908.91 Q222.75,908.75 223.81,909.54 Q224.88,910.34 224.45,911.63 Z" fill="#3ed23a" opacity="1.00"/>
<path d="M252.42,907.99 Q252.19,906.67 252.21,905.51 Q252.23,904.35 253.33,903.65 Q254.44,902.95 255.95,903.00 Q257.45,903.05 257.85,904.41 Q258.24,905.76 258.56,907.33 Q258.88,908.91 257.24,909.35 Q255.60,909.79 254.13,909.55 Q252.65,909.31 252.42,907.99 Z" fill="#3ed23a" opacity="1.00"/>
<path d="M251.94,902.77 Q252.91,903.74 251.85,904.62 Q250.79,905.51 249.78,905.85 Q248.76,906.18 247.70,905.88 Q246.65,905.58 246.09,904.67 Q245.52,903.76 245.81,902.61 Q246.10,901.47 247.42,901.42 Q248.74,901.37 249.86,901.59 Q250.97,901.81 251.94,902.77 Z" fill="#3ed23a" opacity="0.80"/>
<path d="M248.05,879.11 Q247.41,878.77 246.92,878.10 Q246.43,877.43 246.82,876.65 Q247.20,875.86 247.99,876.09 Q248.78,876.31 249.47,876.24 Q250.17,876.16 250.36,876.86 Q250.56,877.55 250.32,878.23 Q250.08,878.91 249.39,879.18 Q248.69,879.46 248.05,879.11 Z" fill="#3ed23a" opacity="0.70"/>
<path d="M160.09,867.22 Q160.43,867.72 160.05,868.21 Q159.67,868.70 159.09,869.04 Q158.50,869.38 157.90,869.00 Q157.30,868.61 157.54,867.99 Q157.79,867.37 157.71,866.71 Q157.64,866.05 158.30,865.99 Q158.96,865.92 159.36,866.32 Q159.76,866.73 160.09,867.22 Z" fill="#3ed23a" opacity="0.60"/>
<path d="M167.43,896.37 Q167.10,896.61 166.66,896.53 Q166.21,896.45 165.98,896.03 Q165.75,895.62 166.00,895.25 Q166.25,894.87 166.58,894.68 Q166.91,894.49 167.35,894.52 Q167.79,894.54 167.93,894.97 Q168.06,895.40 167.91,895.76 Q167.76,896.13 167.43,896.37 Z" fill="#3ed23a" opacity="0.50"/>
<path d="M257.10,862.45 Q257.07,862.90 256.76,863.21 Q256.46,863.51 256.05,863.46 Q255.65,863.42 255.35,863.17 Q255.05,862.93 255.16,862.58 Q255.27,862.23 255.40,861.85 Q255.53,861.47 255.99,861.39 Q256.45,861.30 256.79,861.65 Q257.12,861.99 257.10,862.45 Z" fill="#3ed23a" opacity="0.50"/>
<path d="M162.80,857.96 Q162.39,857.93 162.14,857.58 Q161.88,857.23 161.95,856.80 Q162.03,856.36 162.38,856.02 Q162.72,855.67 163.26,855.74 Q163.79,855.80 163.93,856.29 Q164.07,856.78 164.02,857.21 Q163.97,857.63 163.59,857.81 Q163.20,857.98 162.80,857.96 Z" fill="#3ed23a" opacity="0.50"/>
<path d="M218.84,896.26 Q219.13,896.16 219.58,896.20 Q220.04,896.25 220.06,896.71 Q220.08,897.17 219.87,897.54 Q219.65,897.90 219.24,898.01 Q218.82,898.12 218.54,897.83 Q218.25,897.54 218.03,897.18 Q217.80,896.81 218.17,896.59 Q218.54,896.36 218.84,896.26 Z" fill="#3ed23a" opacity="0.30"/>
<path d="M195.34,940.75 Q195.43,942.10 194.30,942.73 Q193.17,943.36 192.19,942.86 Q191.21,942.37 190.55,941.64 Q189.89,940.90 190.01,939.84 Q190.13,938.77 190.79,937.54 Q191.45,936.30 192.66,936.90 Q193.88,937.50 194.57,938.45 Q195.25,939.40 195.34,940.75 Z" fill="#3ed23a" opacity="0.90"/>
<path d="M209.77,948.04 Q210.38,948.60 210.19,949.38 Q210.01,950.16 209.50,950.69 Q209.00,951.22 208.33,951.03 Q207.66,950.84 207.09,950.46 Q206.52,950.08 206.81,949.47 Q207.09,948.86 207.34,948.19 Q207.58,947.52 208.37,947.49 Q209.16,947.47 209.77,948.04 Z" fill="#3ed23a" opacity="0.70"/>
<path d="M221.02,936.15 Q221.82,935.72 222.61,935.78 Q223.40,935.85 223.77,936.49 Q224.13,937.14 224.51,938.00 Q224.88,938.86 224.02,939.23 Q223.15,939.59 222.44,939.44 Q221.72,939.30 221.11,938.84 Q220.50,938.39 220.36,937.49 Q220.22,936.59 221.02,936.15 Z" fill="#3ed23a" opacity="0.45"/>
</g>
<line x1="248.5" y1="956.0" x2="259.0" y2="956.0" stroke="#e0e0e0" stroke-width="2.0"/>
<clipPath id="mc02"><rect x="266.25" y="854.25" width="105.5" height="106.25"/></clipPath>
<rect x="266.25" y="854.25" width="105.5" height="106.25" fill="#02030a" stroke="none" stroke-width="0"/>
<g clip-path="url(#mc02)" filter="url(#cb)">
<ellipse cx="320.22" cy="954.34" rx="1.52" ry="2.14" transform="rotate(-23 320.22 954.34)" fill="#2850d0" opacity="0.38"/>
<ellipse cx="352.92" cy="897.91" rx="2.12" ry="1.13" transform="rotate(30 352.92 897.91)" fill="#2850d0" opacity="0.42"/>
<ellipse cx="301.38" cy="937.44" rx="1.75" ry="1.60" transform="rotate(-44 301.38 937.44)" fill="#2850d0" opacity="0.37"/>
<ellipse cx="288.31" cy="882.60" rx="2.43" ry="1.41" transform="rotate(-2 288.31 882.60)" fill="#2850d0" opacity="0.59"/>
<ellipse cx="366.78" cy="930.81" rx="2.11" ry="1.40" transform="rotate(-41 366.78 930.81)" fill="#2850d0" opacity="0.59"/>
<ellipse cx="320.66" cy="867.33" rx="2.24" ry="1.95" transform="rotate(14 320.66 867.33)" fill="#2850d0" opacity="0.57"/>
<ellipse cx="271.35" cy="910.36" rx="1.99" ry="1.17" transform="rotate(17 271.35 910.36)" fill="#2850d0" opacity="0.54"/>
<ellipse cx="328.62" cy="882.37" rx="2.56" ry="1.66" transform="rotate(1 328.62 882.37)" fill="#2850d0" opacity="0.50"/>
<ellipse cx="282.56" cy="940.70" rx="2.32" ry="1.97" transform="rotate(-37 282.56 940.70)" fill="#2850d0" opacity="0.52"/>
<ellipse cx="287.05" cy="863.75" rx="2.58" ry="2.05" transform="rotate(45 287.05 863.75)" fill="#2850d0" opacity="0.39"/>
<ellipse cx="295.61" cy="855.99" rx="2.27" ry="1.89" transform="rotate(40 295.61 855.99)" fill="#2850d0" opacity="0.32"/>
<ellipse cx="289.53" cy="921.90" rx="2.51" ry="2.16" transform="rotate(-42 289.53 921.90)" fill="#2850d0" opacity="0.40"/>
<ellipse cx="359.85" cy="899.32" rx="2.18" ry="1.13" transform="rotate(21 359.85 899.32)" fill="#2850d0" opacity="0.57"/>
<ellipse cx="352.83" cy="947.57" rx="2.29" ry="1.37" transform="rotate(32 352.83 947.57)" fill="#2850d0" opacity="0.29"/>
<ellipse cx="353.29" cy="861.79" rx="2.54" ry="1.28" transform="rotate(-15 353.29 861.79)" fill="#2850d0" opacity="0.33"/>
<ellipse cx="338.80" cy="873.87" rx="1.89" ry="1.11" transform="rotate(-29 338.80 873.87)" fill="#2850d0" opacity="0.37"/>
<ellipse cx="278.21" cy="921.26" rx="1.87" ry="1.90" transform="rotate(18 278.21 921.26)" fill="#2850d0" opacity="0.38"/>
<ellipse cx="357.02" cy="921.15" rx="2.52" ry="1.48" transform="rotate(5 357.02 921.15)" fill="#2850d0" opacity="0.29"/>
<ellipse cx="370.35" cy="880.61" rx="1.69" ry="1.18" transform="rotate(-29 370.35 880.61)" fill="#2850d0" opacity="0.51"/>
<ellipse cx="339.48" cy="868.66" rx="1.86" ry="1.56" transform="rotate(20 339.48 868.66)" fill="#2850d0" opacity="0.39"/>
<ellipse cx="327.95" cy="942.79" rx="2.39" ry="1.50" transform="rotate(-6 327.95 942.79)" fill="#2850d0" opacity="0.35"/>
<ellipse cx="278.61" cy="876.44" rx="1.73" ry="1.45" transform="rotate(-22 278.61 876.44)" fill="#2850d0" opacity="0.43"/>
<ellipse cx="367.82" cy="936.01" rx="2.49" ry="1.94" transform="rotate(12 367.82 936.01)" fill="#2850d0" opacity="0.57"/>
<ellipse cx="338.63" cy="907.41" rx="1.42" ry="1.64" transform="rotate(-34 338.63 907.41)" fill="#2850d0" opacity="0.26"/>
<ellipse cx="319.63" cy="937.10" rx="1.74" ry="1.95" transform="rotate(3 319.63 937.10)" fill="#2850d0" opacity="0.27"/>
<ellipse cx="367.12" cy="897.12" rx="1.74" ry="2.03" transform="rotate(-45 367.12 897.12)" fill="#2850d0" opacity="0.50"/>
<ellipse cx="286.69" cy="896.17" rx="1.65" ry="2.03" transform="rotate(-13 286.69 896.17)" fill="#2850d0" opacity="0.59"/>
<ellipse cx="331.96" cy="927.56" rx="2.08" ry="1.44" transform="rotate(-13 331.96 927.56)" fill="#2850d0" opacity="0.58"/>
<ellipse cx="288.07" cy="958.27" rx="2.44" ry="1.50" transform="rotate(17 288.07 958.27)" fill="#2850d0" opacity="0.36"/>
<ellipse cx="306.73" cy="907.77" rx="1.33" ry="1.64" transform="rotate(57 306.73 907.77)" fill="#2850d0" opacity="0.32"/>
<ellipse cx="344.69" cy="901.41" rx="1.61" ry="2.10" transform="rotate(-58 344.69 901.41)" fill="#2850d0" opacity="0.33"/>
<ellipse cx="370.65" cy="882.58" rx="2.57" ry="1.77" transform="rotate(37 370.65 882.58)" fill="#2850d0" opacity="0.46"/>
<ellipse cx="304.79" cy="934.56" rx="1.34" ry="1.59" transform="rotate(-15 304.79 934.56)" fill="#2850d0" opacity="0.40"/>
<ellipse cx="280.46" cy="878.45" rx="2.14" ry="1.53" transform="rotate(35 280.46 878.45)" fill="#2850d0" opacity="0.45"/>
<ellipse cx="356.39" cy="931.60" rx="2.20" ry="1.42" transform="rotate(34 356.39 931.60)" fill="#2850d0" opacity="0.31"/>
<ellipse cx="275.03" cy="955.63" rx="2.11" ry="1.95" transform="rotate(4 275.03 955.63)" fill="#2850d0" opacity="0.45"/>
<ellipse cx="270.76" cy="874.72" rx="2.31" ry="1.73" transform="rotate(-41 270.76 874.72)" fill="#2850d0" opacity="0.58"/>
<ellipse cx="283.23" cy="908.45" rx="1.52" ry="1.89" transform="rotate(-27 283.23 908.45)" fill="#2850d0" opacity="0.26"/>
<ellipse cx="272.01" cy="873.48" rx="1.59" ry="1.69" transform="rotate(-6 272.01 873.48)" fill="#2850d0" opacity="0.58"/>
<ellipse cx="366.00" cy="938.29" rx="2.31" ry="2.03" transform="rotate(53 366.00 938.29)" fill="#2850d0" opacity="0.22"/>
<ellipse cx="279.47" cy="892.81" rx="1.44" ry="1.76" transform="rotate(-29 279.47 892.81)" fill="#2850d0" opacity="0.31"/>
<ellipse cx="297.09" cy="865.44" rx="2.41" ry="1.82" transform="rotate(13 297.09 865.44)" fill="#2850d0" opacity="0.22"/>
<ellipse cx="311.70" cy="926.68" rx="1.53" ry="1.52" transform="rotate(-58 311.70 926.68)" fill="#2850d0" opacity="0.24"/>
<ellipse cx="289.65" cy="898.48" rx="1.99" ry="2.07" transform="rotate(-22 289.65 898.48)" fill="#2850d0" opacity="0.22"/>
<ellipse cx="352.76" cy="861.70" rx="1.44" ry="2.16" transform="rotate(30 352.76 861.70)" fill="#2850d0" opacity="0.34"/>
<ellipse cx="280.93" cy="895.57" rx="1.81" ry="2.06" transform="rotate(-10 280.93 895.57)" fill="#2850d0" opacity="0.24"/>
<ellipse cx="363.17" cy="920.13" rx="1.48" ry="1.22" transform="rotate(-4 363.17 920.13)" fill="#2850d0" opacity="0.25"/>
<ellipse cx="332.64" cy="919.51" rx="1.35" ry="1.99" transform="rotate(34 332.64 919.51)" fill="#2850d0" opacity="0.57"/>
<ellipse cx="336.63" cy="927.48" rx="1.55" ry="1.13" transform="rotate(-52 336.63 927.48)" fill="#2850d0" opacity="0.59"/>
<ellipse cx="334.08" cy="953.97" rx="1.82" ry="1.93" transform="rotate(-52 334.08 953.97)" fill="#2850d0" opacity="0.27"/>
<ellipse cx="295.93" cy="912.62" rx="2.14" ry="1.65" transform="rotate(-9 295.93 912.62)" fill="#2850d0" opacity="0.43"/>
<ellipse cx="367.30" cy="903.00" rx="2.56" ry="1.16" transform="rotate(-14 367.30 903.00)" fill="#2850d0" opacity="0.43"/>
<ellipse cx="331.45" cy="881.31" rx="1.90" ry="2.14" transform="rotate(18 331.45 881.31)" fill="#2850d0" opacity="0.44"/>
<ellipse cx="274.01" cy="860.69" rx="1.62" ry="1.25" transform="rotate(58 274.01 860.69)" fill="#2850d0" opacity="0.21"/>
<ellipse cx="305.11" cy="861.34" rx="2.26" ry="1.15" transform="rotate(-52 305.11 861.34)" fill="#2850d0" opacity="0.24"/>
<ellipse cx="295.38" cy="915.34" rx="2.51" ry="1.39" transform="rotate(-26 295.38 915.34)" fill="#2850d0" opacity="0.53"/>
<ellipse cx="344.46" cy="868.47" rx="2.51" ry="2.01" transform="rotate(-39 344.46 868.47)" fill="#2850d0" opacity="0.45"/>
<ellipse cx="287.61" cy="880.63" rx="2.04" ry="1.67" transform="rotate(-3 287.61 880.63)" fill="#2850d0" opacity="0.42"/>
<ellipse cx="289.31" cy="936.42" rx="1.72" ry="2.10" transform="rotate(2 289.31 936.42)" fill="#2850d0" opacity="0.33"/>
<ellipse cx="285.30" cy="905.83" rx="1.86" ry="1.79" transform="rotate(-0 285.30 905.83)" fill="#2850d0" opacity="0.22"/>
<ellipse cx="353.48" cy="860.64" rx="2.54" ry="1.99" transform="rotate(51 353.48 860.64)" fill="#2850d0" opacity="0.47"/>
<ellipse cx="283.87" cy="901.32" rx="1.96" ry="1.80" transform="rotate(-14 283.87 901.32)" fill="#2850d0" opacity="0.47"/>
<ellipse cx="288.35" cy="892.09" rx="2.11" ry="1.57" transform="rotate(-45 288.35 892.09)" fill="#2850d0" opacity="0.59"/>
<ellipse cx="338.80" cy="942.09" rx="1.84" ry="2.14" transform="rotate(37 338.80 942.09)" fill="#2850d0" opacity="0.59"/>
<ellipse cx="287.68" cy="904.99" rx="1.88" ry="1.78" transform="rotate(-30 287.68 904.99)" fill="#2850d0" opacity="0.25"/>
<ellipse cx="316.58" cy="921.91" rx="1.88" ry="2.19" transform="rotate(-11 316.58 921.91)" fill="#2850d0" opacity="0.33"/>
<ellipse cx="351.49" cy="903.90" rx="1.71" ry="1.42" transform="rotate(54 351.49 903.90)" fill="#2850d0" opacity="0.59"/>
<ellipse cx="334.14" cy="884.31" rx="2.37" ry="1.34" transform="rotate(-21 334.14 884.31)" fill="#2850d0" opacity="0.42"/>
<ellipse cx="308.77" cy="891.84" rx="2.76" ry="1.29" transform="rotate(14 308.77 891.84)" fill="#2850d0" opacity="0.23"/>
<ellipse cx="276.74" cy="877.14" rx="2.79" ry="1.90" transform="rotate(44 276.74 877.14)" fill="#2850d0" opacity="0.23"/>
<ellipse cx="337.78" cy="901.11" rx="1.92" ry="1.88" transform="rotate(-23 337.78 901.11)" fill="#2850d0" opacity="0.41"/>
<ellipse cx="294.24" cy="896.05" rx="2.10" ry="1.27" transform="rotate(-27 294.24 896.05)" fill="#2850d0" opacity="0.37"/>
<ellipse cx="316.18" cy="938.65" rx="2.26" ry="1.72" transform="rotate(44 316.18 938.65)" fill="#2850d0" opacity="0.29"/>
<ellipse cx="278.02" cy="896.30" rx="1.51" ry="1.71" transform="rotate(9 278.02 896.30)" fill="#2850d0" opacity="0.26"/>
<ellipse cx="341.36" cy="913.27" rx="1.93" ry="2.11" transform="rotate(43 341.36 913.27)" fill="#2850d0" opacity="0.30"/>
<ellipse cx="284.49" cy="950.69" rx="1.54" ry="1.93" transform="rotate(-22 284.49 950.69)" fill="#2850d0" opacity="0.35"/>
<ellipse cx="324.56" cy="951.78" rx="1.30" ry="1.28" transform="rotate(26 324.56 951.78)" fill="#2850d0" opacity="0.36"/>
<ellipse cx="297.04" cy="955.63" rx="1.70" ry="1.89" transform="rotate(56 297.04 955.63)" fill="#2850d0" opacity="0.51"/>
<ellipse cx="340.67" cy="930.64" rx="2.51" ry="1.40" transform="rotate(15 340.67 930.64)" fill="#2850d0" opacity="0.52"/>
<ellipse cx="359.18" cy="949.68" rx="2.66" ry="1.21" transform="rotate(-15 359.18 949.68)" fill="#2850d0" opacity="0.39"/>
<ellipse cx="359.54" cy="898.96" rx="1.70" ry="1.12" transform="rotate(-25 359.54 898.96)" fill="#2850d0" opacity="0.51"/>
<ellipse cx="269.34" cy="872.45" rx="1.77" ry="1.69" transform="rotate(-16 269.34 872.45)" fill="#2850d0" opacity="0.55"/>
<ellipse cx="288.72" cy="913.80" rx="2.47" ry="2.12" transform="rotate(45 288.72 913.80)" fill="#2850d0" opacity="0.26"/>
<ellipse cx="349.20" cy="925.65" rx="1.93" ry="1.13" transform="rotate(-40 349.20 925.65)" fill="#2850d0" opacity="0.50"/>
<ellipse cx="275.94" cy="887.84" rx="1.68" ry="1.92" transform="rotate(-17 275.94 887.84)" fill="#2850d0" opacity="0.24"/>
<ellipse cx="305.59" cy="889.32" rx="2.38" ry="1.45" transform="rotate(23 305.59 889.32)" fill="#2850d0" opacity="0.42"/>
<ellipse cx="359.13" cy="931.70" rx="1.91" ry="1.63" transform="rotate(-3 359.13 931.70)" fill="#2850d0" opacity="0.55"/>
<ellipse cx="281.54" cy="899.48" rx="2.10" ry="1.58" transform="rotate(12 281.54 899.48)" fill="#2850d0" opacity="0.40"/>
<ellipse cx="310.07" cy="926.85" rx="1.79" ry="1.77" transform="rotate(27 310.07 926.85)" fill="#2850d0" opacity="0.26"/>
<ellipse cx="301.04" cy="953.74" rx="2.75" ry="2.19" transform="rotate(-55 301.04 953.74)" fill="#2850d0" opacity="0.53"/>
<ellipse cx="364.05" cy="949.28" rx="2.37" ry="1.84" transform="rotate(26 364.05 949.28)" fill="#2850d0" opacity="0.43"/>
<ellipse cx="348.85" cy="907.58" rx="1.64" ry="1.20" transform="rotate(49 348.85 907.58)" fill="#2850d0" opacity="0.50"/>
<ellipse cx="285.59" cy="940.99" rx="1.75" ry="1.80" transform="rotate(-17 285.59 940.99)" fill="#2850d0" opacity="0.29"/>
<ellipse cx="285.43" cy="862.65" rx="1.41" ry="1.18" transform="rotate(-49 285.43 862.65)" fill="#2850d0" opacity="0.54"/>
<ellipse cx="320.84" cy="868.65" rx="2.09" ry="1.70" transform="rotate(-0 320.84 868.65)" fill="#2850d0" opacity="0.29"/>
<ellipse cx="312.21" cy="946.04" rx="1.88" ry="1.65" transform="rotate(52 312.21 946.04)" fill="#2850d0" opacity="0.30"/>
<ellipse cx="342.34" cy="905.69" rx="2.48" ry="1.50" transform="rotate(5 342.34 905.69)" fill="#2850d0" opacity="0.35"/>
<ellipse cx="356.90" cy="950.62" rx="2.25" ry="2.18" transform="rotate(28 356.90 950.62)" fill="#2850d0" opacity="0.53"/>
<ellipse cx="359.85" cy="883.60" rx="2.78" ry="1.53" transform="rotate(-0 359.85 883.60)" fill="#2850d0" opacity="0.28"/>
<ellipse cx="352.27" cy="890.37" rx="2.33" ry="1.34" transform="rotate(-18 352.27 890.37)" fill="#2850d0" opacity="0.36"/>
<ellipse cx="291.74" cy="858.91" rx="2.46" ry="2.15" transform="rotate(-33 291.74 858.91)" fill="#2850d0" opacity="0.27"/>
<ellipse cx="303.23" cy="863.88" rx="2.27" ry="1.51" transform="rotate(7 303.23 863.88)" fill="#2850d0" opacity="0.56"/>
<ellipse cx="356.42" cy="951.33" rx="2.70" ry="1.75" transform="rotate(0 356.42 951.33)" fill="#2850d0" opacity="0.22"/>
<ellipse cx="277.85" cy="909.87" rx="2.58" ry="1.58" transform="rotate(-60 277.85 909.87)" fill="#2850d0" opacity="0.29"/>
<ellipse cx="345.91" cy="871.77" rx="1.60" ry="1.41" transform="rotate(13 345.91 871.77)" fill="#2850d0" opacity="0.54"/>
<ellipse cx="289.91" cy="917.74" rx="2.09" ry="1.59" transform="rotate(10 289.91 917.74)" fill="#2850d0" opacity="0.53"/>
<ellipse cx="289.76" cy="907.09" rx="1.45" ry="1.66" transform="rotate(35 289.76 907.09)" fill="#2850d0" opacity="0.60"/>
<ellipse cx="316.48" cy="886.17" rx="2.17" ry="1.51" transform="rotate(-46 316.48 886.17)" fill="#2850d0" opacity="0.41"/>
<ellipse cx="349.96" cy="948.15" rx="2.77" ry="1.50" transform="rotate(-30 349.96 948.15)" fill="#2850d0" opacity="0.25"/>
<ellipse cx="312.40" cy="939.38" rx="1.65" ry="2.03" transform="rotate(25 312.40 939.38)" fill="#2850d0" opacity="0.29"/>
<ellipse cx="332.64" cy="940.70" rx="2.70" ry="1.28" transform="rotate(39 332.64 940.70)" fill="#2850d0" opacity="0.51"/>
<ellipse cx="292.48" cy="885.96" rx="2.74" ry="1.50" transform="rotate(-25 292.48 885.96)" fill="#2850d0" opacity="0.49"/>
<ellipse cx="281.01" cy="905.62" rx="1.84" ry="1.70" transform="rotate(12 281.01 905.62)" fill="#2850d0" opacity="0.46"/>
<ellipse cx="312.00" cy="947.71" rx="2.55" ry="2.13" transform="rotate(-6 312.00 947.71)" fill="#2850d0" opacity="0.49"/>
<ellipse cx="311.83" cy="884.31" rx="2.28" ry="2.14" transform="rotate(37 311.83 884.31)" fill="#2850d0" opacity="0.32"/>
<ellipse cx="290.86" cy="935.69" rx="2.36" ry="2.05" transform="rotate(-42 290.86 935.69)" fill="#2850d0" opacity="0.55"/>
<ellipse cx="312.03" cy="883.75" rx="1.81" ry="2.19" transform="rotate(55 312.03 883.75)" fill="#2850d0" opacity="0.24"/>
<ellipse cx="299.87" cy="930.27" rx="1.35" ry="1.14" transform="rotate(-55 299.87 930.27)" fill="#2850d0" opacity="0.55"/>
<ellipse cx="301.79" cy="888.48" rx="2.49" ry="1.45" transform="rotate(29 301.79 888.48)" fill="#2850d0" opacity="0.35"/>
<ellipse cx="298.04" cy="895.62" rx="1.55" ry="1.18" transform="rotate(45 298.04 895.62)" fill="#2850d0" opacity="0.55"/>
<ellipse cx="314.95" cy="927.01" rx="2.59" ry="1.53" transform="rotate(25 314.95 927.01)" fill="#2850d0" opacity="0.50"/>
<ellipse cx="275.33" cy="869.65" rx="2.43" ry="1.88" transform="rotate(-38 275.33 869.65)" fill="#2850d0" opacity="0.53"/>
<ellipse cx="350.14" cy="889.94" rx="1.81" ry="1.22" transform="rotate(-7 350.14 889.94)" fill="#2850d0" opacity="0.25"/>
<ellipse cx="323.49" cy="920.36" rx="2.17" ry="1.18" transform="rotate(15 323.49 920.36)" fill="#2850d0" opacity="0.50"/>
<ellipse cx="281.93" cy="917.29" rx="2.53" ry="1.31" transform="rotate(50 281.93 917.29)" fill="#2850d0" opacity="0.59"/>
<ellipse cx="340.91" cy="946.16" rx="1.71" ry="1.83" transform="rotate(51 340.91 946.16)" fill="#2850d0" opacity="0.23"/>
<ellipse cx="352.21" cy="879.95" rx="2.50" ry="1.81" transform="rotate(36 352.21 879.95)" fill="#2850d0" opacity="0.37"/>
<ellipse cx="313.85" cy="951.61" rx="1.41" ry="1.27" transform="rotate(57 313.85 951.61)" fill="#2850d0" opacity="0.57"/>
<ellipse cx="282.45" cy="956.73" rx="1.70" ry="2.08" transform="rotate(49 282.45 956.73)" fill="#2850d0" opacity="0.22"/>
<ellipse cx="268.26" cy="889.34" rx="2.70" ry="1.97" transform="rotate(-14 268.26 889.34)" fill="#2850d0" opacity="0.54"/>
<ellipse cx="299.08" cy="891.47" rx="1.59" ry="2.16" transform="rotate(36 299.08 891.47)" fill="#2850d0" opacity="0.39"/>
<ellipse cx="294.60" cy="955.95" rx="1.90" ry="1.33" transform="rotate(-9 294.60 955.95)" fill="#2850d0" opacity="0.49"/>
<ellipse cx="347.02" cy="866.61" rx="2.72" ry="1.84" transform="rotate(-53 347.02 866.61)" fill="#2850d0" opacity="0.54"/>
<ellipse cx="367.84" cy="942.59" rx="1.31" ry="1.62" transform="rotate(11 367.84 942.59)" fill="#2850d0" opacity="0.56"/>
<ellipse cx="319.29" cy="863.31" rx="2.70" ry="2.15" transform="rotate(-2 319.29 863.31)" fill="#2850d0" opacity="0.23"/>
<ellipse cx="354.08" cy="932.57" rx="2.76" ry="1.11" transform="rotate(-8 354.08 932.57)" fill="#2850d0" opacity="0.32"/>
<ellipse cx="278.40" cy="931.89" rx="1.81" ry="1.14" transform="rotate(-44 278.40 931.89)" fill="#2850d0" opacity="0.52"/>
<ellipse cx="329.96" cy="877.67" rx="2.34" ry="1.24" transform="rotate(21 329.96 877.67)" fill="#2850d0" opacity="0.47"/>
<ellipse cx="267.82" cy="908.58" rx="2.39" ry="1.93" transform="rotate(25 267.82 908.58)" fill="#2850d0" opacity="0.56"/>
<ellipse cx="345.52" cy="951.37" rx="1.92" ry="1.14" transform="rotate(-38 345.52 951.37)" fill="#2850d0" opacity="0.32"/>
<ellipse cx="271.58" cy="866.53" rx="2.08" ry="1.38" transform="rotate(-26 271.58 866.53)" fill="#2850d0" opacity="0.50"/>
<ellipse cx="355.71" cy="945.12" rx="1.86" ry="1.88" transform="rotate(42 355.71 945.12)" fill="#2850d0" opacity="0.27"/>
<ellipse cx="288.01" cy="922.80" rx="1.70" ry="1.31" transform="rotate(-16 288.01 922.80)" fill="#2850d0" opacity="0.22"/>
<ellipse cx="312.62" cy="860.18" rx="1.67" ry="1.34" transform="rotate(-20 312.62 860.18)" fill="#2850d0" opacity="0.26"/>
<ellipse cx="316.02" cy="926.96" rx="1.81" ry="2.12" transform="rotate(43 316.02 926.96)" fill="#2850d0" opacity="0.33"/>
<ellipse cx="271.28" cy="935.33" rx="1.66" ry="1.47" transform="rotate(10 271.28 935.33)" fill="#2850d0" opacity="0.60"/>
<ellipse cx="298.27" cy="904.09" rx="2.24" ry="1.85" transform="rotate(-35 298.27 904.09)" fill="#2850d0" opacity="0.44"/>
<ellipse cx="323.57" cy="923.91" rx="1.47" ry="1.24" transform="rotate(57 323.57 923.91)" fill="#2850d0" opacity="0.53"/>
<ellipse cx="352.90" cy="952.63" rx="2.74" ry="1.53" transform="rotate(30 352.90 952.63)" fill="#2850d0" opacity="0.46"/>
<ellipse cx="325.19" cy="926.07" rx="1.78" ry="2.05" transform="rotate(-11 325.19 926.07)" fill="#2850d0" opacity="0.27"/>
</g>
<line x1="358.25" y1="956.0" x2="368.75" y2="956.0" stroke="#e0e0e0" stroke-width="2.0"/>
<clipPath id="mc03"><rect x="375.5" y="854.25" width="106.25" height="106.25"/></clipPath>
<rect x="375.5" y="854.25" width="106.25" height="106.25" fill="#060306" stroke="none" stroke-width="0"/>
<g clip-path="url(#mc03)" filter="url(#cb)">
<ellipse cx="429.47" cy="954.34" rx="1.52" ry="2.14" transform="rotate(-23 429.47 954.34)" fill="#2850d0" opacity="0.38"/>
<ellipse cx="462.17" cy="897.91" rx="2.12" ry="1.13" transform="rotate(30 462.17 897.91)" fill="#2850d0" opacity="0.42"/>
<ellipse cx="410.63" cy="937.44" rx="1.75" ry="1.60" transform="rotate(-44 410.63 937.44)" fill="#2850d0" opacity="0.37"/>
<ellipse cx="397.56" cy="882.60" rx="2.43" ry="1.41" transform="rotate(-2 397.56 882.60)" fill="#2850d0" opacity="0.59"/>
<ellipse cx="476.03" cy="930.81" rx="2.11" ry="1.40" transform="rotate(-41 476.03 930.81)" fill="#2850d0" opacity="0.59"/>
<ellipse cx="429.91" cy="867.33" rx="2.24" ry="1.95" transform="rotate(14 429.91 867.33)" fill="#2850d0" opacity="0.57"/>
<ellipse cx="380.60" cy="910.36" rx="1.99" ry="1.17" transform="rotate(17 380.60 910.36)" fill="#2850d0" opacity="0.54"/>
<ellipse cx="437.87" cy="882.37" rx="2.56" ry="1.66" transform="rotate(1 437.87 882.37)" fill="#2850d0" opacity="0.50"/>
<ellipse cx="391.81" cy="940.70" rx="2.32" ry="1.97" transform="rotate(-37 391.81 940.70)" fill="#2850d0" opacity="0.52"/>
<ellipse cx="396.30" cy="863.75" rx="2.58" ry="2.05" transform="rotate(45 396.30 863.75)" fill="#2850d0" opacity="0.39"/>
<ellipse cx="404.86" cy="855.99" rx="2.27" ry="1.89" transform="rotate(40 404.86 855.99)" fill="#2850d0" opacity="0.32"/>
<ellipse cx="398.78" cy="921.90" rx="2.51" ry="2.16" transform="rotate(-42 398.78 921.90)" fill="#2850d0" opacity="0.40"/>
<ellipse cx="469.10" cy="899.32" rx="2.18" ry="1.13" transform="rotate(21 469.10 899.32)" fill="#2850d0" opacity="0.57"/>
<ellipse cx="462.08" cy="947.57" rx="2.29" ry="1.37" transform="rotate(32 462.08 947.57)" fill="#2850d0" opacity="0.29"/>
<ellipse cx="462.54" cy="861.79" rx="2.54" ry="1.28" transform="rotate(-15 462.54 861.79)" fill="#2850d0" opacity="0.33"/>
<ellipse cx="448.05" cy="873.87" rx="1.89" ry="1.11" transform="rotate(-29 448.05 873.87)" fill="#2850d0" opacity="0.37"/>
<ellipse cx="387.46" cy="921.26" rx="1.87" ry="1.90" transform="rotate(18 387.46 921.26)" fill="#2850d0" opacity="0.38"/>
<ellipse cx="466.27" cy="921.15" rx="2.52" ry="1.48" transform="rotate(5 466.27 921.15)" fill="#2850d0" opacity="0.29"/>
<ellipse cx="479.60" cy="880.61" rx="1.69" ry="1.18" transform="rotate(-29 479.60 880.61)" fill="#2850d0" opacity="0.51"/>
<ellipse cx="448.73" cy="868.66" rx="1.86" ry="1.56" transform="rotate(20 448.73 868.66)" fill="#2850d0" opacity="0.39"/>
<ellipse cx="437.20" cy="942.79" rx="2.39" ry="1.50" transform="rotate(-6 437.20 942.79)" fill="#2850d0" opacity="0.35"/>
<ellipse cx="387.86" cy="876.44" rx="1.73" ry="1.45" transform="rotate(-22 387.86 876.44)" fill="#2850d0" opacity="0.43"/>
<ellipse cx="477.07" cy="936.01" rx="2.49" ry="1.94" transform="rotate(12 477.07 936.01)" fill="#2850d0" opacity="0.57"/>
<ellipse cx="447.88" cy="907.41" rx="1.42" ry="1.64" transform="rotate(-34 447.88 907.41)" fill="#2850d0" opacity="0.26"/>
<ellipse cx="428.88" cy="937.10" rx="1.74" ry="1.95" transform="rotate(3 428.88 937.10)" fill="#2850d0" opacity="0.27"/>
<ellipse cx="476.37" cy="897.12" rx="1.74" ry="2.03" transform="rotate(-45 476.37 897.12)" fill="#2850d0" opacity="0.50"/>
<ellipse cx="395.94" cy="896.17" rx="1.65" ry="2.03" transform="rotate(-13 395.94 896.17)" fill="#2850d0" opacity="0.59"/>
<ellipse cx="441.21" cy="927.56" rx="2.08" ry="1.44" transform="rotate(-13 441.21 927.56)" fill="#2850d0" opacity="0.58"/>
<ellipse cx="397.32" cy="958.27" rx="2.44" ry="1.50" transform="rotate(17 397.32 958.27)" fill="#2850d0" opacity="0.36"/>
<ellipse cx="415.98" cy="907.77" rx="1.33" ry="1.64" transform="rotate(57 415.98 907.77)" fill="#2850d0" opacity="0.32"/>
<ellipse cx="453.94" cy="901.41" rx="1.61" ry="2.10" transform="rotate(-58 453.94 901.41)" fill="#2850d0" opacity="0.33"/>
<ellipse cx="479.90" cy="882.58" rx="2.57" ry="1.77" transform="rotate(37 479.90 882.58)" fill="#2850d0" opacity="0.46"/>
<ellipse cx="414.04" cy="934.56" rx="1.34" ry="1.59" transform="rotate(-15 414.04 934.56)" fill="#2850d0" opacity="0.40"/>
<ellipse cx="389.71" cy="878.45" rx="2.14" ry="1.53" transform="rotate(35 389.71 878.45)" fill="#2850d0" opacity="0.45"/>
<ellipse cx="465.64" cy="931.60" rx="2.20" ry="1.42" transform="rotate(34 465.64 931.60)" fill="#2850d0" opacity="0.31"/>
<ellipse cx="384.28" cy="955.63" rx="2.11" ry="1.95" transform="rotate(4 384.28 955.63)" fill="#2850d0" opacity="0.45"/>
<ellipse cx="380.01" cy="874.72" rx="2.31" ry="1.73" transform="rotate(-41 380.01 874.72)" fill="#2850d0" opacity="0.58"/>
<ellipse cx="392.48" cy="908.45" rx="1.52" ry="1.89" transform="rotate(-27 392.48 908.45)" fill="#2850d0" opacity="0.26"/>
<ellipse cx="381.26" cy="873.48" rx="1.59" ry="1.69" transform="rotate(-6 381.26 873.48)" fill="#2850d0" opacity="0.58"/>
<ellipse cx="475.25" cy="938.29" rx="2.31" ry="2.03" transform="rotate(53 475.25 938.29)" fill="#2850d0" opacity="0.22"/>
<ellipse cx="388.72" cy="892.81" rx="1.44" ry="1.76" transform="rotate(-29 388.72 892.81)" fill="#2850d0" opacity="0.31"/>
<ellipse cx="406.34" cy="865.44" rx="2.41" ry="1.82" transform="rotate(13 406.34 865.44)" fill="#2850d0" opacity="0.22"/>
<ellipse cx="420.95" cy="926.68" rx="1.53" ry="1.52" transform="rotate(-58 420.95 926.68)" fill="#2850d0" opacity="0.24"/>
<ellipse cx="398.90" cy="898.48" rx="1.99" ry="2.07" transform="rotate(-22 398.90 898.48)" fill="#2850d0" opacity="0.22"/>
<ellipse cx="462.01" cy="861.70" rx="1.44" ry="2.16" transform="rotate(30 462.01 861.70)" fill="#2850d0" opacity="0.34"/>
<ellipse cx="390.18" cy="895.57" rx="1.81" ry="2.06" transform="rotate(-10 390.18 895.57)" fill="#2850d0" opacity="0.24"/>
<ellipse cx="472.42" cy="920.13" rx="1.48" ry="1.22" transform="rotate(-4 472.42 920.13)" fill="#2850d0" opacity="0.25"/>
<ellipse cx="441.89" cy="919.51" rx="1.35" ry="1.99" transform="rotate(34 441.89 919.51)" fill="#2850d0" opacity="0.57"/>
<ellipse cx="445.88" cy="927.48" rx="1.55" ry="1.13" transform="rotate(-52 445.88 927.48)" fill="#2850d0" opacity="0.59"/>
<ellipse cx="443.33" cy="953.97" rx="1.82" ry="1.93" transform="rotate(-52 443.33 953.97)" fill="#2850d0" opacity="0.27"/>
<ellipse cx="405.18" cy="912.62" rx="2.14" ry="1.65" transform="rotate(-9 405.18 912.62)" fill="#2850d0" opacity="0.43"/>
<ellipse cx="476.55" cy="903.00" rx="2.56" ry="1.16" transform="rotate(-14 476.55 903.00)" fill="#2850d0" opacity="0.43"/>
<ellipse cx="440.70" cy="881.31" rx="1.90" ry="2.14" transform="rotate(18 440.70 881.31)" fill="#2850d0" opacity="0.44"/>
<ellipse cx="383.26" cy="860.69" rx="1.62" ry="1.25" transform="rotate(58 383.26 860.69)" fill="#2850d0" opacity="0.21"/>
<ellipse cx="414.36" cy="861.34" rx="2.26" ry="1.15" transform="rotate(-52 414.36 861.34)" fill="#2850d0" opacity="0.24"/>
<ellipse cx="404.63" cy="915.34" rx="2.51" ry="1.39" transform="rotate(-26 404.63 915.34)" fill="#2850d0" opacity="0.53"/>
<ellipse cx="453.71" cy="868.47" rx="2.51" ry="2.01" transform="rotate(-39 453.71 868.47)" fill="#2850d0" opacity="0.45"/>
<ellipse cx="396.86" cy="880.63" rx="2.04" ry="1.67" transform="rotate(-3 396.86 880.63)" fill="#2850d0" opacity="0.42"/>
<ellipse cx="398.56" cy="936.42" rx="1.72" ry="2.10" transform="rotate(2 398.56 936.42)" fill="#2850d0" opacity="0.33"/>
<ellipse cx="394.55" cy="905.83" rx="1.86" ry="1.79" transform="rotate(-0 394.55 905.83)" fill="#2850d0" opacity="0.22"/>
<ellipse cx="462.73" cy="860.64" rx="2.54" ry="1.99" transform="rotate(51 462.73 860.64)" fill="#2850d0" opacity="0.47"/>
<ellipse cx="393.12" cy="901.32" rx="1.96" ry="1.80" transform="rotate(-14 393.12 901.32)" fill="#2850d0" opacity="0.47"/>
<ellipse cx="397.60" cy="892.09" rx="2.11" ry="1.57" transform="rotate(-45 397.60 892.09)" fill="#2850d0" opacity="0.59"/>
<ellipse cx="448.05" cy="942.09" rx="1.84" ry="2.14" transform="rotate(37 448.05 942.09)" fill="#2850d0" opacity="0.59"/>
<ellipse cx="396.93" cy="904.99" rx="1.88" ry="1.78" transform="rotate(-30 396.93 904.99)" fill="#2850d0" opacity="0.25"/>
<ellipse cx="425.83" cy="921.91" rx="1.88" ry="2.19" transform="rotate(-11 425.83 921.91)" fill="#2850d0" opacity="0.33"/>
<ellipse cx="460.74" cy="903.90" rx="1.71" ry="1.42" transform="rotate(54 460.74 903.90)" fill="#2850d0" opacity="0.59"/>
<ellipse cx="443.39" cy="884.31" rx="2.37" ry="1.34" transform="rotate(-21 443.39 884.31)" fill="#2850d0" opacity="0.42"/>
<ellipse cx="418.02" cy="891.84" rx="2.76" ry="1.29" transform="rotate(14 418.02 891.84)" fill="#2850d0" opacity="0.23"/>
<ellipse cx="385.99" cy="877.14" rx="2.79" ry="1.90" transform="rotate(44 385.99 877.14)" fill="#2850d0" opacity="0.23"/>
<ellipse cx="447.03" cy="901.11" rx="1.92" ry="1.88" transform="rotate(-23 447.03 901.11)" fill="#2850d0" opacity="0.41"/>
<ellipse cx="403.49" cy="896.05" rx="2.10" ry="1.27" transform="rotate(-27 403.49 896.05)" fill="#2850d0" opacity="0.37"/>
<ellipse cx="425.43" cy="938.65" rx="2.26" ry="1.72" transform="rotate(44 425.43 938.65)" fill="#2850d0" opacity="0.29"/>
<ellipse cx="387.27" cy="896.30" rx="1.51" ry="1.71" transform="rotate(9 387.27 896.30)" fill="#2850d0" opacity="0.26"/>
<ellipse cx="450.61" cy="913.27" rx="1.93" ry="2.11" transform="rotate(43 450.61 913.27)" fill="#2850d0" opacity="0.30"/>
<ellipse cx="393.74" cy="950.69" rx="1.54" ry="1.93" transform="rotate(-22 393.74 950.69)" fill="#2850d0" opacity="0.35"/>
<ellipse cx="433.81" cy="951.78" rx="1.30" ry="1.28" transform="rotate(26 433.81 951.78)" fill="#2850d0" opacity="0.36"/>
<ellipse cx="406.29" cy="955.63" rx="1.70" ry="1.89" transform="rotate(56 406.29 955.63)" fill="#2850d0" opacity="0.51"/>
<ellipse cx="449.92" cy="930.64" rx="2.51" ry="1.40" transform="rotate(15 449.92 930.64)" fill="#2850d0" opacity="0.52"/>
<ellipse cx="468.43" cy="949.68" rx="2.66" ry="1.21" transform="rotate(-15 468.43 949.68)" fill="#2850d0" opacity="0.39"/>
<ellipse cx="468.79" cy="898.96" rx="1.70" ry="1.12" transform="rotate(-25 468.79 898.96)" fill="#2850d0" opacity="0.51"/>
<ellipse cx="378.59" cy="872.45" rx="1.77" ry="1.69" transform="rotate(-16 378.59 872.45)" fill="#2850d0" opacity="0.55"/>
<ellipse cx="397.97" cy="913.80" rx="2.47" ry="2.12" transform="rotate(45 397.97 913.80)" fill="#2850d0" opacity="0.26"/>
<ellipse cx="458.45" cy="925.65" rx="1.93" ry="1.13" transform="rotate(-40 458.45 925.65)" fill="#2850d0" opacity="0.50"/>
<ellipse cx="385.19" cy="887.84" rx="1.68" ry="1.92" transform="rotate(-17 385.19 887.84)" fill="#2850d0" opacity="0.24"/>
<ellipse cx="414.84" cy="889.32" rx="2.38" ry="1.45" transform="rotate(23 414.84 889.32)" fill="#2850d0" opacity="0.42"/>
<ellipse cx="468.38" cy="931.70" rx="1.91" ry="1.63" transform="rotate(-3 468.38 931.70)" fill="#2850d0" opacity="0.55"/>
<ellipse cx="390.79" cy="899.48" rx="2.10" ry="1.58" transform="rotate(12 390.79 899.48)" fill="#2850d0" opacity="0.40"/>
<ellipse cx="419.32" cy="926.85" rx="1.79" ry="1.77" transform="rotate(27 419.32 926.85)" fill="#2850d0" opacity="0.26"/>
<ellipse cx="410.29" cy="953.74" rx="2.75" ry="2.19" transform="rotate(-55 410.29 953.74)" fill="#2850d0" opacity="0.53"/>
<ellipse cx="473.30" cy="949.28" rx="2.37" ry="1.84" transform="rotate(26 473.30 949.28)" fill="#2850d0" opacity="0.43"/>
<ellipse cx="458.10" cy="907.58" rx="1.64" ry="1.20" transform="rotate(49 458.10 907.58)" fill="#2850d0" opacity="0.50"/>
<ellipse cx="394.84" cy="940.99" rx="1.75" ry="1.80" transform="rotate(-17 394.84 940.99)" fill="#2850d0" opacity="0.29"/>
<ellipse cx="394.68" cy="862.65" rx="1.41" ry="1.18" transform="rotate(-49 394.68 862.65)" fill="#2850d0" opacity="0.54"/>
<ellipse cx="430.09" cy="868.65" rx="2.09" ry="1.70" transform="rotate(-0 430.09 868.65)" fill="#2850d0" opacity="0.29"/>
<ellipse cx="421.46" cy="946.04" rx="1.88" ry="1.65" transform="rotate(52 421.46 946.04)" fill="#2850d0" opacity="0.30"/>
<ellipse cx="451.59" cy="905.69" rx="2.48" ry="1.50" transform="rotate(5 451.59 905.69)" fill="#2850d0" opacity="0.35"/>
<ellipse cx="466.15" cy="950.62" rx="2.25" ry="2.18" transform="rotate(28 466.15 950.62)" fill="#2850d0" opacity="0.53"/>
<ellipse cx="469.10" cy="883.60" rx="2.78" ry="1.53" transform="rotate(-0 469.10 883.60)" fill="#2850d0" opacity="0.28"/>
<ellipse cx="461.52" cy="890.37" rx="2.33" ry="1.34" transform="rotate(-18 461.52 890.37)" fill="#2850d0" opacity="0.36"/>
<ellipse cx="400.99" cy="858.91" rx="2.46" ry="2.15" transform="rotate(-33 400.99 858.91)" fill="#2850d0" opacity="0.27"/>
<ellipse cx="412.48" cy="863.88" rx="2.27" ry="1.51" transform="rotate(7 412.48 863.88)" fill="#2850d0" opacity="0.56"/>
<ellipse cx="465.67" cy="951.33" rx="2.70" ry="1.75" transform="rotate(0 465.67 951.33)" fill="#2850d0" opacity="0.22"/>
<ellipse cx="387.10" cy="909.87" rx="2.58" ry="1.58" transform="rotate(-60 387.10 909.87)" fill="#2850d0" opacity="0.29"/>
<ellipse cx="455.16" cy="871.77" rx="1.60" ry="1.41" transform="rotate(13 455.16 871.77)" fill="#2850d0" opacity="0.54"/>
<ellipse cx="399.16" cy="917.74" rx="2.09" ry="1.59" transform="rotate(10 399.16 917.74)" fill="#2850d0" opacity="0.53"/>
<ellipse cx="399.01" cy="907.09" rx="1.45" ry="1.66" transform="rotate(35 399.01 907.09)" fill="#2850d0" opacity="0.60"/>
<ellipse cx="425.73" cy="886.17" rx="2.17" ry="1.51" transform="rotate(-46 425.73 886.17)" fill="#2850d0" opacity="0.41"/>
<ellipse cx="459.21" cy="948.15" rx="2.77" ry="1.50" transform="rotate(-30 459.21 948.15)" fill="#2850d0" opacity="0.25"/>
<ellipse cx="421.65" cy="939.38" rx="1.65" ry="2.03" transform="rotate(25 421.65 939.38)" fill="#2850d0" opacity="0.29"/>
<ellipse cx="441.89" cy="940.70" rx="2.70" ry="1.28" transform="rotate(39 441.89 940.70)" fill="#2850d0" opacity="0.51"/>
<ellipse cx="401.73" cy="885.96" rx="2.74" ry="1.50" transform="rotate(-25 401.73 885.96)" fill="#2850d0" opacity="0.49"/>
<ellipse cx="390.26" cy="905.62" rx="1.84" ry="1.70" transform="rotate(12 390.26 905.62)" fill="#2850d0" opacity="0.46"/>
<ellipse cx="421.25" cy="947.71" rx="2.55" ry="2.13" transform="rotate(-6 421.25 947.71)" fill="#2850d0" opacity="0.49"/>
<ellipse cx="421.08" cy="884.31" rx="2.28" ry="2.14" transform="rotate(37 421.08 884.31)" fill="#2850d0" opacity="0.32"/>
<ellipse cx="400.11" cy="935.69" rx="2.36" ry="2.05" transform="rotate(-42 400.11 935.69)" fill="#2850d0" opacity="0.55"/>
<ellipse cx="421.28" cy="883.75" rx="1.81" ry="2.19" transform="rotate(55 421.28 883.75)" fill="#2850d0" opacity="0.24"/>
<ellipse cx="409.12" cy="930.27" rx="1.35" ry="1.14" transform="rotate(-55 409.12 930.27)" fill="#2850d0" opacity="0.55"/>
<ellipse cx="411.04" cy="888.48" rx="2.49" ry="1.45" transform="rotate(29 411.04 888.48)" fill="#2850d0" opacity="0.35"/>
<ellipse cx="407.29" cy="895.62" rx="1.55" ry="1.18" transform="rotate(45 407.29 895.62)" fill="#2850d0" opacity="0.55"/>
<ellipse cx="424.20" cy="927.01" rx="2.59" ry="1.53" transform="rotate(25 424.20 927.01)" fill="#2850d0" opacity="0.50"/>
<ellipse cx="384.58" cy="869.65" rx="2.43" ry="1.88" transform="rotate(-38 384.58 869.65)" fill="#2850d0" opacity="0.53"/>
<ellipse cx="459.39" cy="889.94" rx="1.81" ry="1.22" transform="rotate(-7 459.39 889.94)" fill="#2850d0" opacity="0.25"/>
<ellipse cx="432.74" cy="920.36" rx="2.17" ry="1.18" transform="rotate(15 432.74 920.36)" fill="#2850d0" opacity="0.50"/>
<ellipse cx="391.18" cy="917.29" rx="2.53" ry="1.31" transform="rotate(50 391.18 917.29)" fill="#2850d0" opacity="0.59"/>
<ellipse cx="450.16" cy="946.16" rx="1.71" ry="1.83" transform="rotate(51 450.16 946.16)" fill="#2850d0" opacity="0.23"/>
<ellipse cx="461.46" cy="879.95" rx="2.50" ry="1.81" transform="rotate(36 461.46 879.95)" fill="#2850d0" opacity="0.37"/>
<ellipse cx="423.10" cy="951.61" rx="1.41" ry="1.27" transform="rotate(57 423.10 951.61)" fill="#2850d0" opacity="0.57"/>
<ellipse cx="391.70" cy="956.73" rx="1.70" ry="2.08" transform="rotate(49 391.70 956.73)" fill="#2850d0" opacity="0.22"/>
<ellipse cx="377.51" cy="889.34" rx="2.70" ry="1.97" transform="rotate(-14 377.51 889.34)" fill="#2850d0" opacity="0.54"/>
<ellipse cx="408.33" cy="891.47" rx="1.59" ry="2.16" transform="rotate(36 408.33 891.47)" fill="#2850d0" opacity="0.39"/>
<ellipse cx="403.85" cy="955.95" rx="1.90" ry="1.33" transform="rotate(-9 403.85 955.95)" fill="#2850d0" opacity="0.49"/>
<ellipse cx="456.27" cy="866.61" rx="2.72" ry="1.84" transform="rotate(-53 456.27 866.61)" fill="#2850d0" opacity="0.54"/>
<ellipse cx="477.09" cy="942.59" rx="1.31" ry="1.62" transform="rotate(11 477.09 942.59)" fill="#2850d0" opacity="0.56"/>
<ellipse cx="428.54" cy="863.31" rx="2.70" ry="2.15" transform="rotate(-2 428.54 863.31)" fill="#2850d0" opacity="0.23"/>
<ellipse cx="463.33" cy="932.57" rx="2.76" ry="1.11" transform="rotate(-8 463.33 932.57)" fill="#2850d0" opacity="0.32"/>
<ellipse cx="387.65" cy="931.89" rx="1.81" ry="1.14" transform="rotate(-44 387.65 931.89)" fill="#2850d0" opacity="0.52"/>
<ellipse cx="439.21" cy="877.67" rx="2.34" ry="1.24" transform="rotate(21 439.21 877.67)" fill="#2850d0" opacity="0.47"/>
<ellipse cx="377.07" cy="908.58" rx="2.39" ry="1.93" transform="rotate(25 377.07 908.58)" fill="#2850d0" opacity="0.56"/>
<ellipse cx="454.77" cy="951.37" rx="1.92" ry="1.14" transform="rotate(-38 454.77 951.37)" fill="#2850d0" opacity="0.32"/>
<ellipse cx="380.83" cy="866.53" rx="2.08" ry="1.38" transform="rotate(-26 380.83 866.53)" fill="#2850d0" opacity="0.50"/>
<ellipse cx="464.96" cy="945.12" rx="1.86" ry="1.88" transform="rotate(42 464.96 945.12)" fill="#2850d0" opacity="0.27"/>
<ellipse cx="397.26" cy="922.80" rx="1.70" ry="1.31" transform="rotate(-16 397.26 922.80)" fill="#2850d0" opacity="0.22"/>
<ellipse cx="421.87" cy="860.18" rx="1.67" ry="1.34" transform="rotate(-20 421.87 860.18)" fill="#2850d0" opacity="0.26"/>
<ellipse cx="425.27" cy="926.96" rx="1.81" ry="2.12" transform="rotate(43 425.27 926.96)" fill="#2850d0" opacity="0.33"/>
<ellipse cx="380.53" cy="935.33" rx="1.66" ry="1.47" transform="rotate(10 380.53 935.33)" fill="#2850d0" opacity="0.60"/>
<ellipse cx="407.52" cy="904.09" rx="2.24" ry="1.85" transform="rotate(-35 407.52 904.09)" fill="#2850d0" opacity="0.44"/>
<ellipse cx="432.82" cy="923.91" rx="1.47" ry="1.24" transform="rotate(57 432.82 923.91)" fill="#2850d0" opacity="0.53"/>
<ellipse cx="462.15" cy="952.63" rx="2.74" ry="1.53" transform="rotate(30 462.15 952.63)" fill="#2850d0" opacity="0.46"/>
<ellipse cx="434.44" cy="926.07" rx="1.78" ry="2.05" transform="rotate(-11 434.44 926.07)" fill="#2850d0" opacity="0.27"/>
<path d="M400.78,863.03 Q399.78,862.60 399.57,861.81 Q399.36,861.02 399.22,859.96 Q399.08,858.90 400.41,859.17 Q401.73,859.44 402.76,859.39 Q403.78,859.34 404.05,860.16 Q404.31,860.98 403.92,861.69 Q403.52,862.39 402.65,862.92 Q401.78,863.46 400.78,863.03 Z" fill="#e42646" opacity="0.70"/>
<path d="M402.14,880.18 Q400.89,880.85 399.67,881.21 Q398.44,881.56 396.86,881.16 Q395.27,880.75 395.44,879.42 Q395.62,878.08 396.32,876.99 Q397.02,875.90 398.42,876.32 Q399.83,876.74 400.79,877.12 Q401.75,877.50 402.57,878.50 Q403.39,879.51 402.14,880.18 Z" fill="#e42646" opacity="0.60"/>
<path d="M408.57,890.26 Q408.46,891.53 407.55,892.55 Q406.64,893.58 405.57,892.75 Q404.50,891.93 403.71,891.38 Q402.91,890.82 402.74,889.65 Q402.56,888.48 403.65,888.04 Q404.73,887.59 405.80,887.47 Q406.87,887.35 407.77,888.17 Q408.68,888.99 408.57,890.26 Z" fill="#e42646" opacity="0.55"/>
<path d="M442.93,881.30 Q441.29,881.49 439.86,880.90 Q438.44,880.30 437.56,878.89 Q436.69,877.49 437.59,875.94 Q438.48,874.39 440.34,874.49 Q442.20,874.58 443.40,875.30 Q444.61,876.02 445.56,877.25 Q446.52,878.48 445.54,879.80 Q444.57,881.12 442.93,881.30 Z" fill="#e42646" opacity="0.85"/>
<path d="M467.98,880.91 Q467.40,881.79 465.92,882.34 Q464.45,882.88 462.94,882.14 Q461.44,881.40 462.01,880.19 Q462.58,878.99 462.75,877.69 Q462.92,876.39 464.68,876.43 Q466.44,876.47 467.54,877.25 Q468.64,878.03 468.60,879.03 Q468.56,880.03 467.98,880.91 Z" fill="#e42646" opacity="0.65"/>
<path d="M445.24,888.53 Q446.29,889.57 446.35,890.89 Q446.41,892.21 445.43,893.00 Q444.45,893.79 443.29,893.90 Q442.13,894.02 440.71,893.58 Q439.30,893.14 439.32,891.68 Q439.35,890.22 440.24,889.09 Q441.12,887.97 442.65,887.73 Q444.19,887.48 445.24,888.53 Z" fill="#e42646" opacity="1.00"/>
<path d="M441.64,898.95 Q443.06,897.94 444.44,898.99 Q445.82,900.03 446.32,901.29 Q446.82,902.54 446.09,903.60 Q445.36,904.66 444.15,905.44 Q442.95,906.21 441.49,905.66 Q440.02,905.10 439.76,903.78 Q439.50,902.46 439.86,901.21 Q440.23,899.96 441.64,898.95 Z" fill="#e42646" opacity="1.00"/>
<path d="M469.07,911.28 Q467.56,912.84 467.10,909.95 Q466.63,907.05 466.16,904.96 Q465.70,902.87 466.76,901.40 Q467.82,899.94 469.06,900.04 Q470.30,900.13 471.29,901.38 Q472.29,902.62 472.34,904.75 Q472.38,906.88 471.48,908.30 Q470.58,909.73 469.07,911.28 Z" fill="#e42646" opacity="0.90"/>
<path d="M425.65,915.70 Q426.52,914.63 427.80,914.54 Q429.08,914.46 430.22,915.31 Q431.35,916.16 431.33,917.72 Q431.31,919.27 430.56,920.70 Q429.81,922.13 428.20,922.37 Q426.59,922.61 425.71,921.18 Q424.82,919.74 424.80,918.26 Q424.78,916.77 425.65,915.70 Z" fill="#e42646" opacity="1.00"/>
<path d="M432.74,901.11 Q432.97,902.21 432.35,903.18 Q431.73,904.15 430.74,904.11 Q429.74,904.06 428.93,903.39 Q428.11,902.71 427.80,901.39 Q427.49,900.08 428.31,899.06 Q429.14,898.04 430.15,898.41 Q431.17,898.78 431.84,899.40 Q432.52,900.01 432.74,901.11 Z" fill="#e42646" opacity="0.50"/>
<path d="M478.52,863.16 Q477.60,863.87 476.34,863.98 Q475.08,864.08 474.92,862.84 Q474.76,861.59 474.08,860.39 Q473.41,859.19 474.71,858.86 Q476.02,858.54 477.26,858.15 Q478.50,857.77 478.83,859.03 Q479.16,860.28 479.29,861.37 Q479.43,862.45 478.52,863.16 Z" fill="#e42646" opacity="0.60"/>
<path d="M478.03,856.43 Q477.85,857.21 476.88,857.83 Q475.91,858.45 474.32,858.43 Q472.73,858.42 472.57,857.38 Q472.41,856.34 472.74,855.66 Q473.07,854.99 473.93,854.65 Q474.80,854.32 475.71,854.51 Q476.62,854.69 477.42,855.17 Q478.22,855.65 478.03,856.43 Z" fill="#e42646" opacity="0.50"/>
<path d="M428.64,956.33 Q427.57,957.13 426.98,957.97 Q426.40,958.81 424.58,959.11 Q422.76,959.41 422.01,958.20 Q421.25,956.98 421.95,956.01 Q422.65,955.04 423.65,954.42 Q424.64,953.80 426.30,953.61 Q427.96,953.41 428.83,954.47 Q429.71,955.53 428.64,956.33 Z" fill="#e42646" opacity="0.80"/>
<path d="M460.11,954.90 Q461.56,954.50 462.68,955.29 Q463.80,956.09 463.82,957.10 Q463.84,958.10 463.11,958.93 Q462.38,959.75 460.97,959.96 Q459.56,960.17 458.13,959.65 Q456.70,959.12 457.13,958.05 Q457.56,956.97 458.11,956.13 Q458.66,955.30 460.11,954.90 Z" fill="#e42646" opacity="0.60"/>
<path d="M471.29,924.41 Q470.46,924.64 469.47,924.54 Q468.47,924.44 468.32,923.45 Q468.16,922.45 468.22,921.32 Q468.28,920.19 469.42,919.82 Q470.56,919.45 471.72,919.84 Q472.87,920.22 473.32,921.39 Q473.77,922.57 472.94,923.37 Q472.12,924.18 471.29,924.41 Z" fill="#e42646" opacity="0.35"/>
<path d="M440.35,897.89 Q439.85,898.74 438.73,898.64 Q437.62,898.53 437.15,897.55 Q436.68,896.56 436.97,895.64 Q437.26,894.72 437.96,894.03 Q438.67,893.34 439.82,893.33 Q440.97,893.33 441.44,894.37 Q441.90,895.42 441.38,896.23 Q440.86,897.03 440.35,897.89 Z" fill="#e42646" opacity="0.55"/>
<path d="M458.48,935.64 Q458.12,934.51 458.76,933.48 Q459.39,932.45 460.55,932.28 Q461.70,932.10 462.75,932.62 Q463.81,933.14 464.10,934.32 Q464.40,935.49 463.54,936.23 Q462.68,936.96 461.69,937.73 Q460.70,938.50 459.77,937.63 Q458.83,936.76 458.48,935.64 Z" fill="#e42646" opacity="0.25"/>
<path d="M412.84,938.51 Q413.64,938.13 414.53,937.92 Q415.42,937.71 415.99,938.48 Q416.57,939.24 416.56,940.21 Q416.56,941.17 415.71,941.53 Q414.87,941.89 414.19,941.67 Q413.51,941.46 412.93,941.04 Q412.35,940.62 412.20,939.75 Q412.05,938.88 412.84,938.51 Z" fill="#e42646" opacity="0.20"/>
<path d="M389.95,901.41 Q389.42,901.80 388.53,901.87 Q387.64,901.94 387.64,901.04 Q387.64,900.15 387.65,899.42 Q387.67,898.68 388.36,898.28 Q389.06,897.88 389.98,897.94 Q390.91,898.01 390.81,898.94 Q390.71,899.87 390.59,900.44 Q390.48,901.02 389.95,901.41 Z" fill="#e42646" opacity="0.15"/>
<path d="M435.40,897.10 Q434.53,897.07 434.10,896.42 Q433.67,895.76 433.15,894.92 Q432.64,894.08 433.48,893.59 Q434.33,893.09 435.17,892.96 Q436.01,892.82 437.20,893.16 Q438.38,893.49 438.14,894.71 Q437.90,895.93 437.09,896.53 Q436.28,897.14 435.40,897.10 Z" fill="#e42646" opacity="0.35"/>
<path d="M469.06,920.50 Q469.33,919.18 470.36,918.28 Q471.40,917.37 472.55,918.02 Q473.70,918.66 474.56,919.46 Q475.42,920.26 475.16,921.45 Q474.90,922.65 473.93,923.32 Q472.95,924.00 471.83,923.73 Q470.71,923.47 469.76,922.64 Q468.80,921.81 469.06,920.50 Z" fill="#e42646" opacity="0.30"/>
<path d="M448.23,931.38 Q447.65,930.88 447.31,930.27 Q446.98,929.66 447.39,928.99 Q447.80,928.31 448.79,928.00 Q449.79,927.68 450.64,928.23 Q451.48,928.77 451.83,929.60 Q452.18,930.43 451.43,931.05 Q450.68,931.67 449.75,931.77 Q448.81,931.88 448.23,931.38 Z" fill="#e42646" opacity="0.20"/>
<path d="M433.95,941.88 Q433.66,943.17 432.77,942.96 Q431.88,942.75 431.25,942.19 Q430.62,941.63 430.53,940.54 Q430.44,939.46 430.77,938.45 Q431.11,937.44 431.92,936.94 Q432.72,936.44 433.36,937.35 Q433.99,938.26 434.11,939.43 Q434.24,940.60 433.95,941.88 Z" fill="#e42646" opacity="0.20"/>
<path d="M387.92,874.95 Q389.09,874.54 390.31,874.50 Q391.53,874.45 391.58,875.53 Q391.62,876.61 392.26,877.66 Q392.89,878.71 391.69,879.24 Q390.49,879.76 389.11,879.83 Q387.73,879.89 387.00,878.81 Q386.28,877.72 386.51,876.54 Q386.75,875.37 387.92,874.95 Z" fill="#3ed23a" opacity="1.00"/>
<path d="M431.28,871.78 Q431.65,873.18 430.46,873.97 Q429.28,874.77 428.28,873.89 Q427.27,873.02 426.43,872.15 Q425.59,871.29 425.60,869.70 Q425.61,868.12 426.94,867.62 Q428.27,867.13 429.30,867.73 Q430.33,868.32 430.62,869.35 Q430.92,870.38 431.28,871.78 Z" fill="#3ed23a" opacity="0.90"/>
<path d="M397.04,910.05 Q397.04,911.33 396.47,912.12 Q395.90,912.90 395.02,914.03 Q394.13,915.15 392.78,914.45 Q391.43,913.75 391.05,912.45 Q390.68,911.15 391.17,909.91 Q391.67,908.67 393.01,908.32 Q394.35,907.97 395.70,908.37 Q397.04,908.78 397.04,910.05 Z" fill="#3ed23a" opacity="1.00"/>
<path d="M443.70,911.63 Q443.28,912.91 442.27,913.61 Q441.27,914.30 440.01,914.24 Q438.75,914.17 438.27,913.05 Q437.79,911.93 437.77,910.76 Q437.74,909.60 438.84,909.33 Q439.95,909.06 440.97,908.91 Q442.00,908.75 443.06,909.54 Q444.13,910.34 443.70,911.63 Z" fill="#3ed23a" opacity="1.00"/>
<path d="M471.67,907.99 Q471.44,906.67 471.46,905.51 Q471.48,904.35 472.58,903.65 Q473.69,902.95 475.20,903.00 Q476.70,903.05 477.10,904.41 Q477.49,905.76 477.81,907.33 Q478.13,908.91 476.49,909.35 Q474.85,909.79 473.38,909.55 Q471.90,909.31 471.67,907.99 Z" fill="#3ed23a" opacity="1.00"/>
<path d="M471.19,902.77 Q472.16,903.74 471.10,904.62 Q470.04,905.51 469.03,905.85 Q468.01,906.18 466.95,905.88 Q465.90,905.58 465.34,904.67 Q464.77,903.76 465.06,902.61 Q465.35,901.47 466.67,901.42 Q467.99,901.37 469.11,901.59 Q470.22,901.81 471.19,902.77 Z" fill="#3ed23a" opacity="0.80"/>
<path d="M467.30,879.11 Q466.66,878.77 466.17,878.10 Q465.68,877.43 466.07,876.65 Q466.45,875.86 467.24,876.09 Q468.03,876.31 468.72,876.24 Q469.42,876.16 469.61,876.86 Q469.81,877.55 469.57,878.23 Q469.33,878.91 468.64,879.18 Q467.94,879.46 467.30,879.11 Z" fill="#3ed23a" opacity="0.70"/>
<path d="M379.34,867.22 Q379.68,867.72 379.30,868.21 Q378.92,868.70 378.34,869.04 Q377.75,869.38 377.15,869.00 Q376.55,868.61 376.79,867.99 Q377.04,867.37 376.96,866.71 Q376.89,866.05 377.55,865.99 Q378.21,865.92 378.61,866.32 Q379.01,866.73 379.34,867.22 Z" fill="#3ed23a" opacity="0.60"/>
<path d="M386.68,896.37 Q386.35,896.61 385.91,896.53 Q385.46,896.45 385.23,896.03 Q385.00,895.62 385.25,895.25 Q385.50,894.87 385.83,894.68 Q386.16,894.49 386.60,894.52 Q387.04,894.54 387.18,894.97 Q387.31,895.40 387.16,895.76 Q387.01,896.13 386.68,896.37 Z" fill="#3ed23a" opacity="0.50"/>
<path d="M476.35,862.45 Q476.32,862.90 476.01,863.21 Q475.71,863.51 475.30,863.46 Q474.90,863.42 474.60,863.17 Q474.30,862.93 474.41,862.58 Q474.52,862.23 474.65,861.85 Q474.78,861.47 475.24,861.39 Q475.70,861.30 476.04,861.65 Q476.37,861.99 476.35,862.45 Z" fill="#3ed23a" opacity="0.50"/>
<path d="M382.05,857.96 Q381.64,857.93 381.39,857.58 Q381.13,857.23 381.20,856.80 Q381.28,856.36 381.63,856.02 Q381.97,855.67 382.51,855.74 Q383.04,855.80 383.18,856.29 Q383.32,856.78 383.27,857.21 Q383.22,857.63 382.84,857.81 Q382.45,857.98 382.05,857.96 Z" fill="#3ed23a" opacity="0.50"/>
<path d="M438.09,896.26 Q438.38,896.16 438.83,896.20 Q439.29,896.25 439.31,896.71 Q439.33,897.17 439.12,897.54 Q438.90,897.90 438.49,898.01 Q438.07,898.12 437.79,897.83 Q437.50,897.54 437.28,897.18 Q437.05,896.81 437.42,896.59 Q437.79,896.36 438.09,896.26 Z" fill="#3ed23a" opacity="0.30"/>
<path d="M414.59,940.75 Q414.68,942.10 413.55,942.73 Q412.42,943.36 411.44,942.86 Q410.46,942.37 409.80,941.64 Q409.14,940.90 409.26,939.84 Q409.38,938.77 410.04,937.54 Q410.70,936.30 411.91,936.90 Q413.13,937.50 413.82,938.45 Q414.50,939.40 414.59,940.75 Z" fill="#3ed23a" opacity="0.90"/>
<path d="M429.02,948.04 Q429.63,948.60 429.44,949.38 Q429.26,950.16 428.75,950.69 Q428.25,951.22 427.58,951.03 Q426.91,950.84 426.34,950.46 Q425.77,950.08 426.06,949.47 Q426.34,948.86 426.59,948.19 Q426.83,947.52 427.62,947.49 Q428.41,947.47 429.02,948.04 Z" fill="#3ed23a" opacity="0.70"/>
<path d="M440.27,936.15 Q441.07,935.72 441.86,935.78 Q442.65,935.85 443.02,936.49 Q443.38,937.14 443.76,938.00 Q444.13,938.86 443.27,939.23 Q442.40,939.59 441.69,939.44 Q440.97,939.30 440.36,938.84 Q439.75,938.39 439.61,937.49 Q439.47,936.59 440.27,936.15 Z" fill="#3ed23a" opacity="0.45"/>
</g>
<line x1="468.25" y1="956.0" x2="478.75" y2="956.0" stroke="#e0e0e0" stroke-width="2.0"/>
<clipPath id="mc10"><rect x="46.25" y="965" width="105.75" height="106.5"/></clipPath>
<rect x="46.25" y="965" width="105.75" height="106.5" fill="#0c0203" stroke="none" stroke-width="0"/>
<g clip-path="url(#mc10)" filter="url(#cb)">
<path d="M85.60,969.96 Q86.44,968.69 87.98,968.53 Q89.53,968.38 90.77,969.17 Q92.01,969.96 92.36,971.36 Q92.71,972.76 92.04,974.26 Q91.38,975.76 89.59,976.10 Q87.80,976.44 86.38,975.41 Q84.96,974.37 84.86,972.80 Q84.75,971.23 85.60,969.96 Z" fill="#e81c1c" opacity="0.90"/>
<path d="M95.27,975.78 Q96.29,976.71 97.45,977.59 Q98.61,978.48 97.93,979.82 Q97.25,981.17 95.98,981.49 Q94.70,981.81 93.48,981.56 Q92.26,981.30 91.72,980.14 Q91.18,978.97 91.36,977.56 Q91.53,976.15 92.89,975.50 Q94.24,974.85 95.27,975.78 Z" fill="#e81c1c" opacity="0.75"/>
<path d="M127.37,968.69 Q128.43,969.73 127.62,970.98 Q126.80,972.24 125.64,972.91 Q124.48,973.57 123.40,972.89 Q122.31,972.21 121.66,971.21 Q121.01,970.21 121.38,969.01 Q121.75,967.80 122.87,966.95 Q124.00,966.10 125.15,966.88 Q126.31,967.66 127.37,968.69 Z" fill="#e81c1c" opacity="0.75"/>
<path d="M128.49,988.83 Q127.25,989.39 126.11,988.85 Q124.98,988.30 124.45,987.04 Q123.93,985.78 124.13,984.28 Q124.32,982.78 125.57,982.68 Q126.81,982.58 127.66,983.00 Q128.50,983.42 129.46,984.31 Q130.42,985.19 130.07,986.73 Q129.72,988.27 128.49,988.83 Z" fill="#e81c1c" opacity="0.60"/>
<path d="M91.87,997.84 Q91.10,996.12 91.92,994.07 Q92.74,992.03 94.88,992.27 Q97.02,992.52 99.25,992.91 Q101.48,993.30 101.99,995.69 Q102.51,998.07 100.90,999.68 Q99.29,1001.29 97.35,1001.61 Q95.41,1001.92 94.02,1000.74 Q92.63,999.56 91.87,997.84 Z" fill="#e81c1c" opacity="1.00"/>
<path d="M93.37,1008.71 Q94.83,1009.49 95.88,1010.71 Q96.94,1011.93 96.72,1013.76 Q96.50,1015.59 94.79,1016.35 Q93.09,1017.11 91.81,1016.08 Q90.54,1015.04 89.90,1013.98 Q89.26,1012.91 88.87,1011.15 Q88.47,1009.39 90.20,1008.66 Q91.92,1007.94 93.37,1008.71 Z" fill="#e81c1c" opacity="1.00"/>
<path d="M116.17,1022.89 Q114.26,1021.67 115.72,1020.00 Q117.17,1018.34 118.79,1017.55 Q120.42,1016.76 121.91,1017.59 Q123.39,1018.42 124.79,1019.66 Q126.18,1020.90 124.84,1022.20 Q123.50,1023.49 122.28,1024.39 Q121.05,1025.29 119.57,1024.70 Q118.09,1024.10 116.17,1022.89 Z" fill="#e81c1c" opacity="1.00"/>
<path d="M121.23,1015.15 Q120.36,1014.80 119.57,1014.32 Q118.78,1013.84 118.76,1012.80 Q118.74,1011.76 119.56,1011.10 Q120.38,1010.43 121.32,1010.69 Q122.26,1010.95 123.01,1011.55 Q123.76,1012.15 123.52,1013.07 Q123.27,1014.00 122.68,1014.75 Q122.10,1015.50 121.23,1015.15 Z" fill="#e81c1c" opacity="0.90"/>
<path d="M77.91,1029.72 Q77.14,1028.70 76.99,1027.38 Q76.84,1026.06 77.66,1024.76 Q78.48,1023.45 80.16,1023.23 Q81.83,1023.00 82.80,1024.46 Q83.78,1025.91 82.92,1027.17 Q82.06,1028.44 81.73,1029.84 Q81.41,1031.24 80.05,1030.98 Q78.69,1030.73 77.91,1029.72 Z" fill="#e81c1c" opacity="1.00"/>
<path d="M102.08,1030.61 Q102.33,1029.16 103.34,1028.39 Q104.36,1027.62 105.64,1027.66 Q106.92,1027.70 107.68,1029.04 Q108.44,1030.38 107.98,1031.80 Q107.53,1033.23 106.56,1033.93 Q105.60,1034.62 104.20,1034.96 Q102.81,1035.29 102.32,1033.67 Q101.84,1032.05 102.08,1030.61 Z" fill="#e81c1c" opacity="1.00"/>
<path d="M133.24,1000.68 Q132.16,999.62 132.11,997.83 Q132.05,996.03 133.68,995.20 Q135.31,994.37 137.13,994.48 Q138.94,994.59 139.29,996.31 Q139.64,998.02 139.55,999.43 Q139.46,1000.83 138.40,1002.37 Q137.35,1003.90 135.84,1002.82 Q134.32,1001.73 133.24,1000.68 Z" fill="#e81c1c" opacity="0.70"/>
<path d="M147.27,997.19 Q148.68,996.21 149.56,997.77 Q150.43,999.34 151.37,1000.99 Q152.31,1002.64 151.08,1004.17 Q149.85,1005.69 148.29,1005.13 Q146.73,1004.56 145.92,1003.68 Q145.10,1002.81 144.35,1001.47 Q143.60,1000.12 144.73,999.14 Q145.87,998.16 147.27,997.19 Z" fill="#e81c1c" opacity="0.80"/>
<path d="M50.13,969.19 Q51.51,968.96 52.07,970.20 Q52.63,971.44 52.96,972.67 Q53.28,973.90 52.32,974.88 Q51.36,975.86 50.13,975.46 Q48.91,975.06 47.93,974.39 Q46.96,973.73 47.10,972.53 Q47.25,971.33 48.00,970.37 Q48.76,969.42 50.13,969.19 Z" fill="#e81c1c" opacity="0.60"/>
<path d="M65.90,979.53 Q65.89,978.81 66.53,978.25 Q67.16,977.69 67.96,977.99 Q68.77,978.29 69.29,978.97 Q69.81,979.66 69.51,980.46 Q69.21,981.26 68.50,981.61 Q67.79,981.95 67.22,981.56 Q66.64,981.16 66.27,980.70 Q65.90,980.24 65.90,979.53 Z" fill="#e81c1c" opacity="0.50"/>
<path d="M74.56,970.97 Q75.57,971.39 75.38,972.44 Q75.19,973.50 74.58,974.02 Q73.97,974.55 73.28,974.68 Q72.59,974.82 71.80,974.53 Q71.02,974.25 71.03,973.40 Q71.04,972.55 71.47,971.91 Q71.90,971.26 72.73,970.90 Q73.56,970.55 74.56,970.97 Z" fill="#e81c1c" opacity="0.40"/>
<path d="M102.89,1055.61 Q103.57,1054.53 104.56,1054.29 Q105.55,1054.06 106.66,1054.57 Q107.77,1055.09 107.97,1056.75 Q108.17,1058.41 107.32,1059.50 Q106.48,1060.58 105.41,1061.11 Q104.34,1061.64 103.64,1060.47 Q102.93,1059.30 102.57,1058.00 Q102.21,1056.70 102.89,1055.61 Z" fill="#e81c1c" opacity="0.90"/>
<path d="M114.93,1059.42 Q114.14,1057.84 115.61,1056.95 Q117.08,1056.06 117.76,1054.70 Q118.45,1053.35 119.77,1054.07 Q121.10,1054.78 122.05,1055.99 Q123.00,1057.19 122.49,1058.74 Q121.98,1060.29 120.55,1061.40 Q119.12,1062.50 117.42,1061.75 Q115.73,1061.00 114.93,1059.42 Z" fill="#e81c1c" opacity="0.85"/>
<path d="M93.09,1061.06 Q92.81,1060.18 92.88,1059.23 Q92.95,1058.27 93.90,1058.20 Q94.84,1058.12 95.63,1058.22 Q96.43,1058.31 96.59,1059.08 Q96.75,1059.85 96.89,1060.78 Q97.02,1061.71 96.08,1061.74 Q95.15,1061.77 94.26,1061.85 Q93.36,1061.93 93.09,1061.06 Z" fill="#e81c1c" opacity="0.50"/>
<path d="M63.23,1019.15 Q63.77,1019.52 63.40,1020.05 Q63.03,1020.59 62.73,1021.09 Q62.43,1021.59 61.78,1021.56 Q61.13,1021.54 60.82,1020.97 Q60.51,1020.41 60.68,1019.88 Q60.85,1019.34 61.28,1019.15 Q61.72,1018.96 62.20,1018.88 Q62.69,1018.79 63.23,1019.15 Z" fill="#e81c1c" opacity="0.40"/>
<path d="M49.45,1008.49 Q49.44,1009.15 48.80,1009.29 Q48.16,1009.43 47.61,1009.30 Q47.07,1009.17 46.86,1008.66 Q46.65,1008.15 46.78,1007.64 Q46.91,1007.13 47.37,1006.76 Q47.82,1006.38 48.49,1006.47 Q49.15,1006.56 49.31,1007.20 Q49.46,1007.84 49.45,1008.49 Z" fill="#e81c1c" opacity="0.40"/>
<path d="M148.79,983.54 Q149.34,983.97 149.55,984.60 Q149.77,985.23 149.60,986.05 Q149.44,986.87 148.56,987.16 Q147.69,987.45 147.25,986.69 Q146.81,985.92 146.46,985.34 Q146.11,984.76 146.55,984.23 Q147.00,983.70 147.62,983.40 Q148.24,983.11 148.79,983.54 Z" fill="#e81c1c" opacity="0.35"/>
</g>
<line x1="138.5" y1="1067.0" x2="149.0" y2="1067.0" stroke="#e0e0e0" stroke-width="2.0"/>
<clipPath id="mc11"><rect x="156.25" y="965" width="105.75" height="106.5"/></clipPath>
<rect x="156.25" y="965" width="105.75" height="106.5" fill="#020402" stroke="none" stroke-width="0"/>
<g clip-path="url(#mc11)" filter="url(#cb)">
<path d="M180.54,981.69 Q180.18,983.18 178.73,983.66 Q177.28,984.14 176.29,983.11 Q175.31,982.09 174.71,980.94 Q174.11,979.80 174.95,978.89 Q175.79,977.97 176.75,976.97 Q177.71,975.97 178.91,976.75 Q180.10,977.52 180.50,978.86 Q180.89,980.20 180.54,981.69 Z" fill="#3ed23a" opacity="1.00"/>
<path d="M205.40,981.02 Q204.32,981.08 203.55,980.49 Q202.78,979.90 202.53,979.02 Q202.28,978.13 202.87,977.29 Q203.46,976.45 204.58,976.40 Q205.70,976.36 206.45,976.98 Q207.20,977.61 207.31,978.45 Q207.42,979.30 206.95,980.13 Q206.48,980.96 205.40,981.02 Z" fill="#3ed23a" opacity="0.80"/>
<path d="M247.23,972.56 Q245.99,972.21 245.13,971.32 Q244.26,970.42 244.39,969.13 Q244.53,967.84 245.42,966.58 Q246.31,965.32 247.58,966.20 Q248.85,967.07 249.26,967.98 Q249.66,968.88 249.92,969.94 Q250.19,970.99 249.33,971.95 Q248.47,972.90 247.23,972.56 Z" fill="#3ed23a" opacity="1.00"/>
<path d="M203.42,997.01 Q202.83,995.88 203.92,995.22 Q205.01,994.55 206.18,994.08 Q207.36,993.61 208.13,994.63 Q208.90,995.65 209.22,996.86 Q209.54,998.07 208.65,999.02 Q207.76,999.96 206.66,999.52 Q205.57,999.08 204.79,998.61 Q204.01,998.14 203.42,997.01 Z" fill="#3ed23a" opacity="1.00"/>
<path d="M245.06,994.49 Q245.80,993.37 246.96,993.63 Q248.12,993.88 248.96,994.78 Q249.79,995.67 249.90,997.12 Q250.02,998.57 249.11,999.60 Q248.20,1000.63 246.85,1000.89 Q245.51,1001.14 244.95,999.69 Q244.39,998.24 244.35,996.92 Q244.31,995.60 245.06,994.49 Z" fill="#3ed23a" opacity="1.00"/>
<path d="M236.42,984.12 Q237.30,983.70 237.78,984.55 Q238.27,985.41 238.12,986.18 Q237.98,986.96 237.58,987.73 Q237.19,988.50 236.31,988.38 Q235.43,988.25 234.55,987.79 Q233.67,987.33 233.56,986.22 Q233.46,985.11 234.50,984.82 Q235.54,984.54 236.42,984.12 Z" fill="#3ed23a" opacity="0.60"/>
<path d="M227.47,987.38 Q227.98,987.98 228.23,988.65 Q228.48,989.31 227.88,989.83 Q227.27,990.34 226.56,990.10 Q225.85,989.85 225.06,989.74 Q224.27,989.63 224.13,988.91 Q223.99,988.18 224.72,987.84 Q225.45,987.50 226.21,987.14 Q226.97,986.78 227.47,987.38 Z" fill="#3ed23a" opacity="0.70"/>
<path d="M188.89,1010.74 Q188.62,1009.37 189.33,1008.37 Q190.04,1007.38 191.10,1006.27 Q192.17,1005.17 193.55,1005.98 Q194.94,1006.79 195.42,1008.22 Q195.90,1009.65 195.09,1010.81 Q194.28,1011.97 193.07,1012.43 Q191.87,1012.89 190.52,1012.50 Q189.16,1012.12 188.89,1010.74 Z" fill="#3ed23a" opacity="1.00"/>
<path d="M187.94,1030.33 Q186.65,1029.87 186.05,1028.41 Q185.44,1026.96 186.19,1025.65 Q186.94,1024.35 188.11,1023.62 Q189.28,1022.90 190.48,1023.61 Q191.67,1024.33 191.83,1025.68 Q191.99,1027.03 192.19,1028.81 Q192.38,1030.59 190.80,1030.70 Q189.22,1030.80 187.94,1030.33 Z" fill="#3ed23a" opacity="1.00"/>
<path d="M229.66,1017.54 Q231.27,1017.08 232.64,1017.81 Q234.00,1018.53 234.62,1019.90 Q235.24,1021.27 235.16,1023.19 Q235.08,1025.12 233.15,1025.69 Q231.22,1026.26 229.61,1025.37 Q227.99,1024.47 226.97,1022.85 Q225.95,1021.22 226.99,1019.61 Q228.04,1018.01 229.66,1017.54 Z" fill="#3ed23a" opacity="1.00"/>
<path d="M245.17,1020.76 Q244.49,1019.11 245.73,1017.59 Q246.97,1016.07 248.79,1016.45 Q250.60,1016.83 251.79,1017.88 Q252.97,1018.94 253.57,1020.69 Q254.16,1022.44 253.02,1024.29 Q251.87,1026.14 249.78,1025.70 Q247.69,1025.27 246.77,1023.84 Q245.84,1022.41 245.17,1020.76 Z" fill="#3ed23a" opacity="1.00"/>
<path d="M249.81,1060.31 Q248.98,1059.03 248.92,1057.67 Q248.86,1056.32 249.91,1055.76 Q250.97,1055.20 252.22,1054.13 Q253.48,1053.06 254.38,1054.45 Q255.28,1055.83 254.92,1057.15 Q254.55,1058.46 253.75,1059.05 Q252.96,1059.64 251.80,1060.62 Q250.63,1061.60 249.81,1060.31 Z" fill="#3ed23a" opacity="1.00"/>
<path d="M191.16,1065.11 Q191.84,1065.75 191.94,1066.57 Q192.04,1067.39 191.68,1068.16 Q191.32,1068.94 190.39,1069.36 Q189.47,1069.78 188.50,1069.23 Q187.53,1068.67 187.31,1067.56 Q187.09,1066.44 187.72,1065.51 Q188.36,1064.58 189.42,1064.52 Q190.48,1064.47 191.16,1065.11 Z" fill="#3ed23a" opacity="1.00"/>
<path d="M223.07,1056.49 Q223.12,1055.68 223.43,1054.79 Q223.75,1053.91 224.65,1054.16 Q225.56,1054.41 226.30,1054.79 Q227.03,1055.17 226.81,1055.95 Q226.58,1056.73 226.36,1057.55 Q226.13,1058.37 225.25,1058.34 Q224.37,1058.31 223.70,1057.81 Q223.02,1057.30 223.07,1056.49 Z" fill="#3ed23a" opacity="0.60"/>
<path d="M218.32,1059.60 Q217.36,1059.70 216.58,1059.35 Q215.80,1059.00 215.50,1058.18 Q215.20,1057.36 215.73,1056.73 Q216.26,1056.09 216.95,1055.67 Q217.64,1055.25 218.38,1055.66 Q219.12,1056.07 219.16,1056.84 Q219.20,1057.61 219.24,1058.55 Q219.27,1059.50 218.32,1059.60 Z" fill="#3ed23a" opacity="0.60"/>
<path d="M172.04,972.62 Q172.60,972.81 172.87,973.22 Q173.15,973.62 173.16,974.10 Q173.17,974.59 172.79,974.94 Q172.42,975.29 171.91,975.24 Q171.40,975.19 171.02,974.82 Q170.64,974.45 170.92,974.02 Q171.20,973.60 171.34,973.01 Q171.48,972.42 172.04,972.62 Z" fill="#3ed23a" opacity="0.60"/>
<path d="M219.14,1003.43 Q218.92,1003.88 218.48,1004.05 Q218.03,1004.22 217.63,1004.01 Q217.23,1003.81 217.13,1003.41 Q217.04,1003.02 217.01,1002.53 Q216.99,1002.03 217.48,1001.73 Q217.96,1001.42 218.38,1001.80 Q218.79,1002.17 219.07,1002.57 Q219.35,1002.97 219.14,1003.43 Z" fill="#3ed23a" opacity="0.60"/>
<path d="M244.63,984.14 Q244.95,983.90 245.39,983.99 Q245.84,984.07 245.96,984.51 Q246.07,984.95 246.07,985.46 Q246.07,985.97 245.56,986.12 Q245.06,986.26 244.70,985.99 Q244.35,985.72 243.90,985.40 Q243.44,985.08 243.88,984.73 Q244.32,984.39 244.63,984.14 Z" fill="#3ed23a" opacity="0.60"/>
<path d="M164.06,1019.27 Q164.41,1018.92 164.87,1018.89 Q165.34,1018.87 165.74,1019.12 Q166.15,1019.37 165.99,1019.81 Q165.82,1020.24 165.65,1020.57 Q165.49,1020.89 165.08,1021.01 Q164.67,1021.13 164.34,1020.83 Q164.02,1020.53 163.87,1020.08 Q163.72,1019.62 164.06,1019.27 Z" fill="#3ed23a" opacity="0.50"/>
<path d="M229.90,1007.56 Q230.50,1007.70 230.85,1008.08 Q231.20,1008.47 231.43,1009.05 Q231.66,1009.64 231.11,1009.95 Q230.56,1010.26 230.00,1010.37 Q229.44,1010.47 229.12,1010.00 Q228.81,1009.53 228.58,1008.95 Q228.36,1008.37 228.83,1007.90 Q229.30,1007.43 229.90,1007.56 Z" fill="#3ed23a" opacity="0.60"/>
</g>
<line x1="248.5" y1="1067.0" x2="259.0" y2="1067.0" stroke="#e0e0e0" stroke-width="2.0"/>
<clipPath id="mc12"><rect x="266.25" y="965" width="105.5" height="106.5"/></clipPath>
<rect x="266.25" y="965" width="105.5" height="106.5" fill="#02030a" stroke="none" stroke-width="0"/>
<g clip-path="url(#mc12)" filter="url(#cb)">
<ellipse cx="294.33" cy="997.19" rx="2.52" ry="1.20" transform="rotate(12 294.33 997.19)" fill="#2850d0" opacity="0.49"/>
<ellipse cx="286.70" cy="971.76" rx="1.71" ry="1.82" transform="rotate(7 286.70 971.76)" fill="#2850d0" opacity="0.27"/>
<ellipse cx="312.03" cy="1035.94" rx="1.93" ry="1.80" transform="rotate(56 312.03 1035.94)" fill="#2850d0" opacity="0.48"/>
<ellipse cx="307.78" cy="985.57" rx="1.82" ry="1.66" transform="rotate(47 307.78 985.57)" fill="#2850d0" opacity="0.51"/>
<ellipse cx="300.18" cy="1062.58" rx="2.01" ry="1.86" transform="rotate(-47 300.18 1062.58)" fill="#2850d0" opacity="0.25"/>
<ellipse cx="288.15" cy="1058.42" rx="2.32" ry="2.03" transform="rotate(17 288.15 1058.42)" fill="#2850d0" opacity="0.37"/>
<ellipse cx="320.72" cy="1028.01" rx="2.59" ry="1.58" transform="rotate(47 320.72 1028.01)" fill="#2850d0" opacity="0.45"/>
<ellipse cx="353.09" cy="1018.05" rx="2.34" ry="1.47" transform="rotate(3 353.09 1018.05)" fill="#2850d0" opacity="0.29"/>
<ellipse cx="277.67" cy="970.03" rx="2.35" ry="1.60" transform="rotate(48 277.67 970.03)" fill="#2850d0" opacity="0.54"/>
<ellipse cx="307.11" cy="1067.75" rx="2.19" ry="1.94" transform="rotate(-11 307.11 1067.75)" fill="#2850d0" opacity="0.29"/>
<ellipse cx="285.03" cy="984.94" rx="2.21" ry="1.22" transform="rotate(-58 285.03 984.94)" fill="#2850d0" opacity="0.53"/>
<ellipse cx="277.54" cy="1013.09" rx="2.03" ry="1.78" transform="rotate(0 277.54 1013.09)" fill="#2850d0" opacity="0.58"/>
<ellipse cx="344.92" cy="1026.03" rx="2.23" ry="1.66" transform="rotate(56 344.92 1026.03)" fill="#2850d0" opacity="0.30"/>
<ellipse cx="338.56" cy="1024.01" rx="1.36" ry="1.43" transform="rotate(51 338.56 1024.01)" fill="#2850d0" opacity="0.52"/>
<ellipse cx="268.58" cy="997.00" rx="1.31" ry="2.01" transform="rotate(-47 268.58 997.00)" fill="#2850d0" opacity="0.23"/>
<ellipse cx="368.87" cy="1012.59" rx="1.78" ry="1.15" transform="rotate(-13 368.87 1012.59)" fill="#2850d0" opacity="0.35"/>
<ellipse cx="321.43" cy="966.71" rx="1.52" ry="1.33" transform="rotate(-7 321.43 966.71)" fill="#2850d0" opacity="0.33"/>
<ellipse cx="330.73" cy="995.83" rx="2.66" ry="2.16" transform="rotate(-53 330.73 995.83)" fill="#2850d0" opacity="0.29"/>
<ellipse cx="325.52" cy="1046.53" rx="1.40" ry="1.30" transform="rotate(-5 325.52 1046.53)" fill="#2850d0" opacity="0.47"/>
<ellipse cx="360.74" cy="1056.60" rx="2.49" ry="1.16" transform="rotate(57 360.74 1056.60)" fill="#2850d0" opacity="0.45"/>
<ellipse cx="276.16" cy="992.64" rx="2.23" ry="1.52" transform="rotate(-6 276.16 992.64)" fill="#2850d0" opacity="0.52"/>
<ellipse cx="352.54" cy="1023.14" rx="2.49" ry="1.55" transform="rotate(57 352.54 1023.14)" fill="#2850d0" opacity="0.45"/>
<ellipse cx="367.41" cy="970.60" rx="2.62" ry="1.72" transform="rotate(26 367.41 970.60)" fill="#2850d0" opacity="0.29"/>
<ellipse cx="324.04" cy="996.23" rx="1.46" ry="1.10" transform="rotate(49 324.04 996.23)" fill="#2850d0" opacity="0.47"/>
<ellipse cx="288.47" cy="992.94" rx="2.00" ry="2.00" transform="rotate(-46 288.47 992.94)" fill="#2850d0" opacity="0.59"/>
<ellipse cx="364.94" cy="991.57" rx="2.26" ry="1.50" transform="rotate(24 364.94 991.57)" fill="#2850d0" opacity="0.24"/>
<ellipse cx="315.89" cy="1027.50" rx="2.24" ry="1.86" transform="rotate(47 315.89 1027.50)" fill="#2850d0" opacity="0.30"/>
<ellipse cx="283.11" cy="1006.82" rx="2.15" ry="2.16" transform="rotate(25 283.11 1006.82)" fill="#2850d0" opacity="0.50"/>
<ellipse cx="367.93" cy="993.98" rx="1.69" ry="1.56" transform="rotate(-25 367.93 993.98)" fill="#2850d0" opacity="0.46"/>
<ellipse cx="365.75" cy="982.04" rx="2.08" ry="1.85" transform="rotate(-1 365.75 982.04)" fill="#2850d0" opacity="0.57"/>
<ellipse cx="343.52" cy="1058.19" rx="1.47" ry="1.32" transform="rotate(-52 343.52 1058.19)" fill="#2850d0" opacity="0.53"/>
<ellipse cx="366.90" cy="967.46" rx="2.48" ry="1.90" transform="rotate(49 366.90 967.46)" fill="#2850d0" opacity="0.32"/>
<ellipse cx="341.23" cy="990.81" rx="1.41" ry="1.92" transform="rotate(-55 341.23 990.81)" fill="#2850d0" opacity="0.48"/>
<ellipse cx="296.59" cy="1016.94" rx="2.64" ry="1.37" transform="rotate(-4 296.59 1016.94)" fill="#2850d0" opacity="0.35"/>
<ellipse cx="286.95" cy="1015.50" rx="1.57" ry="1.98" transform="rotate(14 286.95 1015.50)" fill="#2850d0" opacity="0.32"/>
<ellipse cx="367.97" cy="1002.08" rx="2.31" ry="1.91" transform="rotate(-28 367.97 1002.08)" fill="#2850d0" opacity="0.21"/>
<ellipse cx="359.64" cy="1065.95" rx="1.56" ry="1.27" transform="rotate(-8 359.64 1065.95)" fill="#2850d0" opacity="0.44"/>
<ellipse cx="369.61" cy="1066.69" rx="2.78" ry="1.37" transform="rotate(12 369.61 1066.69)" fill="#2850d0" opacity="0.38"/>
<ellipse cx="291.20" cy="972.83" rx="1.55" ry="1.49" transform="rotate(-49 291.20 972.83)" fill="#2850d0" opacity="0.27"/>
<ellipse cx="271.87" cy="1031.09" rx="2.04" ry="1.37" transform="rotate(3 271.87 1031.09)" fill="#2850d0" opacity="0.38"/>
<ellipse cx="335.47" cy="1063.46" rx="1.83" ry="1.81" transform="rotate(-34 335.47 1063.46)" fill="#2850d0" opacity="0.58"/>
<ellipse cx="331.18" cy="982.59" rx="1.69" ry="1.28" transform="rotate(-39 331.18 982.59)" fill="#2850d0" opacity="0.33"/>
<ellipse cx="352.44" cy="1013.76" rx="1.72" ry="1.56" transform="rotate(-28 352.44 1013.76)" fill="#2850d0" opacity="0.50"/>
<ellipse cx="273.33" cy="996.22" rx="1.78" ry="1.30" transform="rotate(29 273.33 996.22)" fill="#2850d0" opacity="0.28"/>
<ellipse cx="298.35" cy="971.90" rx="2.43" ry="1.50" transform="rotate(19 298.35 971.90)" fill="#2850d0" opacity="0.29"/>
<ellipse cx="269.51" cy="999.69" rx="2.47" ry="2.02" transform="rotate(-18 269.51 999.69)" fill="#2850d0" opacity="0.54"/>
<ellipse cx="272.46" cy="1020.56" rx="1.69" ry="1.58" transform="rotate(-33 272.46 1020.56)" fill="#2850d0" opacity="0.56"/>
<ellipse cx="298.53" cy="1064.78" rx="1.46" ry="1.57" transform="rotate(-7 298.53 1064.78)" fill="#2850d0" opacity="0.49"/>
<ellipse cx="302.96" cy="1017.47" rx="1.41" ry="1.44" transform="rotate(27 302.96 1017.47)" fill="#2850d0" opacity="0.25"/>
<ellipse cx="315.12" cy="990.74" rx="1.55" ry="1.23" transform="rotate(38 315.12 990.74)" fill="#2850d0" opacity="0.48"/>
<ellipse cx="306.52" cy="1006.93" rx="2.39" ry="1.76" transform="rotate(50 306.52 1006.93)" fill="#2850d0" opacity="0.57"/>
<ellipse cx="317.16" cy="1034.88" rx="2.12" ry="1.44" transform="rotate(-6 317.16 1034.88)" fill="#2850d0" opacity="0.49"/>
<ellipse cx="324.45" cy="1032.09" rx="2.03" ry="2.15" transform="rotate(33 324.45 1032.09)" fill="#2850d0" opacity="0.26"/>
<ellipse cx="351.51" cy="1061.89" rx="2.52" ry="1.48" transform="rotate(-16 351.51 1061.89)" fill="#2850d0" opacity="0.30"/>
<ellipse cx="273.02" cy="1015.33" rx="2.58" ry="1.95" transform="rotate(19 273.02 1015.33)" fill="#2850d0" opacity="0.54"/>
<ellipse cx="335.47" cy="989.34" rx="2.50" ry="1.50" transform="rotate(47 335.47 989.34)" fill="#2850d0" opacity="0.34"/>
<ellipse cx="276.76" cy="1042.27" rx="1.46" ry="2.06" transform="rotate(-11 276.76 1042.27)" fill="#2850d0" opacity="0.51"/>
<ellipse cx="272.69" cy="1022.83" rx="2.32" ry="1.24" transform="rotate(13 272.69 1022.83)" fill="#2850d0" opacity="0.27"/>
<ellipse cx="298.71" cy="1004.17" rx="2.23" ry="1.24" transform="rotate(-38 298.71 1004.17)" fill="#2850d0" opacity="0.51"/>
<ellipse cx="341.34" cy="1013.46" rx="1.72" ry="1.86" transform="rotate(-4 341.34 1013.46)" fill="#2850d0" opacity="0.33"/>
<ellipse cx="357.78" cy="987.09" rx="2.51" ry="1.78" transform="rotate(18 357.78 987.09)" fill="#2850d0" opacity="0.48"/>
<ellipse cx="344.70" cy="1058.06" rx="2.68" ry="1.38" transform="rotate(-40 344.70 1058.06)" fill="#2850d0" opacity="0.56"/>
<ellipse cx="288.35" cy="989.20" rx="2.51" ry="2.16" transform="rotate(41 288.35 989.20)" fill="#2850d0" opacity="0.41"/>
<ellipse cx="306.12" cy="1069.30" rx="2.40" ry="1.79" transform="rotate(-59 306.12 1069.30)" fill="#2850d0" opacity="0.29"/>
<ellipse cx="268.65" cy="1060.79" rx="1.65" ry="1.29" transform="rotate(10 268.65 1060.79)" fill="#2850d0" opacity="0.29"/>
<ellipse cx="323.82" cy="1065.25" rx="2.60" ry="1.37" transform="rotate(50 323.82 1065.25)" fill="#2850d0" opacity="0.37"/>
<ellipse cx="321.38" cy="999.96" rx="2.80" ry="1.44" transform="rotate(28 321.38 999.96)" fill="#2850d0" opacity="0.45"/>
<ellipse cx="338.55" cy="976.87" rx="2.11" ry="2.20" transform="rotate(8 338.55 976.87)" fill="#2850d0" opacity="0.29"/>
<ellipse cx="272.69" cy="1000.48" rx="2.42" ry="1.13" transform="rotate(-54 272.69 1000.48)" fill="#2850d0" opacity="0.47"/>
<ellipse cx="358.52" cy="1011.85" rx="2.24" ry="1.38" transform="rotate(-27 358.52 1011.85)" fill="#2850d0" opacity="0.40"/>
<ellipse cx="289.92" cy="1013.43" rx="1.52" ry="2.12" transform="rotate(18 289.92 1013.43)" fill="#2850d0" opacity="0.25"/>
<ellipse cx="287.24" cy="1052.65" rx="1.86" ry="1.39" transform="rotate(-57 287.24 1052.65)" fill="#2850d0" opacity="0.47"/>
<ellipse cx="326.28" cy="1053.82" rx="1.55" ry="1.93" transform="rotate(39 326.28 1053.82)" fill="#2850d0" opacity="0.53"/>
<ellipse cx="344.50" cy="1012.23" rx="1.37" ry="1.81" transform="rotate(-57 344.50 1012.23)" fill="#2850d0" opacity="0.24"/>
<ellipse cx="309.59" cy="978.62" rx="1.98" ry="2.04" transform="rotate(-39 309.59 978.62)" fill="#2850d0" opacity="0.52"/>
<ellipse cx="370.50" cy="969.90" rx="1.93" ry="1.88" transform="rotate(28 370.50 969.90)" fill="#2850d0" opacity="0.32"/>
<ellipse cx="350.98" cy="1004.80" rx="1.60" ry="1.67" transform="rotate(13 350.98 1004.80)" fill="#2850d0" opacity="0.54"/>
<ellipse cx="335.97" cy="974.69" rx="2.16" ry="1.48" transform="rotate(25 335.97 974.69)" fill="#2850d0" opacity="0.23"/>
<ellipse cx="335.29" cy="1048.72" rx="1.36" ry="1.12" transform="rotate(47 335.29 1048.72)" fill="#2850d0" opacity="0.56"/>
<ellipse cx="285.53" cy="1062.40" rx="1.91" ry="1.67" transform="rotate(-3 285.53 1062.40)" fill="#2850d0" opacity="0.34"/>
<ellipse cx="358.77" cy="1029.81" rx="2.70" ry="1.78" transform="rotate(51 358.77 1029.81)" fill="#2850d0" opacity="0.41"/>
<ellipse cx="316.40" cy="1025.70" rx="1.31" ry="1.94" transform="rotate(-43 316.40 1025.70)" fill="#2850d0" opacity="0.58"/>
<ellipse cx="271.83" cy="1040.01" rx="2.45" ry="1.70" transform="rotate(-49 271.83 1040.01)" fill="#2850d0" opacity="0.53"/>
<ellipse cx="300.50" cy="996.09" rx="2.34" ry="2.17" transform="rotate(-48 300.50 996.09)" fill="#2850d0" opacity="0.38"/>
<ellipse cx="336.94" cy="994.94" rx="2.69" ry="1.76" transform="rotate(-51 336.94 994.94)" fill="#2850d0" opacity="0.27"/>
<ellipse cx="282.08" cy="1013.65" rx="2.67" ry="1.22" transform="rotate(-42 282.08 1013.65)" fill="#2850d0" opacity="0.29"/>
<ellipse cx="326.56" cy="1010.96" rx="1.93" ry="1.26" transform="rotate(39 326.56 1010.96)" fill="#2850d0" opacity="0.40"/>
<ellipse cx="356.85" cy="969.15" rx="1.99" ry="1.51" transform="rotate(41 356.85 969.15)" fill="#2850d0" opacity="0.48"/>
<ellipse cx="321.17" cy="982.85" rx="2.32" ry="2.09" transform="rotate(33 321.17 982.85)" fill="#2850d0" opacity="0.59"/>
<ellipse cx="328.45" cy="998.79" rx="1.63" ry="1.98" transform="rotate(37 328.45 998.79)" fill="#2850d0" opacity="0.46"/>
<ellipse cx="348.19" cy="1016.78" rx="2.58" ry="1.86" transform="rotate(-31 348.19 1016.78)" fill="#2850d0" opacity="0.44"/>
<ellipse cx="335.16" cy="987.20" rx="2.70" ry="1.99" transform="rotate(-43 335.16 987.20)" fill="#2850d0" opacity="0.30"/>
<ellipse cx="267.47" cy="1064.17" rx="1.56" ry="2.02" transform="rotate(1 267.47 1064.17)" fill="#2850d0" opacity="0.23"/>
<ellipse cx="289.13" cy="992.93" rx="2.45" ry="1.50" transform="rotate(-43 289.13 992.93)" fill="#2850d0" opacity="0.58"/>
<ellipse cx="320.50" cy="972.96" rx="2.76" ry="1.84" transform="rotate(-7 320.50 972.96)" fill="#2850d0" opacity="0.27"/>
<ellipse cx="339.01" cy="976.13" rx="2.71" ry="1.93" transform="rotate(26 339.01 976.13)" fill="#2850d0" opacity="0.51"/>
<ellipse cx="356.65" cy="1015.00" rx="2.52" ry="1.22" transform="rotate(24 356.65 1015.00)" fill="#2850d0" opacity="0.50"/>
<ellipse cx="289.13" cy="977.63" rx="2.68" ry="2.08" transform="rotate(-47 289.13 977.63)" fill="#2850d0" opacity="0.44"/>
<ellipse cx="285.96" cy="987.39" rx="2.69" ry="1.83" transform="rotate(31 285.96 987.39)" fill="#2850d0" opacity="0.32"/>
<ellipse cx="347.55" cy="1035.95" rx="1.82" ry="1.65" transform="rotate(-30 347.55 1035.95)" fill="#2850d0" opacity="0.44"/>
<ellipse cx="286.60" cy="1012.89" rx="2.58" ry="1.82" transform="rotate(12 286.60 1012.89)" fill="#2850d0" opacity="0.25"/>
<ellipse cx="352.29" cy="1030.74" rx="2.72" ry="2.13" transform="rotate(52 352.29 1030.74)" fill="#2850d0" opacity="0.42"/>
<ellipse cx="346.91" cy="976.62" rx="1.37" ry="1.96" transform="rotate(21 346.91 976.62)" fill="#2850d0" opacity="0.58"/>
<ellipse cx="298.76" cy="1017.73" rx="2.48" ry="1.77" transform="rotate(42 298.76 1017.73)" fill="#2850d0" opacity="0.36"/>
<ellipse cx="354.72" cy="1056.01" rx="2.65" ry="1.54" transform="rotate(49 354.72 1056.01)" fill="#2850d0" opacity="0.33"/>
<ellipse cx="328.72" cy="1068.40" rx="2.27" ry="1.75" transform="rotate(-17 328.72 1068.40)" fill="#2850d0" opacity="0.41"/>
<ellipse cx="318.03" cy="1036.81" rx="2.11" ry="1.45" transform="rotate(-37 318.03 1036.81)" fill="#2850d0" opacity="0.60"/>
<ellipse cx="331.35" cy="984.09" rx="1.81" ry="1.82" transform="rotate(-31 331.35 984.09)" fill="#2850d0" opacity="0.56"/>
<ellipse cx="323.19" cy="1037.15" rx="2.30" ry="1.28" transform="rotate(52 323.19 1037.15)" fill="#2850d0" opacity="0.54"/>
<ellipse cx="282.36" cy="1025.52" rx="2.09" ry="1.44" transform="rotate(-15 282.36 1025.52)" fill="#2850d0" opacity="0.31"/>
<ellipse cx="332.59" cy="1010.79" rx="1.45" ry="1.35" transform="rotate(-42 332.59 1010.79)" fill="#2850d0" opacity="0.46"/>
<ellipse cx="324.61" cy="1007.02" rx="2.12" ry="1.79" transform="rotate(-34 324.61 1007.02)" fill="#2850d0" opacity="0.23"/>
<ellipse cx="366.83" cy="985.39" rx="1.66" ry="1.87" transform="rotate(58 366.83 985.39)" fill="#2850d0" opacity="0.26"/>
<ellipse cx="308.90" cy="1055.43" rx="1.43" ry="1.38" transform="rotate(14 308.90 1055.43)" fill="#2850d0" opacity="0.53"/>
<ellipse cx="277.87" cy="1009.51" rx="2.19" ry="1.70" transform="rotate(4 277.87 1009.51)" fill="#2850d0" opacity="0.60"/>
<ellipse cx="369.11" cy="987.98" rx="1.68" ry="1.54" transform="rotate(-48 369.11 987.98)" fill="#2850d0" opacity="0.27"/>
<ellipse cx="325.73" cy="1069.14" rx="1.74" ry="1.32" transform="rotate(14 325.73 1069.14)" fill="#2850d0" opacity="0.33"/>
<ellipse cx="268.66" cy="975.79" rx="2.62" ry="1.22" transform="rotate(17 268.66 975.79)" fill="#2850d0" opacity="0.37"/>
<ellipse cx="346.89" cy="1019.20" rx="1.65" ry="1.33" transform="rotate(-32 346.89 1019.20)" fill="#2850d0" opacity="0.30"/>
<ellipse cx="293.21" cy="997.28" rx="2.20" ry="1.68" transform="rotate(-52 293.21 997.28)" fill="#2850d0" opacity="0.37"/>
<ellipse cx="363.50" cy="1064.19" rx="1.78" ry="1.27" transform="rotate(-25 363.50 1064.19)" fill="#2850d0" opacity="0.26"/>
<ellipse cx="294.01" cy="1062.64" rx="2.62" ry="1.60" transform="rotate(6 294.01 1062.64)" fill="#2850d0" opacity="0.48"/>
<ellipse cx="339.84" cy="1038.49" rx="2.40" ry="1.75" transform="rotate(-44 339.84 1038.49)" fill="#2850d0" opacity="0.48"/>
<ellipse cx="336.49" cy="982.97" rx="1.59" ry="1.80" transform="rotate(-14 336.49 982.97)" fill="#2850d0" opacity="0.53"/>
<ellipse cx="295.94" cy="1035.62" rx="2.22" ry="1.22" transform="rotate(-27 295.94 1035.62)" fill="#2850d0" opacity="0.35"/>
<ellipse cx="298.50" cy="975.51" rx="1.65" ry="1.69" transform="rotate(-33 298.50 975.51)" fill="#2850d0" opacity="0.46"/>
<ellipse cx="310.21" cy="1013.69" rx="1.61" ry="1.97" transform="rotate(-51 310.21 1013.69)" fill="#2850d0" opacity="0.58"/>
<ellipse cx="328.25" cy="1064.67" rx="2.12" ry="1.49" transform="rotate(-16 328.25 1064.67)" fill="#2850d0" opacity="0.57"/>
<ellipse cx="321.16" cy="1007.21" rx="1.53" ry="1.27" transform="rotate(-10 321.16 1007.21)" fill="#2850d0" opacity="0.39"/>
<ellipse cx="350.49" cy="978.72" rx="1.98" ry="1.25" transform="rotate(-30 350.49 978.72)" fill="#2850d0" opacity="0.40"/>
<ellipse cx="358.01" cy="979.83" rx="1.56" ry="1.88" transform="rotate(3 358.01 979.83)" fill="#2850d0" opacity="0.24"/>
<ellipse cx="337.73" cy="1066.15" rx="2.41" ry="2.20" transform="rotate(29 337.73 1066.15)" fill="#2850d0" opacity="0.34"/>
<ellipse cx="350.09" cy="1025.34" rx="1.44" ry="1.50" transform="rotate(54 350.09 1025.34)" fill="#2850d0" opacity="0.47"/>
<ellipse cx="305.54" cy="1040.04" rx="2.32" ry="1.27" transform="rotate(-5 305.54 1040.04)" fill="#2850d0" opacity="0.52"/>
<ellipse cx="279.29" cy="1023.23" rx="1.48" ry="1.40" transform="rotate(32 279.29 1023.23)" fill="#2850d0" opacity="0.35"/>
<ellipse cx="352.37" cy="1041.88" rx="2.25" ry="1.27" transform="rotate(-6 352.37 1041.88)" fill="#2850d0" opacity="0.55"/>
<ellipse cx="332.73" cy="973.18" rx="2.05" ry="1.61" transform="rotate(-2 332.73 973.18)" fill="#2850d0" opacity="0.37"/>
<ellipse cx="351.47" cy="1021.62" rx="2.59" ry="2.15" transform="rotate(47 351.47 1021.62)" fill="#2850d0" opacity="0.51"/>
<ellipse cx="269.47" cy="966.19" rx="1.56" ry="1.67" transform="rotate(-24 269.47 966.19)" fill="#2850d0" opacity="0.26"/>
<ellipse cx="363.17" cy="1010.92" rx="1.60" ry="1.66" transform="rotate(58 363.17 1010.92)" fill="#2850d0" opacity="0.49"/>
<ellipse cx="362.95" cy="978.13" rx="2.41" ry="1.47" transform="rotate(-17 362.95 978.13)" fill="#2850d0" opacity="0.39"/>
<ellipse cx="315.15" cy="1048.65" rx="1.74" ry="1.61" transform="rotate(-8 315.15 1048.65)" fill="#2850d0" opacity="0.45"/>
<ellipse cx="325.06" cy="970.95" rx="2.58" ry="1.81" transform="rotate(-42 325.06 970.95)" fill="#2850d0" opacity="0.40"/>
<ellipse cx="360.43" cy="1058.25" rx="1.91" ry="1.36" transform="rotate(54 360.43 1058.25)" fill="#2850d0" opacity="0.50"/>
<ellipse cx="335.90" cy="1008.73" rx="2.60" ry="1.31" transform="rotate(39 335.90 1008.73)" fill="#2850d0" opacity="0.52"/>
<ellipse cx="321.30" cy="1004.03" rx="2.33" ry="1.53" transform="rotate(-10 321.30 1004.03)" fill="#2850d0" opacity="0.32"/>
<ellipse cx="348.32" cy="982.07" rx="2.04" ry="1.59" transform="rotate(58 348.32 982.07)" fill="#2850d0" opacity="0.25"/>
<ellipse cx="325.78" cy="989.17" rx="2.73" ry="1.24" transform="rotate(50 325.78 989.17)" fill="#2850d0" opacity="0.46"/>
<ellipse cx="287.00" cy="1009.31" rx="1.71" ry="1.63" transform="rotate(39 287.00 1009.31)" fill="#2850d0" opacity="0.40"/>
<ellipse cx="369.21" cy="1061.26" rx="1.62" ry="1.25" transform="rotate(22 369.21 1061.26)" fill="#2850d0" opacity="0.35"/>
</g>
<line x1="358.25" y1="1067.0" x2="368.75" y2="1067.0" stroke="#e0e0e0" stroke-width="2.0"/>
<clipPath id="mc13"><rect x="375.5" y="965" width="106.25" height="106.5"/></clipPath>
<rect x="375.5" y="965" width="106.25" height="106.5" fill="#060306" stroke="none" stroke-width="0"/>
<g clip-path="url(#mc13)" filter="url(#cb)">
<ellipse cx="403.58" cy="997.19" rx="2.52" ry="1.20" transform="rotate(12 403.58 997.19)" fill="#2850d0" opacity="0.49"/>
<ellipse cx="395.95" cy="971.76" rx="1.71" ry="1.82" transform="rotate(7 395.95 971.76)" fill="#2850d0" opacity="0.27"/>
<ellipse cx="421.28" cy="1035.94" rx="1.93" ry="1.80" transform="rotate(56 421.28 1035.94)" fill="#2850d0" opacity="0.48"/>
<ellipse cx="417.03" cy="985.57" rx="1.82" ry="1.66" transform="rotate(47 417.03 985.57)" fill="#2850d0" opacity="0.51"/>
<ellipse cx="409.43" cy="1062.58" rx="2.01" ry="1.86" transform="rotate(-47 409.43 1062.58)" fill="#2850d0" opacity="0.25"/>
<ellipse cx="397.40" cy="1058.42" rx="2.32" ry="2.03" transform="rotate(17 397.40 1058.42)" fill="#2850d0" opacity="0.37"/>
<ellipse cx="429.97" cy="1028.01" rx="2.59" ry="1.58" transform="rotate(47 429.97 1028.01)" fill="#2850d0" opacity="0.45"/>
<ellipse cx="462.34" cy="1018.05" rx="2.34" ry="1.47" transform="rotate(3 462.34 1018.05)" fill="#2850d0" opacity="0.29"/>
<ellipse cx="386.92" cy="970.03" rx="2.35" ry="1.60" transform="rotate(48 386.92 970.03)" fill="#2850d0" opacity="0.54"/>
<ellipse cx="416.36" cy="1067.75" rx="2.19" ry="1.94" transform="rotate(-11 416.36 1067.75)" fill="#2850d0" opacity="0.29"/>
<ellipse cx="394.28" cy="984.94" rx="2.21" ry="1.22" transform="rotate(-58 394.28 984.94)" fill="#2850d0" opacity="0.53"/>
<ellipse cx="386.79" cy="1013.09" rx="2.03" ry="1.78" transform="rotate(0 386.79 1013.09)" fill="#2850d0" opacity="0.58"/>
<ellipse cx="454.17" cy="1026.03" rx="2.23" ry="1.66" transform="rotate(56 454.17 1026.03)" fill="#2850d0" opacity="0.30"/>
<ellipse cx="447.81" cy="1024.01" rx="1.36" ry="1.43" transform="rotate(51 447.81 1024.01)" fill="#2850d0" opacity="0.52"/>
<ellipse cx="377.83" cy="997.00" rx="1.31" ry="2.01" transform="rotate(-47 377.83 997.00)" fill="#2850d0" opacity="0.23"/>
<ellipse cx="478.12" cy="1012.59" rx="1.78" ry="1.15" transform="rotate(-13 478.12 1012.59)" fill="#2850d0" opacity="0.35"/>
<ellipse cx="430.68" cy="966.71" rx="1.52" ry="1.33" transform="rotate(-7 430.68 966.71)" fill="#2850d0" opacity="0.33"/>
<ellipse cx="439.98" cy="995.83" rx="2.66" ry="2.16" transform="rotate(-53 439.98 995.83)" fill="#2850d0" opacity="0.29"/>
<ellipse cx="434.77" cy="1046.53" rx="1.40" ry="1.30" transform="rotate(-5 434.77 1046.53)" fill="#2850d0" opacity="0.47"/>
<ellipse cx="469.99" cy="1056.60" rx="2.49" ry="1.16" transform="rotate(57 469.99 1056.60)" fill="#2850d0" opacity="0.45"/>
<ellipse cx="385.41" cy="992.64" rx="2.23" ry="1.52" transform="rotate(-6 385.41 992.64)" fill="#2850d0" opacity="0.52"/>
<ellipse cx="461.79" cy="1023.14" rx="2.49" ry="1.55" transform="rotate(57 461.79 1023.14)" fill="#2850d0" opacity="0.45"/>
<ellipse cx="476.66" cy="970.60" rx="2.62" ry="1.72" transform="rotate(26 476.66 970.60)" fill="#2850d0" opacity="0.29"/>
<ellipse cx="433.29" cy="996.23" rx="1.46" ry="1.10" transform="rotate(49 433.29 996.23)" fill="#2850d0" opacity="0.47"/>
<ellipse cx="397.72" cy="992.94" rx="2.00" ry="2.00" transform="rotate(-46 397.72 992.94)" fill="#2850d0" opacity="0.59"/>
<ellipse cx="474.19" cy="991.57" rx="2.26" ry="1.50" transform="rotate(24 474.19 991.57)" fill="#2850d0" opacity="0.24"/>
<ellipse cx="425.14" cy="1027.50" rx="2.24" ry="1.86" transform="rotate(47 425.14 1027.50)" fill="#2850d0" opacity="0.30"/>
<ellipse cx="392.36" cy="1006.82" rx="2.15" ry="2.16" transform="rotate(25 392.36 1006.82)" fill="#2850d0" opacity="0.50"/>
<ellipse cx="477.18" cy="993.98" rx="1.69" ry="1.56" transform="rotate(-25 477.18 993.98)" fill="#2850d0" opacity="0.46"/>
<ellipse cx="475.00" cy="982.04" rx="2.08" ry="1.85" transform="rotate(-1 475.00 982.04)" fill="#2850d0" opacity="0.57"/>
<ellipse cx="452.77" cy="1058.19" rx="1.47" ry="1.32" transform="rotate(-52 452.77 1058.19)" fill="#2850d0" opacity="0.53"/>
<ellipse cx="476.15" cy="967.46" rx="2.48" ry="1.90" transform="rotate(49 476.15 967.46)" fill="#2850d0" opacity="0.32"/>
<ellipse cx="450.48" cy="990.81" rx="1.41" ry="1.92" transform="rotate(-55 450.48 990.81)" fill="#2850d0" opacity="0.48"/>
<ellipse cx="405.84" cy="1016.94" rx="2.64" ry="1.37" transform="rotate(-4 405.84 1016.94)" fill="#2850d0" opacity="0.35"/>
<ellipse cx="396.20" cy="1015.50" rx="1.57" ry="1.98" transform="rotate(14 396.20 1015.50)" fill="#2850d0" opacity="0.32"/>
<ellipse cx="477.22" cy="1002.08" rx="2.31" ry="1.91" transform="rotate(-28 477.22 1002.08)" fill="#2850d0" opacity="0.21"/>
<ellipse cx="468.89" cy="1065.95" rx="1.56" ry="1.27" transform="rotate(-8 468.89 1065.95)" fill="#2850d0" opacity="0.44"/>
<ellipse cx="478.86" cy="1066.69" rx="2.78" ry="1.37" transform="rotate(12 478.86 1066.69)" fill="#2850d0" opacity="0.38"/>
<ellipse cx="400.45" cy="972.83" rx="1.55" ry="1.49" transform="rotate(-49 400.45 972.83)" fill="#2850d0" opacity="0.27"/>
<ellipse cx="381.12" cy="1031.09" rx="2.04" ry="1.37" transform="rotate(3 381.12 1031.09)" fill="#2850d0" opacity="0.38"/>
<ellipse cx="444.72" cy="1063.46" rx="1.83" ry="1.81" transform="rotate(-34 444.72 1063.46)" fill="#2850d0" opacity="0.58"/>
<ellipse cx="440.43" cy="982.59" rx="1.69" ry="1.28" transform="rotate(-39 440.43 982.59)" fill="#2850d0" opacity="0.33"/>
<ellipse cx="461.69" cy="1013.76" rx="1.72" ry="1.56" transform="rotate(-28 461.69 1013.76)" fill="#2850d0" opacity="0.50"/>
<ellipse cx="382.58" cy="996.22" rx="1.78" ry="1.30" transform="rotate(29 382.58 996.22)" fill="#2850d0" opacity="0.28"/>
<ellipse cx="407.60" cy="971.90" rx="2.43" ry="1.50" transform="rotate(19 407.60 971.90)" fill="#2850d0" opacity="0.29"/>
<ellipse cx="378.76" cy="999.69" rx="2.47" ry="2.02" transform="rotate(-18 378.76 999.69)" fill="#2850d0" opacity="0.54"/>
<ellipse cx="381.71" cy="1020.56" rx="1.69" ry="1.58" transform="rotate(-33 381.71 1020.56)" fill="#2850d0" opacity="0.56"/>
<ellipse cx="407.78" cy="1064.78" rx="1.46" ry="1.57" transform="rotate(-7 407.78 1064.78)" fill="#2850d0" opacity="0.49"/>
<ellipse cx="412.21" cy="1017.47" rx="1.41" ry="1.44" transform="rotate(27 412.21 1017.47)" fill="#2850d0" opacity="0.25"/>
<ellipse cx="424.37" cy="990.74" rx="1.55" ry="1.23" transform="rotate(38 424.37 990.74)" fill="#2850d0" opacity="0.48"/>
<ellipse cx="415.77" cy="1006.93" rx="2.39" ry="1.76" transform="rotate(50 415.77 1006.93)" fill="#2850d0" opacity="0.57"/>
<ellipse cx="426.41" cy="1034.88" rx="2.12" ry="1.44" transform="rotate(-6 426.41 1034.88)" fill="#2850d0" opacity="0.49"/>
<ellipse cx="433.70" cy="1032.09" rx="2.03" ry="2.15" transform="rotate(33 433.70 1032.09)" fill="#2850d0" opacity="0.26"/>
<ellipse cx="460.76" cy="1061.89" rx="2.52" ry="1.48" transform="rotate(-16 460.76 1061.89)" fill="#2850d0" opacity="0.30"/>
<ellipse cx="382.27" cy="1015.33" rx="2.58" ry="1.95" transform="rotate(19 382.27 1015.33)" fill="#2850d0" opacity="0.54"/>
<ellipse cx="444.72" cy="989.34" rx="2.50" ry="1.50" transform="rotate(47 444.72 989.34)" fill="#2850d0" opacity="0.34"/>
<ellipse cx="386.01" cy="1042.27" rx="1.46" ry="2.06" transform="rotate(-11 386.01 1042.27)" fill="#2850d0" opacity="0.51"/>
<ellipse cx="381.94" cy="1022.83" rx="2.32" ry="1.24" transform="rotate(13 381.94 1022.83)" fill="#2850d0" opacity="0.27"/>
<ellipse cx="407.96" cy="1004.17" rx="2.23" ry="1.24" transform="rotate(-38 407.96 1004.17)" fill="#2850d0" opacity="0.51"/>
<ellipse cx="450.59" cy="1013.46" rx="1.72" ry="1.86" transform="rotate(-4 450.59 1013.46)" fill="#2850d0" opacity="0.33"/>
<ellipse cx="467.03" cy="987.09" rx="2.51" ry="1.78" transform="rotate(18 467.03 987.09)" fill="#2850d0" opacity="0.48"/>
<ellipse cx="453.95" cy="1058.06" rx="2.68" ry="1.38" transform="rotate(-40 453.95 1058.06)" fill="#2850d0" opacity="0.56"/>
<ellipse cx="397.60" cy="989.20" rx="2.51" ry="2.16" transform="rotate(41 397.60 989.20)" fill="#2850d0" opacity="0.41"/>
<ellipse cx="415.37" cy="1069.30" rx="2.40" ry="1.79" transform="rotate(-59 415.37 1069.30)" fill="#2850d0" opacity="0.29"/>
<ellipse cx="377.90" cy="1060.79" rx="1.65" ry="1.29" transform="rotate(10 377.90 1060.79)" fill="#2850d0" opacity="0.29"/>
<ellipse cx="433.07" cy="1065.25" rx="2.60" ry="1.37" transform="rotate(50 433.07 1065.25)" fill="#2850d0" opacity="0.37"/>
<ellipse cx="430.63" cy="999.96" rx="2.80" ry="1.44" transform="rotate(28 430.63 999.96)" fill="#2850d0" opacity="0.45"/>
<ellipse cx="447.80" cy="976.87" rx="2.11" ry="2.20" transform="rotate(8 447.80 976.87)" fill="#2850d0" opacity="0.29"/>
<ellipse cx="381.94" cy="1000.48" rx="2.42" ry="1.13" transform="rotate(-54 381.94 1000.48)" fill="#2850d0" opacity="0.47"/>
<ellipse cx="467.77" cy="1011.85" rx="2.24" ry="1.38" transform="rotate(-27 467.77 1011.85)" fill="#2850d0" opacity="0.40"/>
<ellipse cx="399.17" cy="1013.43" rx="1.52" ry="2.12" transform="rotate(18 399.17 1013.43)" fill="#2850d0" opacity="0.25"/>
<ellipse cx="396.49" cy="1052.65" rx="1.86" ry="1.39" transform="rotate(-57 396.49 1052.65)" fill="#2850d0" opacity="0.47"/>
<ellipse cx="435.53" cy="1053.82" rx="1.55" ry="1.93" transform="rotate(39 435.53 1053.82)" fill="#2850d0" opacity="0.53"/>
<ellipse cx="453.75" cy="1012.23" rx="1.37" ry="1.81" transform="rotate(-57 453.75 1012.23)" fill="#2850d0" opacity="0.24"/>
<ellipse cx="418.84" cy="978.62" rx="1.98" ry="2.04" transform="rotate(-39 418.84 978.62)" fill="#2850d0" opacity="0.52"/>
<ellipse cx="479.75" cy="969.90" rx="1.93" ry="1.88" transform="rotate(28 479.75 969.90)" fill="#2850d0" opacity="0.32"/>
<ellipse cx="460.23" cy="1004.80" rx="1.60" ry="1.67" transform="rotate(13 460.23 1004.80)" fill="#2850d0" opacity="0.54"/>
<ellipse cx="445.22" cy="974.69" rx="2.16" ry="1.48" transform="rotate(25 445.22 974.69)" fill="#2850d0" opacity="0.23"/>
<ellipse cx="444.54" cy="1048.72" rx="1.36" ry="1.12" transform="rotate(47 444.54 1048.72)" fill="#2850d0" opacity="0.56"/>
<ellipse cx="394.78" cy="1062.40" rx="1.91" ry="1.67" transform="rotate(-3 394.78 1062.40)" fill="#2850d0" opacity="0.34"/>
<ellipse cx="468.02" cy="1029.81" rx="2.70" ry="1.78" transform="rotate(51 468.02 1029.81)" fill="#2850d0" opacity="0.41"/>
<ellipse cx="425.65" cy="1025.70" rx="1.31" ry="1.94" transform="rotate(-43 425.65 1025.70)" fill="#2850d0" opacity="0.58"/>
<ellipse cx="381.08" cy="1040.01" rx="2.45" ry="1.70" transform="rotate(-49 381.08 1040.01)" fill="#2850d0" opacity="0.53"/>
<ellipse cx="409.75" cy="996.09" rx="2.34" ry="2.17" transform="rotate(-48 409.75 996.09)" fill="#2850d0" opacity="0.38"/>
<ellipse cx="446.19" cy="994.94" rx="2.69" ry="1.76" transform="rotate(-51 446.19 994.94)" fill="#2850d0" opacity="0.27"/>
<ellipse cx="391.33" cy="1013.65" rx="2.67" ry="1.22" transform="rotate(-42 391.33 1013.65)" fill="#2850d0" opacity="0.29"/>
<ellipse cx="435.81" cy="1010.96" rx="1.93" ry="1.26" transform="rotate(39 435.81 1010.96)" fill="#2850d0" opacity="0.40"/>
<ellipse cx="466.10" cy="969.15" rx="1.99" ry="1.51" transform="rotate(41 466.10 969.15)" fill="#2850d0" opacity="0.48"/>
<ellipse cx="430.42" cy="982.85" rx="2.32" ry="2.09" transform="rotate(33 430.42 982.85)" fill="#2850d0" opacity="0.59"/>
<ellipse cx="437.70" cy="998.79" rx="1.63" ry="1.98" transform="rotate(37 437.70 998.79)" fill="#2850d0" opacity="0.46"/>
<ellipse cx="457.44" cy="1016.78" rx="2.58" ry="1.86" transform="rotate(-31 457.44 1016.78)" fill="#2850d0" opacity="0.44"/>
<ellipse cx="444.41" cy="987.20" rx="2.70" ry="1.99" transform="rotate(-43 444.41 987.20)" fill="#2850d0" opacity="0.30"/>
<ellipse cx="376.72" cy="1064.17" rx="1.56" ry="2.02" transform="rotate(1 376.72 1064.17)" fill="#2850d0" opacity="0.23"/>
<ellipse cx="398.38" cy="992.93" rx="2.45" ry="1.50" transform="rotate(-43 398.38 992.93)" fill="#2850d0" opacity="0.58"/>
<ellipse cx="429.75" cy="972.96" rx="2.76" ry="1.84" transform="rotate(-7 429.75 972.96)" fill="#2850d0" opacity="0.27"/>
<ellipse cx="448.26" cy="976.13" rx="2.71" ry="1.93" transform="rotate(26 448.26 976.13)" fill="#2850d0" opacity="0.51"/>
<ellipse cx="465.90" cy="1015.00" rx="2.52" ry="1.22" transform="rotate(24 465.90 1015.00)" fill="#2850d0" opacity="0.50"/>
<ellipse cx="398.38" cy="977.63" rx="2.68" ry="2.08" transform="rotate(-47 398.38 977.63)" fill="#2850d0" opacity="0.44"/>
<ellipse cx="395.21" cy="987.39" rx="2.69" ry="1.83" transform="rotate(31 395.21 987.39)" fill="#2850d0" opacity="0.32"/>
<ellipse cx="456.80" cy="1035.95" rx="1.82" ry="1.65" transform="rotate(-30 456.80 1035.95)" fill="#2850d0" opacity="0.44"/>
<ellipse cx="395.85" cy="1012.89" rx="2.58" ry="1.82" transform="rotate(12 395.85 1012.89)" fill="#2850d0" opacity="0.25"/>
<ellipse cx="461.54" cy="1030.74" rx="2.72" ry="2.13" transform="rotate(52 461.54 1030.74)" fill="#2850d0" opacity="0.42"/>
<ellipse cx="456.16" cy="976.62" rx="1.37" ry="1.96" transform="rotate(21 456.16 976.62)" fill="#2850d0" opacity="0.58"/>
<ellipse cx="408.01" cy="1017.73" rx="2.48" ry="1.77" transform="rotate(42 408.01 1017.73)" fill="#2850d0" opacity="0.36"/>
<ellipse cx="463.97" cy="1056.01" rx="2.65" ry="1.54" transform="rotate(49 463.97 1056.01)" fill="#2850d0" opacity="0.33"/>
<ellipse cx="437.97" cy="1068.40" rx="2.27" ry="1.75" transform="rotate(-17 437.97 1068.40)" fill="#2850d0" opacity="0.41"/>
<ellipse cx="427.28" cy="1036.81" rx="2.11" ry="1.45" transform="rotate(-37 427.28 1036.81)" fill="#2850d0" opacity="0.60"/>
<ellipse cx="440.60" cy="984.09" rx="1.81" ry="1.82" transform="rotate(-31 440.60 984.09)" fill="#2850d0" opacity="0.56"/>
<ellipse cx="432.44" cy="1037.15" rx="2.30" ry="1.28" transform="rotate(52 432.44 1037.15)" fill="#2850d0" opacity="0.54"/>
<ellipse cx="391.61" cy="1025.52" rx="2.09" ry="1.44" transform="rotate(-15 391.61 1025.52)" fill="#2850d0" opacity="0.31"/>
<ellipse cx="441.84" cy="1010.79" rx="1.45" ry="1.35" transform="rotate(-42 441.84 1010.79)" fill="#2850d0" opacity="0.46"/>
<ellipse cx="433.86" cy="1007.02" rx="2.12" ry="1.79" transform="rotate(-34 433.86 1007.02)" fill="#2850d0" opacity="0.23"/>
<ellipse cx="476.08" cy="985.39" rx="1.66" ry="1.87" transform="rotate(58 476.08 985.39)" fill="#2850d0" opacity="0.26"/>
<ellipse cx="418.15" cy="1055.43" rx="1.43" ry="1.38" transform="rotate(14 418.15 1055.43)" fill="#2850d0" opacity="0.53"/>
<ellipse cx="387.12" cy="1009.51" rx="2.19" ry="1.70" transform="rotate(4 387.12 1009.51)" fill="#2850d0" opacity="0.60"/>
<ellipse cx="478.36" cy="987.98" rx="1.68" ry="1.54" transform="rotate(-48 478.36 987.98)" fill="#2850d0" opacity="0.27"/>
<ellipse cx="434.98" cy="1069.14" rx="1.74" ry="1.32" transform="rotate(14 434.98 1069.14)" fill="#2850d0" opacity="0.33"/>
<ellipse cx="377.91" cy="975.79" rx="2.62" ry="1.22" transform="rotate(17 377.91 975.79)" fill="#2850d0" opacity="0.37"/>
<ellipse cx="456.14" cy="1019.20" rx="1.65" ry="1.33" transform="rotate(-32 456.14 1019.20)" fill="#2850d0" opacity="0.30"/>
<ellipse cx="402.46" cy="997.28" rx="2.20" ry="1.68" transform="rotate(-52 402.46 997.28)" fill="#2850d0" opacity="0.37"/>
<ellipse cx="472.75" cy="1064.19" rx="1.78" ry="1.27" transform="rotate(-25 472.75 1064.19)" fill="#2850d0" opacity="0.26"/>
<ellipse cx="403.26" cy="1062.64" rx="2.62" ry="1.60" transform="rotate(6 403.26 1062.64)" fill="#2850d0" opacity="0.48"/>
<ellipse cx="449.09" cy="1038.49" rx="2.40" ry="1.75" transform="rotate(-44 449.09 1038.49)" fill="#2850d0" opacity="0.48"/>
<ellipse cx="445.74" cy="982.97" rx="1.59" ry="1.80" transform="rotate(-14 445.74 982.97)" fill="#2850d0" opacity="0.53"/>
<ellipse cx="405.19" cy="1035.62" rx="2.22" ry="1.22" transform="rotate(-27 405.19 1035.62)" fill="#2850d0" opacity="0.35"/>
<ellipse cx="407.75" cy="975.51" rx="1.65" ry="1.69" transform="rotate(-33 407.75 975.51)" fill="#2850d0" opacity="0.46"/>
<ellipse cx="419.46" cy="1013.69" rx="1.61" ry="1.97" transform="rotate(-51 419.46 1013.69)" fill="#2850d0" opacity="0.58"/>
<ellipse cx="437.50" cy="1064.67" rx="2.12" ry="1.49" transform="rotate(-16 437.50 1064.67)" fill="#2850d0" opacity="0.57"/>
<ellipse cx="430.41" cy="1007.21" rx="1.53" ry="1.27" transform="rotate(-10 430.41 1007.21)" fill="#2850d0" opacity="0.39"/>
<ellipse cx="459.74" cy="978.72" rx="1.98" ry="1.25" transform="rotate(-30 459.74 978.72)" fill="#2850d0" opacity="0.40"/>
<ellipse cx="467.26" cy="979.83" rx="1.56" ry="1.88" transform="rotate(3 467.26 979.83)" fill="#2850d0" opacity="0.24"/>
<ellipse cx="446.98" cy="1066.15" rx="2.41" ry="2.20" transform="rotate(29 446.98 1066.15)" fill="#2850d0" opacity="0.34"/>
<ellipse cx="459.34" cy="1025.34" rx="1.44" ry="1.50" transform="rotate(54 459.34 1025.34)" fill="#2850d0" opacity="0.47"/>
<ellipse cx="414.79" cy="1040.04" rx="2.32" ry="1.27" transform="rotate(-5 414.79 1040.04)" fill="#2850d0" opacity="0.52"/>
<ellipse cx="388.54" cy="1023.23" rx="1.48" ry="1.40" transform="rotate(32 388.54 1023.23)" fill="#2850d0" opacity="0.35"/>
<ellipse cx="461.62" cy="1041.88" rx="2.25" ry="1.27" transform="rotate(-6 461.62 1041.88)" fill="#2850d0" opacity="0.55"/>
<ellipse cx="441.98" cy="973.18" rx="2.05" ry="1.61" transform="rotate(-2 441.98 973.18)" fill="#2850d0" opacity="0.37"/>
<ellipse cx="460.72" cy="1021.62" rx="2.59" ry="2.15" transform="rotate(47 460.72 1021.62)" fill="#2850d0" opacity="0.51"/>
<ellipse cx="378.72" cy="966.19" rx="1.56" ry="1.67" transform="rotate(-24 378.72 966.19)" fill="#2850d0" opacity="0.26"/>
<ellipse cx="472.42" cy="1010.92" rx="1.60" ry="1.66" transform="rotate(58 472.42 1010.92)" fill="#2850d0" opacity="0.49"/>
<ellipse cx="472.20" cy="978.13" rx="2.41" ry="1.47" transform="rotate(-17 472.20 978.13)" fill="#2850d0" opacity="0.39"/>
<ellipse cx="424.40" cy="1048.65" rx="1.74" ry="1.61" transform="rotate(-8 424.40 1048.65)" fill="#2850d0" opacity="0.45"/>
<ellipse cx="434.31" cy="970.95" rx="2.58" ry="1.81" transform="rotate(-42 434.31 970.95)" fill="#2850d0" opacity="0.40"/>
<ellipse cx="469.68" cy="1058.25" rx="1.91" ry="1.36" transform="rotate(54 469.68 1058.25)" fill="#2850d0" opacity="0.50"/>
<ellipse cx="445.15" cy="1008.73" rx="2.60" ry="1.31" transform="rotate(39 445.15 1008.73)" fill="#2850d0" opacity="0.52"/>
<ellipse cx="430.55" cy="1004.03" rx="2.33" ry="1.53" transform="rotate(-10 430.55 1004.03)" fill="#2850d0" opacity="0.32"/>
<ellipse cx="457.57" cy="982.07" rx="2.04" ry="1.59" transform="rotate(58 457.57 982.07)" fill="#2850d0" opacity="0.25"/>
<ellipse cx="435.03" cy="989.17" rx="2.73" ry="1.24" transform="rotate(50 435.03 989.17)" fill="#2850d0" opacity="0.46"/>
<ellipse cx="396.25" cy="1009.31" rx="1.71" ry="1.63" transform="rotate(39 396.25 1009.31)" fill="#2850d0" opacity="0.40"/>
<ellipse cx="478.46" cy="1061.26" rx="1.62" ry="1.25" transform="rotate(22 478.46 1061.26)" fill="#2850d0" opacity="0.35"/>
<path d="M414.85,969.96 Q415.69,968.69 417.23,968.53 Q418.78,968.38 420.02,969.17 Q421.26,969.96 421.61,971.36 Q421.96,972.76 421.29,974.26 Q420.63,975.76 418.84,976.10 Q417.05,976.44 415.63,975.41 Q414.21,974.37 414.11,972.80 Q414.00,971.23 414.85,969.96 Z" fill="#e42646" opacity="0.90"/>
<path d="M424.52,975.78 Q425.54,976.71 426.70,977.59 Q427.86,978.48 427.18,979.82 Q426.50,981.17 425.23,981.49 Q423.95,981.81 422.73,981.56 Q421.51,981.30 420.97,980.14 Q420.43,978.97 420.61,977.56 Q420.78,976.15 422.14,975.50 Q423.49,974.85 424.52,975.78 Z" fill="#e42646" opacity="0.75"/>
<path d="M456.62,968.69 Q457.68,969.73 456.87,970.98 Q456.05,972.24 454.89,972.91 Q453.73,973.57 452.65,972.89 Q451.56,972.21 450.91,971.21 Q450.26,970.21 450.63,969.01 Q451.00,967.80 452.12,966.95 Q453.25,966.10 454.40,966.88 Q455.56,967.66 456.62,968.69 Z" fill="#e42646" opacity="0.75"/>
<path d="M457.74,988.83 Q456.50,989.39 455.36,988.85 Q454.23,988.30 453.70,987.04 Q453.18,985.78 453.38,984.28 Q453.57,982.78 454.82,982.68 Q456.06,982.58 456.91,983.00 Q457.75,983.42 458.71,984.31 Q459.67,985.19 459.32,986.73 Q458.97,988.27 457.74,988.83 Z" fill="#e42646" opacity="0.60"/>
<path d="M421.12,997.84 Q420.35,996.12 421.17,994.07 Q421.99,992.03 424.13,992.27 Q426.27,992.52 428.50,992.91 Q430.73,993.30 431.24,995.69 Q431.76,998.07 430.15,999.68 Q428.54,1001.29 426.60,1001.61 Q424.66,1001.92 423.27,1000.74 Q421.88,999.56 421.12,997.84 Z" fill="#e42646" opacity="1.00"/>
<path d="M422.62,1008.71 Q424.08,1009.49 425.13,1010.71 Q426.19,1011.93 425.97,1013.76 Q425.75,1015.59 424.04,1016.35 Q422.34,1017.11 421.06,1016.08 Q419.79,1015.04 419.15,1013.98 Q418.51,1012.91 418.12,1011.15 Q417.72,1009.39 419.45,1008.66 Q421.17,1007.94 422.62,1008.71 Z" fill="#e42646" opacity="1.00"/>
<path d="M445.42,1022.89 Q443.51,1021.67 444.97,1020.00 Q446.42,1018.34 448.04,1017.55 Q449.67,1016.76 451.16,1017.59 Q452.64,1018.42 454.04,1019.66 Q455.43,1020.90 454.09,1022.20 Q452.75,1023.49 451.53,1024.39 Q450.30,1025.29 448.82,1024.70 Q447.34,1024.10 445.42,1022.89 Z" fill="#e42646" opacity="1.00"/>
<path d="M450.48,1015.15 Q449.61,1014.80 448.82,1014.32 Q448.03,1013.84 448.01,1012.80 Q447.99,1011.76 448.81,1011.10 Q449.63,1010.43 450.57,1010.69 Q451.51,1010.95 452.26,1011.55 Q453.01,1012.15 452.77,1013.07 Q452.52,1014.00 451.93,1014.75 Q451.35,1015.50 450.48,1015.15 Z" fill="#e42646" opacity="0.90"/>
<path d="M407.16,1029.72 Q406.39,1028.70 406.24,1027.38 Q406.09,1026.06 406.91,1024.76 Q407.73,1023.45 409.41,1023.23 Q411.08,1023.00 412.05,1024.46 Q413.03,1025.91 412.17,1027.17 Q411.31,1028.44 410.98,1029.84 Q410.66,1031.24 409.30,1030.98 Q407.94,1030.73 407.16,1029.72 Z" fill="#e42646" opacity="1.00"/>
<path d="M431.33,1030.61 Q431.58,1029.16 432.59,1028.39 Q433.61,1027.62 434.89,1027.66 Q436.17,1027.70 436.93,1029.04 Q437.69,1030.38 437.23,1031.80 Q436.78,1033.23 435.81,1033.93 Q434.85,1034.62 433.45,1034.96 Q432.06,1035.29 431.57,1033.67 Q431.09,1032.05 431.33,1030.61 Z" fill="#e42646" opacity="1.00"/>
<path d="M462.49,1000.68 Q461.41,999.62 461.36,997.83 Q461.30,996.03 462.93,995.20 Q464.56,994.37 466.38,994.48 Q468.19,994.59 468.54,996.31 Q468.89,998.02 468.80,999.43 Q468.71,1000.83 467.65,1002.37 Q466.60,1003.90 465.09,1002.82 Q463.57,1001.73 462.49,1000.68 Z" fill="#e42646" opacity="0.70"/>
<path d="M476.52,997.19 Q477.93,996.21 478.81,997.77 Q479.68,999.34 480.62,1000.99 Q481.56,1002.64 480.33,1004.17 Q479.10,1005.69 477.54,1005.13 Q475.98,1004.56 475.17,1003.68 Q474.35,1002.81 473.60,1001.47 Q472.85,1000.12 473.98,999.14 Q475.12,998.16 476.52,997.19 Z" fill="#e42646" opacity="0.80"/>
<path d="M379.38,969.19 Q380.76,968.96 381.32,970.20 Q381.88,971.44 382.21,972.67 Q382.53,973.90 381.57,974.88 Q380.61,975.86 379.38,975.46 Q378.16,975.06 377.18,974.39 Q376.21,973.73 376.35,972.53 Q376.50,971.33 377.25,970.37 Q378.01,969.42 379.38,969.19 Z" fill="#e42646" opacity="0.60"/>
<path d="M395.15,979.53 Q395.14,978.81 395.78,978.25 Q396.41,977.69 397.21,977.99 Q398.02,978.29 398.54,978.97 Q399.06,979.66 398.76,980.46 Q398.46,981.26 397.75,981.61 Q397.04,981.95 396.47,981.56 Q395.89,981.16 395.52,980.70 Q395.15,980.24 395.15,979.53 Z" fill="#e42646" opacity="0.50"/>
<path d="M403.81,970.97 Q404.82,971.39 404.63,972.44 Q404.44,973.50 403.83,974.02 Q403.22,974.55 402.53,974.68 Q401.84,974.82 401.05,974.53 Q400.27,974.25 400.28,973.40 Q400.29,972.55 400.72,971.91 Q401.15,971.26 401.98,970.90 Q402.81,970.55 403.81,970.97 Z" fill="#e42646" opacity="0.40"/>
<path d="M432.14,1055.61 Q432.82,1054.53 433.81,1054.29 Q434.80,1054.06 435.91,1054.57 Q437.02,1055.09 437.22,1056.75 Q437.42,1058.41 436.57,1059.50 Q435.73,1060.58 434.66,1061.11 Q433.59,1061.64 432.89,1060.47 Q432.18,1059.30 431.82,1058.00 Q431.46,1056.70 432.14,1055.61 Z" fill="#e42646" opacity="0.90"/>
<path d="M444.18,1059.42 Q443.39,1057.84 444.86,1056.95 Q446.33,1056.06 447.01,1054.70 Q447.70,1053.35 449.02,1054.07 Q450.35,1054.78 451.30,1055.99 Q452.25,1057.19 451.74,1058.74 Q451.23,1060.29 449.80,1061.40 Q448.37,1062.50 446.67,1061.75 Q444.98,1061.00 444.18,1059.42 Z" fill="#e42646" opacity="0.85"/>
<path d="M422.34,1061.06 Q422.06,1060.18 422.13,1059.23 Q422.20,1058.27 423.15,1058.20 Q424.09,1058.12 424.88,1058.22 Q425.68,1058.31 425.84,1059.08 Q426.00,1059.85 426.14,1060.78 Q426.27,1061.71 425.33,1061.74 Q424.40,1061.77 423.51,1061.85 Q422.61,1061.93 422.34,1061.06 Z" fill="#e42646" opacity="0.50"/>
<path d="M392.48,1019.15 Q393.02,1019.52 392.65,1020.05 Q392.28,1020.59 391.98,1021.09 Q391.68,1021.59 391.03,1021.56 Q390.38,1021.54 390.07,1020.97 Q389.76,1020.41 389.93,1019.88 Q390.10,1019.34 390.53,1019.15 Q390.97,1018.96 391.45,1018.88 Q391.94,1018.79 392.48,1019.15 Z" fill="#e42646" opacity="0.40"/>
<path d="M378.70,1008.49 Q378.69,1009.15 378.05,1009.29 Q377.41,1009.43 376.86,1009.30 Q376.32,1009.17 376.11,1008.66 Q375.90,1008.15 376.03,1007.64 Q376.16,1007.13 376.62,1006.76 Q377.07,1006.38 377.74,1006.47 Q378.40,1006.56 378.56,1007.20 Q378.71,1007.84 378.70,1008.49 Z" fill="#e42646" opacity="0.40"/>
<path d="M478.04,983.54 Q478.59,983.97 478.80,984.60 Q479.02,985.23 478.85,986.05 Q478.69,986.87 477.81,987.16 Q476.94,987.45 476.50,986.69 Q476.06,985.92 475.71,985.34 Q475.36,984.76 475.80,984.23 Q476.25,983.70 476.87,983.40 Q477.49,983.11 478.04,983.54 Z" fill="#e42646" opacity="0.35"/>
<path d="M399.79,981.69 Q399.43,983.18 397.98,983.66 Q396.53,984.14 395.54,983.11 Q394.56,982.09 393.96,980.94 Q393.36,979.80 394.20,978.89 Q395.04,977.97 396.00,976.97 Q396.96,975.97 398.16,976.75 Q399.35,977.52 399.75,978.86 Q400.14,980.20 399.79,981.69 Z" fill="#3ed23a" opacity="1.00"/>
<path d="M424.65,981.02 Q423.57,981.08 422.80,980.49 Q422.03,979.90 421.78,979.02 Q421.53,978.13 422.12,977.29 Q422.71,976.45 423.83,976.40 Q424.95,976.36 425.70,976.98 Q426.45,977.61 426.56,978.45 Q426.67,979.30 426.20,980.13 Q425.73,980.96 424.65,981.02 Z" fill="#3ed23a" opacity="0.80"/>
<path d="M466.48,972.56 Q465.24,972.21 464.38,971.32 Q463.51,970.42 463.64,969.13 Q463.78,967.84 464.67,966.58 Q465.56,965.32 466.83,966.20 Q468.10,967.07 468.51,967.98 Q468.91,968.88 469.17,969.94 Q469.44,970.99 468.58,971.95 Q467.72,972.90 466.48,972.56 Z" fill="#3ed23a" opacity="1.00"/>
<path d="M422.67,997.01 Q422.08,995.88 423.17,995.22 Q424.26,994.55 425.43,994.08 Q426.61,993.61 427.38,994.63 Q428.15,995.65 428.47,996.86 Q428.79,998.07 427.90,999.02 Q427.01,999.96 425.91,999.52 Q424.82,999.08 424.04,998.61 Q423.26,998.14 422.67,997.01 Z" fill="#3ed23a" opacity="1.00"/>
<path d="M464.31,994.49 Q465.05,993.37 466.21,993.63 Q467.37,993.88 468.21,994.78 Q469.04,995.67 469.15,997.12 Q469.27,998.57 468.36,999.60 Q467.45,1000.63 466.10,1000.89 Q464.76,1001.14 464.20,999.69 Q463.64,998.24 463.60,996.92 Q463.56,995.60 464.31,994.49 Z" fill="#3ed23a" opacity="1.00"/>
<path d="M455.67,984.12 Q456.55,983.70 457.03,984.55 Q457.52,985.41 457.37,986.18 Q457.23,986.96 456.83,987.73 Q456.44,988.50 455.56,988.38 Q454.68,988.25 453.80,987.79 Q452.92,987.33 452.81,986.22 Q452.71,985.11 453.75,984.82 Q454.79,984.54 455.67,984.12 Z" fill="#3ed23a" opacity="0.60"/>
<path d="M446.72,987.38 Q447.23,987.98 447.48,988.65 Q447.73,989.31 447.13,989.83 Q446.52,990.34 445.81,990.10 Q445.10,989.85 444.31,989.74 Q443.52,989.63 443.38,988.91 Q443.24,988.18 443.97,987.84 Q444.70,987.50 445.46,987.14 Q446.22,986.78 446.72,987.38 Z" fill="#3ed23a" opacity="0.70"/>
<path d="M408.14,1010.74 Q407.87,1009.37 408.58,1008.37 Q409.29,1007.38 410.35,1006.27 Q411.42,1005.17 412.80,1005.98 Q414.19,1006.79 414.67,1008.22 Q415.15,1009.65 414.34,1010.81 Q413.53,1011.97 412.32,1012.43 Q411.12,1012.89 409.77,1012.50 Q408.41,1012.12 408.14,1010.74 Z" fill="#3ed23a" opacity="1.00"/>
<path d="M407.19,1030.33 Q405.90,1029.87 405.30,1028.41 Q404.69,1026.96 405.44,1025.65 Q406.19,1024.35 407.36,1023.62 Q408.53,1022.90 409.73,1023.61 Q410.92,1024.33 411.08,1025.68 Q411.24,1027.03 411.44,1028.81 Q411.63,1030.59 410.05,1030.70 Q408.47,1030.80 407.19,1030.33 Z" fill="#3ed23a" opacity="1.00"/>
<path d="M448.91,1017.54 Q450.52,1017.08 451.89,1017.81 Q453.25,1018.53 453.87,1019.90 Q454.49,1021.27 454.41,1023.19 Q454.33,1025.12 452.40,1025.69 Q450.47,1026.26 448.86,1025.37 Q447.24,1024.47 446.22,1022.85 Q445.20,1021.22 446.24,1019.61 Q447.29,1018.01 448.91,1017.54 Z" fill="#3ed23a" opacity="1.00"/>
<path d="M464.42,1020.76 Q463.74,1019.11 464.98,1017.59 Q466.22,1016.07 468.04,1016.45 Q469.85,1016.83 471.04,1017.88 Q472.22,1018.94 472.82,1020.69 Q473.41,1022.44 472.27,1024.29 Q471.12,1026.14 469.03,1025.70 Q466.94,1025.27 466.02,1023.84 Q465.09,1022.41 464.42,1020.76 Z" fill="#3ed23a" opacity="1.00"/>
<path d="M469.06,1060.31 Q468.23,1059.03 468.17,1057.67 Q468.11,1056.32 469.16,1055.76 Q470.22,1055.20 471.47,1054.13 Q472.73,1053.06 473.63,1054.45 Q474.53,1055.83 474.17,1057.15 Q473.80,1058.46 473.00,1059.05 Q472.21,1059.64 471.05,1060.62 Q469.88,1061.60 469.06,1060.31 Z" fill="#3ed23a" opacity="1.00"/>
<path d="M410.41,1065.11 Q411.09,1065.75 411.19,1066.57 Q411.29,1067.39 410.93,1068.16 Q410.57,1068.94 409.64,1069.36 Q408.72,1069.78 407.75,1069.23 Q406.78,1068.67 406.56,1067.56 Q406.34,1066.44 406.97,1065.51 Q407.61,1064.58 408.67,1064.52 Q409.73,1064.47 410.41,1065.11 Z" fill="#3ed23a" opacity="1.00"/>
<path d="M442.32,1056.49 Q442.37,1055.68 442.68,1054.79 Q443.00,1053.91 443.90,1054.16 Q444.81,1054.41 445.55,1054.79 Q446.28,1055.17 446.06,1055.95 Q445.83,1056.73 445.61,1057.55 Q445.38,1058.37 444.50,1058.34 Q443.62,1058.31 442.95,1057.81 Q442.27,1057.30 442.32,1056.49 Z" fill="#3ed23a" opacity="0.60"/>
<path d="M437.57,1059.60 Q436.61,1059.70 435.83,1059.35 Q435.05,1059.00 434.75,1058.18 Q434.45,1057.36 434.98,1056.73 Q435.51,1056.09 436.20,1055.67 Q436.89,1055.25 437.63,1055.66 Q438.37,1056.07 438.41,1056.84 Q438.45,1057.61 438.49,1058.55 Q438.52,1059.50 437.57,1059.60 Z" fill="#3ed23a" opacity="0.60"/>
<path d="M391.29,972.62 Q391.85,972.81 392.12,973.22 Q392.40,973.62 392.41,974.10 Q392.42,974.59 392.04,974.94 Q391.67,975.29 391.16,975.24 Q390.65,975.19 390.27,974.82 Q389.89,974.45 390.17,974.02 Q390.45,973.60 390.59,973.01 Q390.73,972.42 391.29,972.62 Z" fill="#3ed23a" opacity="0.60"/>
<path d="M438.39,1003.43 Q438.17,1003.88 437.73,1004.05 Q437.28,1004.22 436.88,1004.01 Q436.48,1003.81 436.38,1003.41 Q436.29,1003.02 436.26,1002.53 Q436.24,1002.03 436.73,1001.73 Q437.21,1001.42 437.63,1001.80 Q438.04,1002.17 438.32,1002.57 Q438.60,1002.97 438.39,1003.43 Z" fill="#3ed23a" opacity="0.60"/>
<path d="M463.88,984.14 Q464.20,983.90 464.64,983.99 Q465.09,984.07 465.21,984.51 Q465.32,984.95 465.32,985.46 Q465.32,985.97 464.81,986.12 Q464.31,986.26 463.95,985.99 Q463.60,985.72 463.15,985.40 Q462.69,985.08 463.13,984.73 Q463.57,984.39 463.88,984.14 Z" fill="#3ed23a" opacity="0.60"/>
<path d="M383.31,1019.27 Q383.66,1018.92 384.12,1018.89 Q384.59,1018.87 384.99,1019.12 Q385.40,1019.37 385.24,1019.81 Q385.07,1020.24 384.90,1020.57 Q384.74,1020.89 384.33,1021.01 Q383.92,1021.13 383.59,1020.83 Q383.27,1020.53 383.12,1020.08 Q382.97,1019.62 383.31,1019.27 Z" fill="#3ed23a" opacity="0.50"/>
<path d="M449.15,1007.56 Q449.75,1007.70 450.10,1008.08 Q450.45,1008.47 450.68,1009.05 Q450.91,1009.64 450.36,1009.95 Q449.81,1010.26 449.25,1010.37 Q448.69,1010.47 448.37,1010.00 Q448.06,1009.53 447.83,1008.95 Q447.61,1008.37 448.08,1007.90 Q448.55,1007.43 449.15,1007.56 Z" fill="#3ed23a" opacity="0.60"/>
</g>
<line x1="468.25" y1="1067.0" x2="478.75" y2="1067.0" stroke="#e0e0e0" stroke-width="2.0"/>
<polygon points="412.75,994.45 421.25,996.25 412.75,998.05" fill="#fff"/>
<polygon points="436.5,1018.7 445,1020.5 436.5,1022.3" fill="#fff"/>
<polygon points="396.5,1025.2 405,1027 396.5,1028.8" fill="#fff"/>
<circle cx="425.75" cy="996.25" r="2.2" fill="#e8e040" stroke="none" stroke-width="0" opacity="0.9"/>
<circle cx="450.00" cy="1020.75" r="2.6" fill="#e8e040" stroke="none" stroke-width="0" opacity="0.9"/>
<circle cx="408.75" cy="1026.25" r="2.2" fill="#e8e040" stroke="none" stroke-width="0" opacity="0.9"/>
<circle cx="466.25" cy="997.50" r="2.0" fill="#e8e040" stroke="none" stroke-width="0" opacity="0.9"/>
</svg>
</body></html>
